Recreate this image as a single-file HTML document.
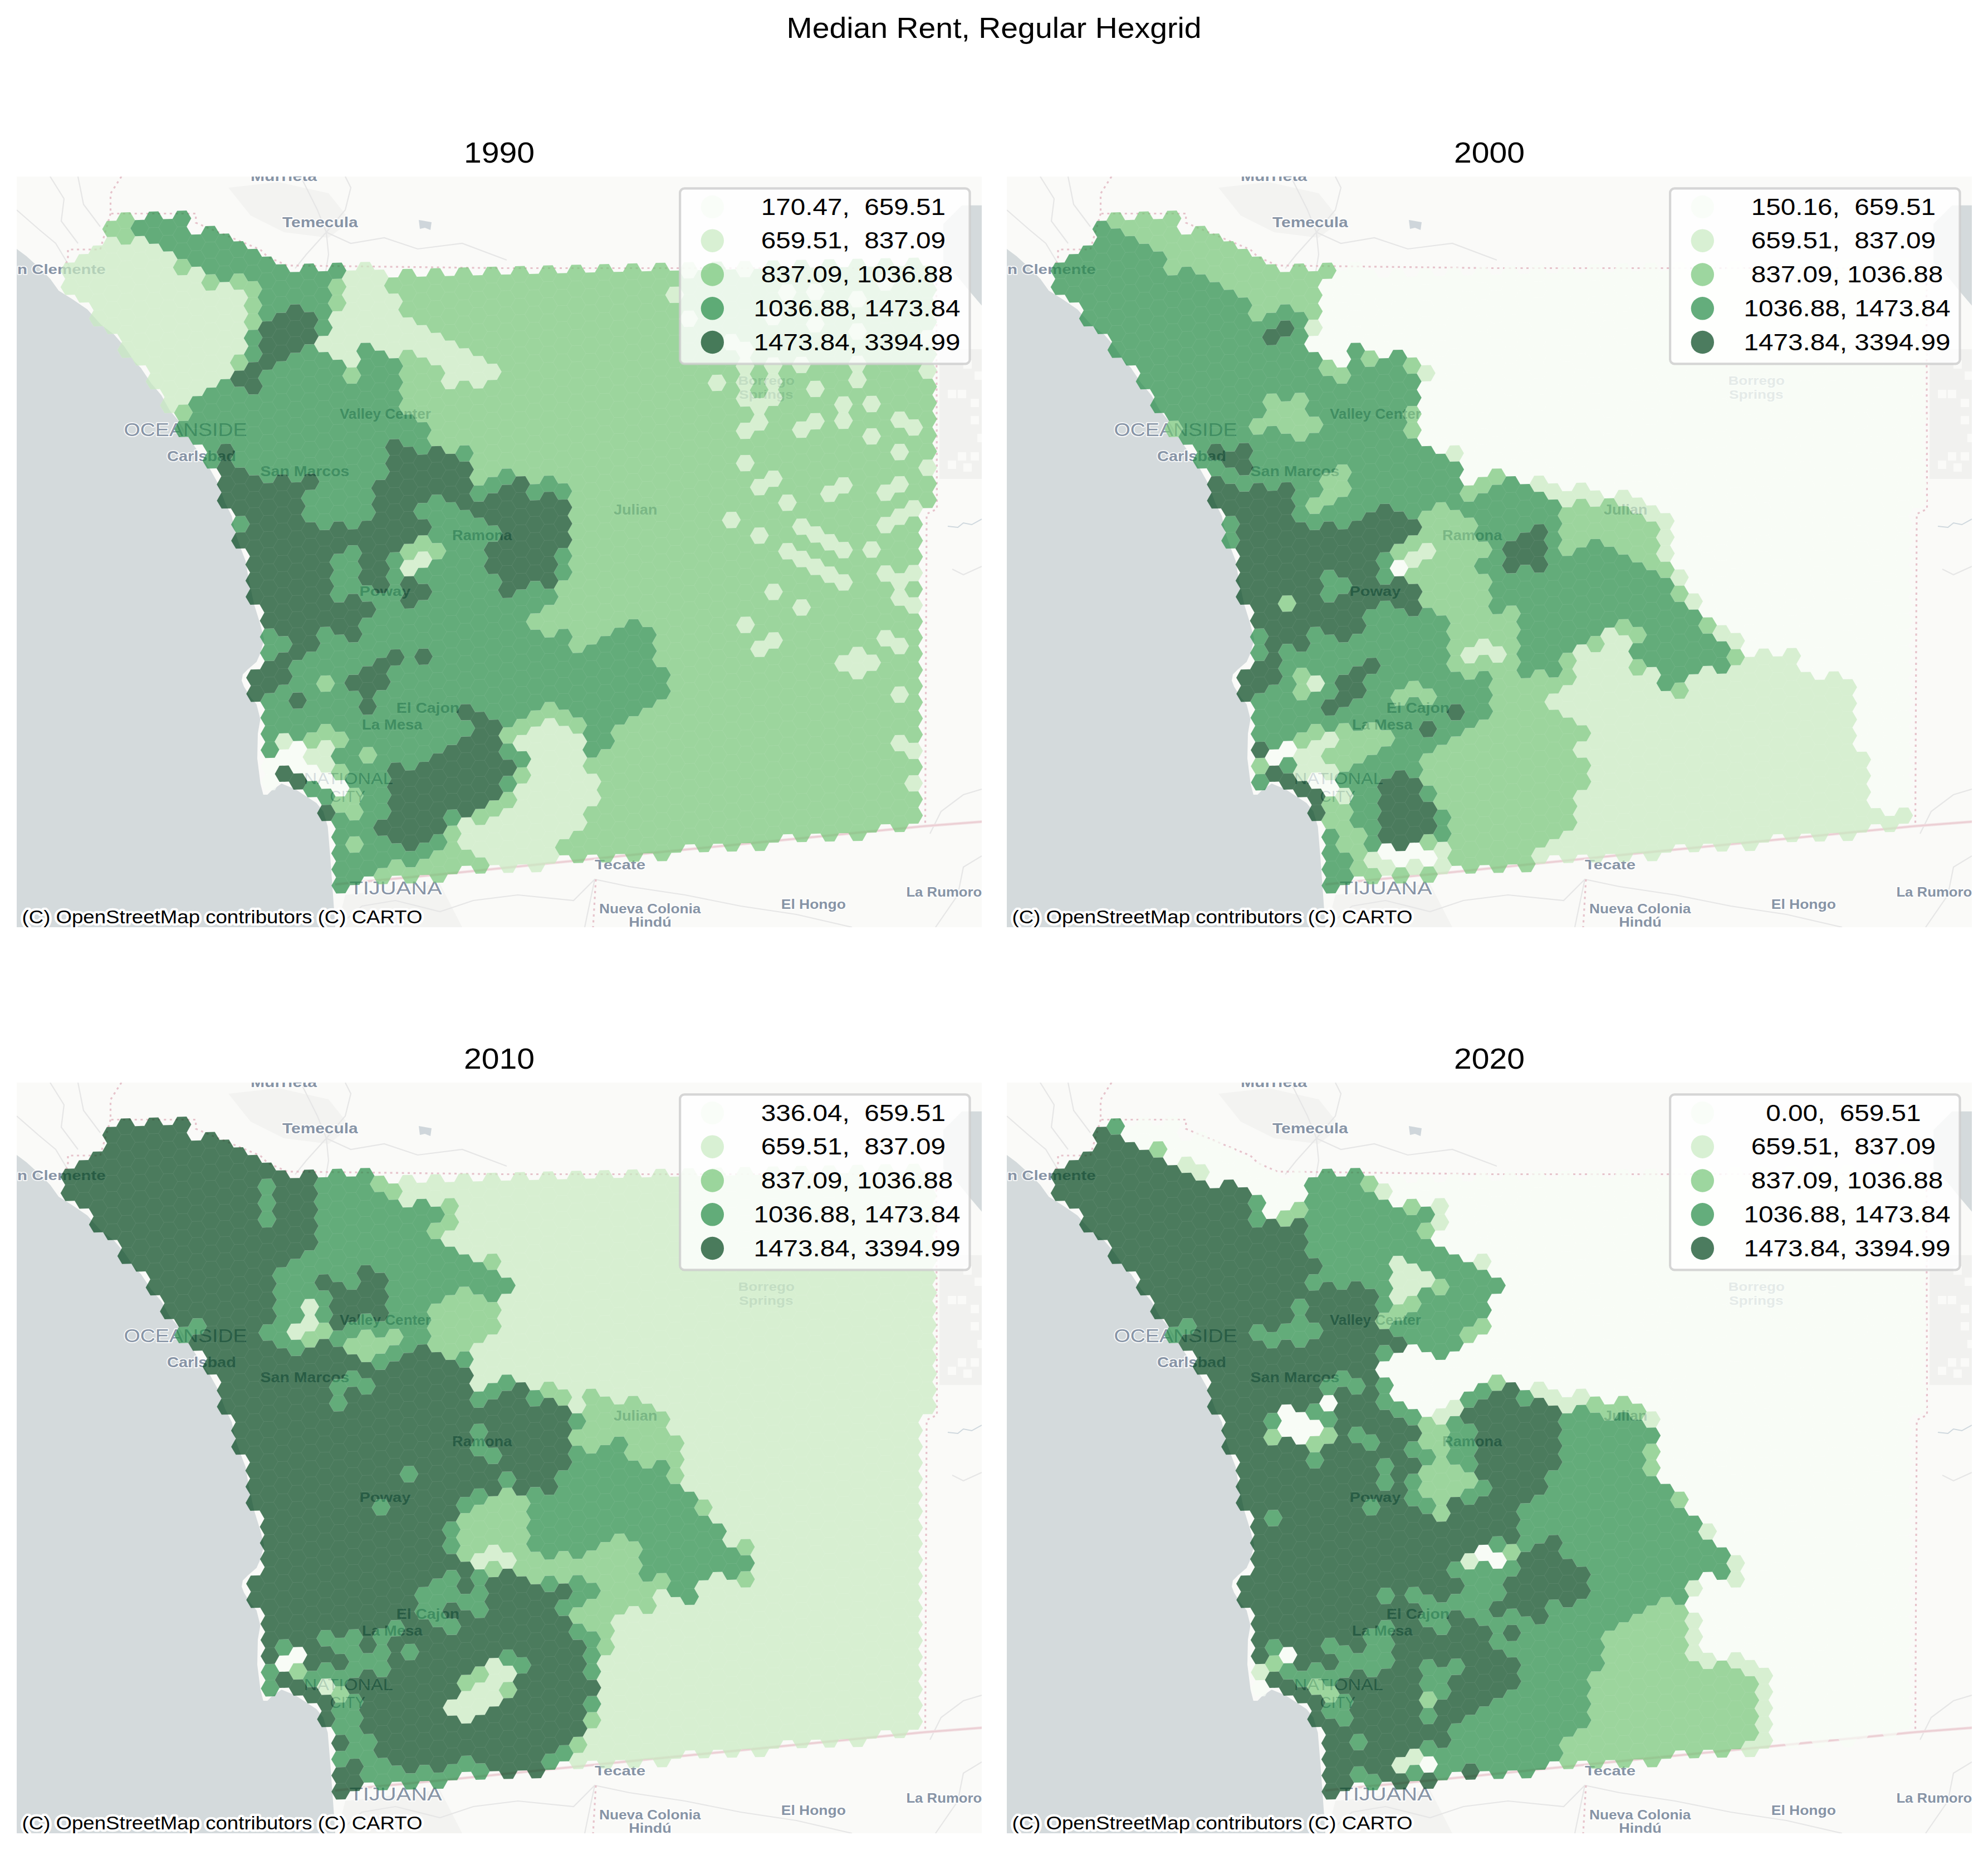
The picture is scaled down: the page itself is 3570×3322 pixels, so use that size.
<!DOCTYPE html>
<html><head><meta charset="utf-8"><title>Median Rent, Regular Hexgrid</title>
<style>html,body{margin:0;padding:0;background:#fff}svg{display:block}text{font-family:"Liberation Sans",sans-serif;fill:#000}</style></head><body>
<svg xmlns="http://www.w3.org/2000/svg" width="3570" height="3322" viewBox="0 0 3570 3322">
<defs><clipPath id="cp"><rect x="0" y="0" width="1733" height="1348"/></clipPath>
<g id="base"><rect width="1733" height="1348" fill="#fafaf8"/><rect x="1657" y="310" width="80" height="233" fill="#f1f1ef"/><rect x="1690" y="383" width="15" height="15" fill="#fafaf8"/><rect x="1713" y="399" width="15" height="15" fill="#fafaf8"/><rect x="1672" y="383" width="15" height="15" fill="#fafaf8"/><rect x="1713" y="430" width="15" height="15" fill="#fafaf8"/><rect x="1690" y="495" width="15" height="15" fill="#fafaf8"/><rect x="1713" y="495" width="15" height="15" fill="#fafaf8"/><rect x="1672" y="510" width="15" height="15" fill="#fafaf8"/><rect x="1700" y="330" width="15" height="15" fill="#fafaf8"/><rect x="1720" y="350" width="15" height="15" fill="#fafaf8"/><rect x="1725" y="462" width="15" height="15" fill="#fafaf8"/><rect x="1700" y="515" width="15" height="15" fill="#fafaf8"/><path fill="#d4dadc" d="M1697.5 51.7L1740.0 51.7L1740.0 240.0L1712.0 207.0L1690.0 180.0L1664.0 155.0L1664.0 85.0z"/><path fill="#cfd6db" d="M722.0 78.0L745.0 82.0L743.0 96.0L733.0 92.0L724.0 94.0z"/><path fill="#f3f3f1" d="M380.0 20.0L470.0 10.0L560.0 30.0L600.0 80.0L560.0 110.0L480.0 100.0L420.0 70.0z"/><path fill="#f3f3f1" d="M590.0 1290.0L760.0 1270.0L800.0 1348.0L575.0 1348.0z"/><path fill="#d4dadc" d="M0.0 130.0L17.5 143.0L44.0 167.0L60.4 184.0L75.5 205.0L99.6 220.0L126.8 238.5L150.9 265.6L175.0 283.7L193.2 304.9L211.3 332.0L223.3 344.1L241.5 371.3L259.6 392.4L274.6 419.5L289.7 437.7L304.8 461.8L332.0 504.0L347.1 525.2L362.2 552.3L374.2 585.5L386.3 609.7L392.4 639.9L404.4 673.1L411.0 690.0L416.0 720.0L426.3 768.3L437.5 804.0L444.2 831.0L438.0 855.0L430.7 871.5L415.0 885.0L406.0 893.9L404.0 905.0L408.3 916.3L420.0 935.0L430.7 947.7L437.5 974.6L433.0 1000.0L432.0 1045.0L437.7 1090.0L442.8 1110.0L450.3 1110.0L457.7 1102.5L475.6 1090.0L500.0 1100.0L538.4 1125.0L550.5 1140.0L558.6 1167.6L563.1 1221.4L567.6 1284.2L572.1 1348.0L0.0 1348.0z"/><path fill="none" stroke="#e6e6e6" stroke-width="2.2" d="M0.0 60.0L40.0 95.0L70.0 120.0L100.0 170.0"/><path fill="none" stroke="#e6e6e6" stroke-width="2.2" d="M60.0 0.0L85.0 40.0L80.0 80.0L110.0 120.0"/><path fill="none" stroke="#e6e6e6" stroke-width="2.2" d="M110.0 0.0L120.0 50.0L150.0 90.0"/><path fill="none" stroke="#e6e6e6" stroke-width="2.2" d="M556.0 100.0L540.0 60.0L520.0 20.0L510.0 0.0"/><path fill="none" stroke="#e6e6e6" stroke-width="2.2" d="M556.0 100.0L590.0 60.0L600.0 20.0L590.0 0.0"/><path fill="none" stroke="#e6e6e6" stroke-width="2.2" d="M556.0 100.0L600.0 120.0L660.0 110.0L720.0 130.0L800.0 120.0L880.0 150.0"/><path fill="none" stroke="#e6e6e6" stroke-width="2.2" d="M556.0 100.0L520.0 140.0L500.0 165.0"/><path fill="none" stroke="#e6e6e6" stroke-width="2.2" d="M556.0 100.0L560.0 140.0L555.0 170.0"/><path fill="none" stroke="#e6e6e6" stroke-width="2.2" d="M575.0 1348.0L620.0 1310.0L680.0 1300.0L760.0 1320.0L820.0 1300.0L900.0 1290.0L1000.0 1300.0L1038.0 1262.0L1100.0 1275.0L1200.0 1290.0L1300.0 1310.0L1400.0 1325.0L1500.0 1348.0"/><path fill="none" stroke="#e6e6e6" stroke-width="2.2" d="M1038.0 1262.0L1030.0 1300.0L1020.0 1348.0"/><path fill="none" stroke="#e6e6e6" stroke-width="2.2" d="M1650.0 1348.0L1690.0 1290.0L1700.0 1240.0L1733.0 1220.0"/><path fill="none" stroke="#e6e6e6" stroke-width="2.2" d="M1640.0 1180.0L1660.0 1140.0L1700.0 1110.0L1733.0 1100.0"/><path fill="none" stroke="#e6e6e6" stroke-width="2.2" d="M1733.0 700.0L1700.0 715.0L1680.0 705.0"/><path fill="none" stroke="#cfd8de" stroke-width="2" d="M1733.0 615.0L1715.0 625.0L1700.0 622.0L1690.0 630.0L1672.0 628.0"/><path fill="none" stroke="#f1dde0" stroke-width="5" d="M572.0 1271.0L772.0 1252.0L1140.0 1214.6L1630.0 1166.5L1740.0 1158.0"/><path fill="none" stroke="#e9c9cf" stroke-width="1.6" d="M572.0 1271.0L772.0 1252.0L1140.0 1214.6L1630.0 1166.5L1740.0 1158.0"/><path fill="none" stroke="#e6c3cb" stroke-width="3.2" stroke-dasharray="4 6.5" d="M188.0 0.0L168.5 30.6L168.5 66.5L321.7 66.5L321.7 83.0L437.6 131.3L450.8 144.4L485.8 159.7L870.0 164.5L1651.4 164.5L1652.5 597.0L1634.0 606.0L1631.5 1166.0"/><path fill="none" stroke="#e6c3cb" stroke-width="3.2" stroke-dasharray="4 6.5" d="M168.5 66.5L150.0 131.0L92.0 131.0L92.0 150.0L78.0 172.0"/><path fill="none" stroke="#e6c3cb" stroke-width="3.2" stroke-dasharray="4 6.5" d="M1040.0 1262.0L1035.0 1348.0"/><text x="420.0" y="8.0" font-size="25.0" font-weight="bold" textLength="119.0" lengthAdjust="spacingAndGlyphs" style="fill:#8794a6" stroke="#fff" stroke-width="3.5" stroke-opacity="0.85" stroke-linejoin="round" paint-order="stroke">Murrieta</text><text x="477.0" y="90.6" font-size="25.7" font-weight="bold" textLength="135.7" lengthAdjust="spacingAndGlyphs" style="fill:#8794a6" stroke="#fff" stroke-width="3.5" stroke-opacity="0.85" stroke-linejoin="round" paint-order="stroke">Temecula</text><text x="1.0" y="175.0" font-size="24.5" font-weight="bold" textLength="158.7" lengthAdjust="spacingAndGlyphs" style="fill:#8794a6" stroke="#fff" stroke-width="3.5" stroke-opacity="0.85" stroke-linejoin="round" paint-order="stroke">n Clemente</text><text x="192.6" y="466.3" font-size="33.5" font-weight="normal" textLength="221.0" lengthAdjust="spacingAndGlyphs" style="fill:#8794a6" stroke="#fff" stroke-width="3.5" stroke-opacity="0.85" stroke-linejoin="round" paint-order="stroke">OCEANSIDE</text><text x="270.0" y="510.9" font-size="25.0" font-weight="bold" textLength="123.9" lengthAdjust="spacingAndGlyphs" style="fill:#8794a6" stroke="#fff" stroke-width="3.5" stroke-opacity="0.85" stroke-linejoin="round" paint-order="stroke">Carlsbad</text><text x="437.6" y="538.0" font-size="25.0" font-weight="bold" textLength="159.8" lengthAdjust="spacingAndGlyphs" style="fill:#8794a6" stroke="#fff" stroke-width="3.5" stroke-opacity="0.85" stroke-linejoin="round" paint-order="stroke">San Marcos</text><text x="579.9" y="435.2" font-size="25.0" font-weight="bold" textLength="164.1" lengthAdjust="spacingAndGlyphs" style="fill:#8794a6" stroke="#fff" stroke-width="3.5" stroke-opacity="0.85" stroke-linejoin="round" paint-order="stroke">Valley Center</text><text x="782.1" y="653.1" font-size="25.0" font-weight="bold" textLength="107.2" lengthAdjust="spacingAndGlyphs" style="fill:#8794a6" stroke="#fff" stroke-width="3.5" stroke-opacity="0.85" stroke-linejoin="round" paint-order="stroke">Ramona</text><text x="1071.9" y="606.9" font-size="25.0" font-weight="bold" textLength="78.5" lengthAdjust="spacingAndGlyphs" style="fill:#8794a6" stroke="#fff" stroke-width="3.5" stroke-opacity="0.85" stroke-linejoin="round" paint-order="stroke">Julian</text><text x="615.4" y="753.0" font-size="24.0" font-weight="bold" textLength="92.0" lengthAdjust="spacingAndGlyphs" style="fill:#8794a6" stroke="#fff" stroke-width="3.5" stroke-opacity="0.85" stroke-linejoin="round" paint-order="stroke">Poway</text><text x="681.8" y="963.3" font-size="25.0" font-weight="bold" textLength="113.2" lengthAdjust="spacingAndGlyphs" style="fill:#8794a6" stroke="#fff" stroke-width="3.5" stroke-opacity="0.85" stroke-linejoin="round" paint-order="stroke">El Cajon</text><text x="620.0" y="992.6" font-size="25.0" font-weight="bold" textLength="108.6" lengthAdjust="spacingAndGlyphs" style="fill:#8794a6" stroke="#fff" stroke-width="3.5" stroke-opacity="0.85" stroke-linejoin="round" paint-order="stroke">La Mesa</text><text x="515.8" y="1091.0" font-size="28.6" font-weight="normal" textLength="160.0" lengthAdjust="spacingAndGlyphs" style="fill:#8794a6" stroke="#fff" stroke-width="3.5" stroke-opacity="0.85" stroke-linejoin="round" paint-order="stroke">NATIONAL</text><text x="562.6" y="1122.7" font-size="28.6" font-weight="normal" textLength="63.4" lengthAdjust="spacingAndGlyphs" style="fill:#8794a6" stroke="#fff" stroke-width="3.5" stroke-opacity="0.85" stroke-linejoin="round" paint-order="stroke">CITY</text><text x="597.4" y="1289.0" font-size="33.5" font-weight="normal" textLength="166.3" lengthAdjust="spacingAndGlyphs" style="fill:#8794a6" stroke="#fff" stroke-width="3.5" stroke-opacity="0.85" stroke-linejoin="round" paint-order="stroke">TIJUANA</text><text x="1038.0" y="1244.0" font-size="24.5" font-weight="bold" textLength="91.0" lengthAdjust="spacingAndGlyphs" style="fill:#8794a6" stroke="#fff" stroke-width="3.5" stroke-opacity="0.85" stroke-linejoin="round" paint-order="stroke">Tecate</text><text x="1046.0" y="1323.3" font-size="23.0" font-weight="bold" textLength="182.4" lengthAdjust="spacingAndGlyphs" style="fill:#8794a6" stroke="#fff" stroke-width="3.5" stroke-opacity="0.85" stroke-linejoin="round" paint-order="stroke">Nueva Colonia</text><text x="1099.3" y="1347.0" font-size="23.0" font-weight="bold" textLength="76.6" lengthAdjust="spacingAndGlyphs" style="fill:#8794a6" stroke="#fff" stroke-width="3.5" stroke-opacity="0.85" stroke-linejoin="round" paint-order="stroke">Hindú</text><text x="1372.8" y="1314.5" font-size="24.0" font-weight="bold" textLength="116.0" lengthAdjust="spacingAndGlyphs" style="fill:#8794a6" stroke="#fff" stroke-width="3.5" stroke-opacity="0.85" stroke-linejoin="round" paint-order="stroke">El Hongo</text><text x="1597.4" y="1292.6" font-size="24.0" font-weight="bold" textLength="164.6" lengthAdjust="spacingAndGlyphs" style="fill:#8794a6" stroke="#fff" stroke-width="3.5" stroke-opacity="0.85" stroke-linejoin="round" paint-order="stroke">La Rumorosa</text><text x="1295.4" y="373.5" font-size="21.6" font-weight="bold" textLength="101.5" lengthAdjust="spacingAndGlyphs" style="fill:#b9c0c9" stroke="#fff" stroke-width="3.5" stroke-opacity="0.85" stroke-linejoin="round" paint-order="stroke">Borrego</text><text x="1297.0" y="398.9" font-size="21.6" font-weight="bold" textLength="97.7" lengthAdjust="spacingAndGlyphs" style="fill:#b9c0c9" stroke="#fff" stroke-width="3.5" stroke-opacity="0.85" stroke-linejoin="round" paint-order="stroke">Springs</text></g>
<path id="seams" fill="none" stroke="#fff" stroke-opacity="0.09" stroke-width="0.9" d="M78.5 169.5l8.2 -14.8l16.9 -0.5l8.5 14.3l16.9 -0.6l8.3 -14.8l-8.6 -14.2l8.3 -14.8l16.9 -0.5l8.5 14.2l16.8 -0.5l8.3 -14.8l-8.5 -14.2l8.3 -14.8l-8.5 -14.3l-16.9 0.5l-8.3 14.8l8.6 14.3l16.8 -0.5M78.5 169.5l8.5 14.3l-8.3 14.8l8.6 14.2l16.8 -0.5l8.3 -14.8l16.8 -0.5l8.3 -14.8l-8.5 -14.3M87 183.8l16.8 -0.6l8.3 -14.7M103.6 154.2l8.3 -14.8l16.8 -0.5M103.8 183.2l8.6 14.3M104.1 212.3l8.5 14.2l16.9 -0.5l8.5 14.3l-8.3 14.7l8.6 14.3l16.8 -0.5l8.3 -14.8l16.8 -0.5l8.3 -14.8l16.8 -0.5l8.3 -14.8l16.9 -0.5l8.3 -14.8l16.8 -0.5l8.3 -14.8l-8.5 -14.3l-16.9 0.5l-8.5 -14.2l8.3 -14.8l-8.5 -14.3l8.3 -14.7l-8.6 -14.3l8.3 -14.8l-8.5 -14.2l8.3 -14.8l16.8 -0.5l8.6 14.2l16.8 -0.5l8.6 14.3l-8.3 14.8l-16.9 0.5l-8.5 -14.3l-16.9 0.5M129.2 197l8.6 14.2l16.8 -0.5l8.5 14.2l16.9 -0.5l8.5 14.3M129.5 226l8.3 -14.8M137.3 153.1l16.8 -0.5l8.3 -14.8M137.5 182.2l16.8 -0.6l8.3 -14.7l16.9 -0.6l8.5 14.3l16.9 -0.5l8.3 -14.8l16.8 -0.5M138 240.3l16.8 -0.6l8.3 -14.8M153.9 123.6l8.3 -14.8M154.1 152.6l8.5 14.3M154.3 181.6l8.6 14.3l16.8 -0.5l8.3 -14.8M154.6 210.7l8.3 -14.8M154.8 239.7l8.6 14.3M155.1 268.8l8.5 14.2l16.9 -0.5l8.2 -14.8l-8.5 -14.2M178.8 79.2l8.3 -14.8l16.8 -0.5l8.5 14.3l-8.3 14.8l-16.8 0.5M179.2 137.3l8.6 14.3l-8.3 14.7M179.7 195.4l8.6 14.2l16.8 -0.5l8.5 14.3M180 224.4l8.3 -14.8M180.5 282.5l8.5 14.3l16.8 -0.6l8.3 -14.7l-8.5 -14.3l-16.9 0.5M180.7 311.5l8.3 -14.7M180.7 311.5l8.5 14.3l16.9 -0.5l8.2 -14.8l16.9 -0.5l8.3 -14.8l16.8 -0.5l8.3 -14.8l-8.5 -14.2l-16.9 0.5l-8.5 -14.3l8.3 -14.8l-8.5 -14.2M187.5 122.5l16.9 -0.5l8.5 14.3l16.9 -0.6M187.8 151.6l16.8 -0.6l8.3 -14.7M204.1 93l8.6 14.2l-8.3 14.8M204.6 151l8.6 14.3M204.9 180.1l8.5 14.2l-8.3 14.8M205.3 238.2l8.6 14.2l-8.3 14.8M205.8 296.2l8.5 14.3M206.1 325.3l8.5 14.2l16.8 -0.5l8.3 -14.8l-8.5 -14.2M212.4 78.2l16.9 -0.5M212.7 107.2l16.8 -0.5M213.4 194.3l16.8 -0.5l8.6 14.3M213.9 252.4l16.8 -0.5M214.1 281.5l16.8 -0.6l8.6 14.3M230.2 193.8l8.3 -14.8M230.9 280.9l8.3 -14.7M231.4 339l8.5 14.3l16.8 -0.5l8.3 -14.8l-8.5 -14.3l-16.8 0.5M231.6 368.1l8.3 -14.8M231.6 368.1l8.6 14.2l16.8 -0.5l8.3 -14.8l-8.6 -14.2M238.1 121l16.8 -0.5l8.3 -14.8M238.3 150l16.8 -0.5l8.3 -14.8l16.9 -0.5l8.3 -14.8l16.8 -0.5l8.3 -14.7l16.9 -0.5l8.3 -14.8l16.8 -0.5l8.6 14.3l16.8 -0.5l8.5 14.3l-8.3 14.7l8.6 14.3l16.8 -0.5l8.3 -14.8l-8.5 -14.2l-16.9 0.5M239 237.1l16.8 -0.5l8.3 -14.8l-8.5 -14.2M254.7 91.4l8.3 -14.8M254.9 120.5l8.5 14.2M255.1 149.5l8.6 14.3l16.8 -0.5l8.5 14.2l-8.3 14.8l-16.8 0.5M255.4 178.5l8.3 -14.7M255.8 236.6l8.6 14.3l16.8 -0.5l8.5 14.2l16.8 -0.5l8.3 -14.7l16.9 -0.5l8.3 -14.8l-8.5 -14.3l-16.9 0.5l-8.5 -14.2l8.3 -14.8l16.8 -0.5l8.4 -14.8l16.8 -0.5l8.3 -14.8l-8.5 -14.2l-16.9 0.5l-8.5 -14.3l8.3 -14.8l-8.5 -14.2M256.1 265.7l8.3 -14.8M256.3 294.7l8.5 14.3l16.8 -0.5l8.3 -14.8l16.9 -0.5l8.3 -14.8l16.8 -0.5l8.3 -14.8l16.8 -0.5l8.3 -14.7l-8.5 -14.3l-16.8 0.5M256.5 323.7l8.3 -14.7M257 381.8l8.5 14.3l16.8 -0.5l8.5 14.2l-8.3 14.8l8.6 14.3l16.8 -0.5l8.3 -14.8l16.8 -0.5l8.3 -14.8l-8.5 -14.2l-16.9 0.5l-8.5 -14.3l8.3 -14.8l-8.5 -14.2l8.3 -14.8l-8.5 -14.3l8.3 -14.8l-8.5 -14.2M257.2 410.9l8.3 -14.8M257.2 410.9l8.5 14.2l16.8 -0.5M264.1 221.8l16.9 -0.5l8.3 -14.7l16.8 -0.5M264.6 279.9l16.8 -0.5l8.3 -14.8M265 338l16.9 -0.5l8.5 14.3l16.8 -0.5M265.3 367l16.8 -0.5l8.3 -14.7M279.8 76.1l8.3 -14.7l16.9 -0.5l8.5 14.2l-8.3 14.8l-16.8 0.5M280.1 105.2l8.5 14.2M280.3 134.2l8.5 14.3l16.9 -0.5l8.5 14.2l16.8 -0.5l8.3 -14.7M280.5 163.3l8.3 -14.8M280.7 192.3l8.6 14.3M281 221.3l8.5 14.3l-8.3 14.8M281.4 279.4l8.5 14.3M281.6 308.5l8.6 14.2l16.8 -0.5M281.9 337.5l8.3 -14.8M282.1 366.5l8.5 14.3l-8.3 14.8M282.8 453.7l8.3 -14.8M282.8 453.7l8.5 14.2l16.8 -0.5l8.3 -14.8l-8.5 -14.2M289 177.5l16.9 -0.5l8.3 -14.8M289.5 235.6l16.8 -0.5l8.5 14.3M290.6 380.8l16.8 -0.5M290.8 409.8l16.8 -0.5l8.6 14.3M305.2 89.9l8.5 14.3M305.4 118.9l8.6 14.3l16.8 -0.5M305.7 148l8.3 -14.8M305.9 177l8.5 14.3M306.3 235.1l8.3 -14.8M306.5 264.1l8.6 14.3M307.6 409.3l8.3 -14.7M308.1 467.4l8.5 14.3l16.8 -0.5l8.5 14.3l-8.3 14.7l8.5 14.3l16.8 -0.5l8.3 -14.8l16.8 -0.5l8.3 -14.7l16.8 -0.5l8.3 -14.8l16.9 -0.5l8.5 14.3l16.8 -0.5l8.3 -14.7l16.8 -0.5l8.3 -14.8l-8.5 -14.2l8.3 -14.8l-8.5 -14.3l-16.8 0.5l-8.5 -14.3l8.3 -14.8l-8.5 -14.2l8.3 -14.8l-8.5 -14.3l8.3 -14.7l-8.5 -14.3l8.3 -14.8l16.8 -0.4l8.3 -14.8l16.9 -0.5l8.3 -14.7l16.8 -0.5l8.3 -14.8l-8.5 -14.2l-16.8 0.4l-8.5 -14.3l-16.8 0.5l-8.6 -14.3l8.4 -14.7l16.8 -0.5l8.3 -14.8l-8.5 -14.2l-16.8 0.4l-8.5 -14.2l-16.9 0.4l-8.5 -14.3l-16.8 0.5l-8.3 14.8l-16.9 0.5l-8.5 -14.3M315.3 307.4l16.8 -0.5l8.5 14.3l16.9 -0.5l8.3 -14.8l-8.6 -14.2l8.3 -14.8l-8.5 -14.3M315.5 336.5l16.8 -0.5l8.3 -14.8M315.7 365.5l16.8 -0.5l8.3 -14.7l16.9 -0.5l8.3 -14.8l16.8 -0.5l8.3 -14.8l16.8 -0.5l8.3 -14.7l16.9 -0.5l8.3 -14.8l-8.5 -14.2l-16.9 0.4l-8.5 -14.2l8.3 -14.8l-8.5 -14.3l8.3 -14.7l-8.5 -14.3l8.3 -14.8l-8.5 -14.3l8.3 -14.7M316.4 452.6l16.8 -0.5l8.3 -14.7l-8.5 -14.3M331 161.7l8.6 14.3M331.2 190.8l8.6 14.3l16.8 -0.5l8.3 -14.8l-8.5 -14.3M331.5 219.8l8.3 -14.7M331.7 248.9l8.5 14.2M331.9 277.9l8.5 14.3l16.8 -0.5M332.1 306.9l8.3 -14.7M332.3 336l8.5 14.3M332.5 365l8.6 14.3l16.8 -0.5l8.5 14.3l16.8 -0.5l8.3 -14.8l-8.5 -14.3l-16.8 0.5l-8.5 -14.2M332.8 394.1l8.3 -14.8M333.2 452.1l8.5 14.3l16.8 -0.5l8.5 14.3l16.8 -0.5l8.3 -14.8l-8.5 -14.2l8.3 -14.8l-8.5 -14.3l8.3 -14.7l16.8 -0.5l8.3 -14.8l16.9 -0.5l8.3 -14.7l-8.5 -14.3l8.3 -14.8l-8.5 -14.3l-16.9 0.5l-8.5 -14.3M333.4 481.2l8.3 -14.8M339.1 117.9l16.9 -0.5l8.3 -14.7M341.3 408.3l16.8 -0.5l8.3 -14.7M341.5 437.4l16.8 -0.5l8.3 -14.8l16.8 -0.5M341.9 495.5l16.8 -0.5l8.3 -14.8M356 117.4l8.5 14.3l16.8 -0.5M356.2 146.5l8.3 -14.8M356.6 204.6l8.5 14.2l16.9 -0.5l8.3 -14.7l-8.6 -14.3l8.4 -14.8l16.8 -0.5M356.8 233.6l8.3 -14.8M357.5 320.7l8.5 14.3M357.9 378.8l8.3 -14.8M358.1 407.8l8.5 14.3M358.3 436.9l8.5 14.2l16.8 -0.4M358.5 465.9l8.3 -14.8M358.7 495l8.5 14.2M358.9 524l8.5 14.3l16.8 -0.5l8.6 14.3l16.8 -0.5l8.3 -14.8l-8.6 -14.3l8.3 -14.7l-8.5 -14.3M359.2 553l8.2 -14.7M359.2 553l8.5 14.3l-8.3 14.8l8.5 14.2l16.8 -0.4l8.3 -14.8l16.8 -0.5l8.3 -14.8l-8.5 -14.2M364.7 160.7l16.8 -0.4l8.4 -14.8M364.9 189.8l16.8 -0.5M365.3 247.9l16.9 -0.5l8.3 -14.8l16.8 -0.5M365.5 276.9l16.9 -0.5l8.3 -14.7l16.8 -0.5M365.8 305.9l16.8 -0.4l8.5 14.2M367.7 567.3l16.8 -0.5l8.5 14.3M381.5 160.3l8.6 14.2M382 218.3l8.5 14.3M382.2 247.4l8.5 14.3M382.4 276.4l8.5 14.3l-8.3 14.8M382.8 334.5l8.5 14.3l-8.3 14.7M383.2 392.6l8.5 14.3M383.8 479.7l8.5 14.3M384 508.7l8.5 14.3l-8.3 14.8M384.5 566.8l8.3 -14.7M384.7 595.9l8.5 14.2l-8.3 14.8l8.5 14.3l16.8 -0.5l8.3 -14.8l-8.5 -14.3l8.3 -14.7l-8.5 -14.3M385.1 653.9l8.3 -14.7M385.1 653.9l8.5 14.3l16.8 -0.5l8.3 -14.7l-8.5 -14.3M390.3 203.6l16.8 -0.5M390.9 290.7l16.8 -0.5l8.5 14.3M391.3 348.8l16.8 -0.5l8.3 -14.8M391.5 377.8l16.8 -0.5l8.5 14.3M391.9 435.9l16.8 -0.5l8.3 -14.8l-8.5 -14.2M392.1 464.9l16.8 -0.5l8.5 14.3M392.5 523l16.8 -0.5M393.2 610.1l16.8 -0.5M407.7 290.2l8.3 -14.8M408.1 348.3l8.5 14.3l16.9 -0.5M408.3 377.3l8.3 -14.7M408.7 435.4l8.5 14.3l16.9 -0.5l8.3 -14.8l-8.5 -14.2l-16.9 0.4M408.9 464.4l8.3 -14.7M410.4 667.7l8.5 14.3l16.8 -0.5l8.4 14.3l-8.2 14.8l-16.8 0.4l-8.3 14.8l8.5 14.3l16.8 -0.5l8.2 -14.8l-8.4 -14.2M410.6 696.8l8.3 -14.8M410.6 696.8l8.5 14.2M411 754.8l8.3 -14.7M411 754.8l8.5 14.3l16.8 -0.5l8.4 14.3l-8.2 14.8l8.4 14.3l16.8 -0.5l8.3 -14.8l16.8 -0.5l8.3 -14.7l16.7 -0.5l8.3 -14.8l16.8 -0.4l8.3 -14.8l-8.5 -14.3l-16.7 0.5l-8.5 -14.3l8.3 -14.7l-8.5 -14.3l-16.8 0.5l-8.3 14.7l-16.8 0.5l-8.3 14.7l-16.8 0.5M412 900l8.3 -14.7l16.7 -0.5l8.3 -14.8l-8.5 -14.2l8.3 -14.8l-8.5 -14.3l8.3 -14.7M412 900l8.5 14.3l16.7 -0.5l8.5 14.3l16.8 -0.5l8.5 14.3l-8.3 14.8l-16.8 0.5l-8.3 14.7l8.5 14.3l16.8 -0.5l8.3 -14.8l-8.5 -14.2M412.2 929.1l8.3 -14.8M412.2 929.1l8.5 14.3l16.7 -0.5l8.3 -14.8M415 130.2l16.9 -0.4l8.5 14.2M415.4 188.3l16.9 -0.5l8.5 14.3l16.8 -0.5l8.5 14.3l-8.3 14.8l-16.8 0.5l-8.3 14.7l-16.9 0.5M415.6 217.4l16.9 -0.5l8.3 -14.8M417.6 507.8l16.9 -0.5l8.5 14.3l16.8 -0.5l8.5 14.2l16.8 -0.4l8.3 -14.8l-8.5 -14.3l8.3 -14.7l-8.5 -14.3M417.9 536.8l16.8 -0.5l8.3 -14.7M418.1 565.8l16.8 -0.4l8.3 -14.8l16.8 -0.5l8.3 -14.8M418.3 594.9l16.8 -0.5l8.4 14.3l16.8 -0.5l8.5 14.3l16.8 -0.5l8.3 -14.8l16.8 -0.4l8.5 14.2l16.8 -0.4l8.3 -14.8l16.8 -0.4l8.3 -14.8l16.8 -0.5l8.3 -14.7l16.8 -0.5l8.3 -14.7l-8.5 -14.3l8.4 -14.8l-8.5 -14.2l-16.8 0.4l-8.5 -14.3l8.3 -14.7l16.8 -0.5l8.3 -14.7l-8.5 -14.3l8.4 -14.8l-8.5 -14.3l8.3 -14.7l-8.5 -14.3l-16.8 0.5l-8.3 14.7l-16.9 0.5l-8.3 14.7l-16.8 0.5l-8.3 14.7l-16.8 0.5l-8.3 14.8l-16.8 0.4M418.5 623.9l16.8 -0.5l8.2 -14.7M418.7 653l16.8 -0.5l8.4 14.3l16.8 -0.5l8.5 14.2l-8.3 14.8l-16.8 0.5M432.1 158.8l8.5 14.3l16.8 -0.5l8.3 -14.8M432.3 187.8l8.3 -14.7M432.5 216.9l8.5 14.3M432.7 245.9l8.5 14.3l16.8 -0.5l8.5 14.3l-8.3 14.7l-16.8 0.5M432.9 275l8.3 -14.8M433.1 304l8.5 14.3l16.8 -0.5M433.3 333l8.3 -14.7M433.7 391.1l8.5 14.3l16.8 -0.5M433.9 420.2l8.3 -14.8M434.1 449.2l8.5 14.3l-8.3 14.7M434.5 507.3l8.3 -14.8M434.7 536.3l8.5 14.3M434.9 565.4l8.4 14.2l16.8 -0.5l8.3 -14.7l-8.4 -14.3M435.1 594.4l8.2 -14.8M435.3 623.4l8.4 14.3l16.8 -0.5l8.3 -14.7M435.5 652.5l8.2 -14.8M435.7 681.5l8.2 -14.7M436.1 739.6l8.4 14.3l16.8 -0.5l8.5 14.3l16.8 -0.5l8.5 14.3M436.3 768.6l8.2 -14.7M437 884.8l8.5 14.3l16.8 -0.5l8.3 -14.8l16.7 -0.4l8.3 -14.8l-8.4 -14.3l8.2 -14.7l-8.4 -14.3l-16.8 0.4l-8.5 -14.2M437.2 913.8l8.3 -14.7M437.4 942.9l8.5 14.3M437.8 1001l8.3 -14.8M437.8 1001l8.5 14.2l16.8 -0.5l8.5 14.3l-8.3 14.8l-16.8 0.5l-8.3 14.7l8.5 14.3l16.8 -0.5l8.4 14.3l-8.2 14.8l-16.8 0.5l-8.5 -14.3l8.3 -14.8M438 1030l8.3 -14.8M438 1030l8.5 14.3M441.8 347.3l16.8 -0.5M442 376.4l16.8 -0.5M442.4 434.4l16.8 -0.5l8.5 14.3l16.8 -0.4M442.6 463.5l16.8 -0.5l8.3 -14.8M444.7 782.9l16.8 -0.5l8.3 -14.7M445.1 841l16.8 -0.5l8.5 14.3l16.8 -0.5M445.3 870l16.8 -0.5l8.3 -14.7M457.4 172.6l8.5 14.3l-8.3 14.7M457.8 230.7l8.5 14.2l-8.3 14.8M458.2 288.7l8.5 14.3M459.2 433.9l8.3 -14.7M459.4 463l8.5 14.3M459.6 492l8.5 14.3l-8.3 14.8M460.1 579.1l8.5 14.3l-8.3 14.8M460.5 637.2l8.5 14.3l-8.3 14.8M460.9 695.3l8.5 14.3M461.1 724.3l8.5 14.3l16.8 -0.4l8.5 14.2l-8.3 14.8M461.3 753.4l8.3 -14.8M461.5 782.4l8.5 14.3M461.9 840.5l8.3 -14.8M462.1 869.5l8.5 14.3M462.3 898.6l8.5 14.3l16.7 -0.5l8.5 14.3l16.8 -0.5l8.3 -14.8l-8.5 -14.2l-16.8 0.4l-8.3 14.8M462.5 927.6l8.3 -14.7M462.9 985.7l8.5 14.3l-8.3 14.7M463.3 1043.8l8.4 14.3l-8.2 14.7M465.9 186.9l16.9 -0.5l8.3 -14.8M466.1 215.9l16.8 -0.5M466.3 244.9l16.8 -0.4l8.6 14.3l16.8 -0.5l8.3 -14.8M466.5 274l16.8 -0.5l8.4 -14.7M466.9 332.1l16.8 -0.5l8.5 14.3l16.8 -0.5l8.4 -14.8l-8.5 -14.2l-16.9 0.4l-8.5 -14.2M467.1 361.1l16.8 -0.5l8.3 -14.7M467.3 390.1l16.8 -0.4l8.3 -14.8l-8.5 -14.3M468.1 506.3l16.8 -0.5M468.4 564.4l16.8 -0.5l8.3 -14.7l16.8 -0.5l8.4 -14.8l-8.5 -14.3l-16.8 0.5M468.6 593.4l16.8 -0.4l8.5 14.2M469 651.5l16.8 -0.5l8.3 -14.7l-8.5 -14.3M469.2 680.5l16.8 -0.4l8.5 14.3M471 941.9l16.7 -0.5l8.3 -14.7M471.2 970.9l16.7 -0.4l8.3 -14.8l-8.5 -14.3M471.4 1000l16.7 -0.5l8.3 -14.7l-8.5 -14.3M471.6 1029l16.7 -0.4l8.3 -14.8l16.7 -0.5l8.3 -14.7l-8.4 -14.3l-16.8 0.5M471.7 1058.1l16.8 -0.5l8.3 -14.8l-8.5 -14.2M471.9 1087.1l16.8 -0.5l8.5 14.3l16.7 -0.5l8.3 -14.7l16.7 -0.5l8.3 -14.7l-8.5 -14.3l-16.7 0.4l-8.5 -14.2l-16.7 0.4M482.8 186.4l8.5 14.3M483.1 244.5l8.4 -14.8M483.3 273.5l8.5 14.3M483.7 331.6l8.3 -14.8M484.1 389.7l8.5 14.3l-8.3 14.7M485.1 534.9l8.4 14.3M485.2 563.9l8.5 14.3l16.8 -0.5l8.3 -14.7l-8.5 -14.3M485.4 593l8.3 -14.8M485.8 651l8.5 14.3l16.8 -0.5l8.3 -14.7l-8.5 -14.3l-16.8 0.5M486 680.1l8.3 -14.8M486.2 709.1l8.5 14.3l-8.3 14.8M486.8 796.2l8.5 14.3l16.7 -0.5l8.5 14.3l16.8 -0.4l8.3 -14.8l-8.5 -14.3l8.3 -14.7l-8.5 -14.3M487 825.3l8.3 -14.8M487.3 883.4l8.5 14.2M488.1 999.5l8.5 14.3M488.5 1057.6l8.5 14.3l16.7 -0.5l8.3 -14.8M488.7 1086.6l8.3 -14.7M492.4 374.9l16.8 -0.5l8.3 -14.7l16.9 -0.5l8.3 -14.7l-8.5 -14.3l-16.8 0.4M492.6 404l16.8 -0.5l8.5 14.3l16.8 -0.5l8.3 -14.8l-8.5 -14.2l8.4 -14.8l-8.5 -14.3M492.8 433l16.8 -0.5l8.3 -14.7M493.2 491.1l16.8 -0.5l8.5 14.3l-8.3 14.7M494.7 723.4l16.8 -0.5M494.9 752.4l16.8 -0.4l8.4 14.2M495.4 839.6l16.8 -0.5l8.3 -14.8M495.6 868.6l16.8 -0.5l8.3 -14.7l16.8 -0.5l8.3 -14.8l16.7 -0.4l8.5 14.3l-8.3 14.7l8.5 14.3l-8.3 14.8l-16.8 0.4l-8.5 -14.3l8.3 -14.7l-8.4 -14.3M496.2 955.7l16.8 -0.5l8.3 -14.7l-8.5 -14.3M507.9 171.2l8.3 -14.8l16.9 -0.5l8.5 14.3l16.8 -0.4l8.4 -14.8l16.8 -0.5l8.5 14.3l-8.3 14.8l-16.9 0.4l-8.3 14.8l-16.8 0.5l-8.4 14.7l-16.8 0.5l-8.5 -14.3M508.3 229.2l8.3 -14.7M508.5 258.3l8.5 14.3M508.7 287.3l8.5 14.3l16.8 -0.5l8.3 -14.7l-8.5 -14.3M508.9 316.4l8.3 -14.8M509 345.4l8.5 14.3M509.2 374.4l8.5 14.3l16.8 -0.4M509.4 403.5l8.3 -14.8M509.6 432.5l8.5 14.3M509.8 461.6l8.5 14.2l16.8 -0.4l8.5 14.3l16.8 -0.5l8.5 14.3l-8.3 14.7l8.5 14.3l-8.4 14.8l8.5 14.3l16.8 -0.5l8.5 14.3M510 490.6l8.3 -14.8M510.5 577.7l8.5 14.3l-8.3 14.8M510.9 635.8l8.3 -14.8M511.1 664.8l8.5 14.3l16.8 -0.4l8.3 -14.8l-8.5 -14.3l-16.8 0.5M511.3 693.9l8.3 -14.8M511.7 752l8.3 -14.8M511.8 781l8.5 14.3l16.8 -0.5M512 810l8.3 -14.7M512.2 839.1l8.5 14.3M512.4 868.1l8.5 14.3l16.7 -0.5M512.6 897.2l8.3 -14.8M513 955.2l8.4 14.3l16.8 -0.4l8.5 14.2l16.7 -0.4l8.3 -14.8l-8.5 -14.3l8.3 -14.7l-8.4 -14.3l8.3 -14.8l16.7 -0.4l8.3 -14.8l16.8 -0.4l8.3 -14.8l-8.5 -14.3l-16.8 0.5l-8.4 -14.3l8.3 -14.7l-8.5 -14.3l8.3 -14.8l-8.5 -14.3l8.3 -14.7l-8.4 -14.3l8.3 -14.8l16.7 -0.4l8.3 -14.8l16.8 -0.4l8.3 -14.8l-8.4 -14.3l-16.8 0.5l-8.5 -14.3l-16.8 0.5l-8.5 -14.3l8.3 -14.8l16.8 -0.4l8.3 -14.8l16.8 -0.4l8.3 -14.8l-8.4 -14.3l-16.8 0.5l-8.5 -14.3l8.3 -14.8l-8.5 -14.3M513.2 984.3l8.2 -14.8M513.3 1013.3l8.5 14.3l16.8 -0.5l8.2 -14.7l16.8 -0.5l8.3 -14.7l16.7 -0.5l8.3 -14.7l16.8 -0.5l8.5 14.3l16.7 -0.5l8.3 -14.7l16.8 -0.5l8.3 -14.7l16.7 -0.5l8.3 -14.7l-8.4 -14.3l-16.8 0.5l-8.3 14.7l-16.8 0.4l-8.4 -14.2l8.3 -14.8l-8.5 -14.3l8.3 -14.7l16.8 -0.5l8.3 -14.7l16.7 -0.5l8.4 -14.7l16.7 -0.5l8.3 -14.7l-8.4 -14.3l-16.8 0.4l-8.5 -14.3l-16.7 0.5l-8.5 -14.3l8.3 -14.7l16.8 -0.5l8.3 -14.7l16.8 -0.5l8.3 -14.7l-8.5 -14.3l-16.8 0.4l-8.4 -14.3l-16.8 0.5l-8.3 14.7l-16.8 0.5l-8.5 -14.3M513.5 1042.4l8.3 -14.8M513.7 1071.4l8.5 14.3M513.9 1100.4l8.5 14.3l16.7 -0.4l8.3 -14.8l-8.5 -14.3M516.4 185.4l16.9 -0.4l8.3 -14.8M518.5 504.9l16.8 -0.5l8.3 -14.7M518.7 533.9l16.8 -0.4l8.3 -14.8l16.8 -0.5M518.8 563l16.8 -0.5l8.5 14.3l16.8 -0.5l8.3 -14.7M519 592l16.8 -0.5l8.3 -14.7M519.8 708.2l16.8 -0.5l8.3 -14.8l-8.5 -14.2M521.1 911.4l16.7 -0.4l8.3 -14.8M521.3 940.5l16.7 -0.5l8.3 -14.7l16.8 -0.5M521.6 998.6l16.8 -0.5l8.3 -14.8M533.3 185l8.5 14.3M533.4 214l8.6 14.3l16.8 -0.5l8.5 14.3l-8.3 14.8l-16.9 0.4M533.6 243.1l8.4 -14.8M534 301.1l8.5 14.3l16.8 -0.4l8.5 14.2l16.8 -0.4l8.4 -14.8l-8.5 -14.3l8.3 -14.7l-8.5 -14.3l8.3 -14.7l16.8 -0.5l8.4 -14.8l16.8 -0.4l8.3 -14.8l-8.5 -14.2l-16.8 0.4l-8.5 -14.3l-16.8 0.5l-8.5 -14.3M534.2 330.2l8.3 -14.8M534.7 417.3l8.5 14.3M534.9 446.3l8.5 14.3l16.8 -0.4l8.5 14.2l-8.3 14.8M535.1 475.4l8.3 -14.8M535.3 504.4l8.5 14.3M535.5 533.5l8.4 14.2l16.8 -0.4M535.6 562.5l8.3 -14.8M535.8 591.5l8.5 14.3M536 620.6l8.5 14.3l16.8 -0.5l8.5 14.3l-8.3 14.7l-16.8 0.5M536.2 649.6l8.3 -14.7M536.6 707.7l8.4 14.3l16.8 -0.5l8.5 14.3l-8.3 14.8l-16.8 0.4M536.7 736.7l8.3 -14.7M537.3 823.9l8.5 14.2M537.8 911l8.5 14.3M538 940l8.5 14.3l16.7 -0.5M538.2 969.1l8.3 -14.8M538.4 998.1l8.4 14.3M538.6 1027.1l8.4 14.3l16.8 -0.4l8.4 14.2l-8.2 14.8l-16.8 0.5M538.7 1056.2l8.3 -14.8M539.1 1114.3l8.5 14.2l16.7 -0.4l8.5 14.3l16.7 -0.5l8.3 -14.7l-8.5 -14.3l8.3 -14.8l-8.4 -14.3l8.3 -14.7l16.7 -0.5l8.3 -14.7l16.7 -0.5l8.3 -14.7l-8.4 -14.3l-16.8 0.4l-8.4 -14.3l-16.8 0.5l-8.5 -14.3M539.3 1143.3l8.3 -14.8M539.3 1143.3l8.5 14.3l16.7 -0.5l8.3 -14.7M542.3 286.4l16.8 -0.5l8.4 -14.7l16.8 -0.5M542.7 344.5l16.8 -0.5l8.3 -14.8M542.9 373.5l16.8 -0.5l8.3 -14.7l16.8 -0.5l8.3 -14.7l-8.5 -14.3M543 402.5l16.9 -0.4l8.4 14.3M544.9 692.9l16.7 -0.4l8.3 -14.8l16.8 -0.4M545.4 780.1l16.8 -0.5l8.3 -14.8l16.8 -0.4M545.6 809.1l16.8 -0.5l8.4 14.3l16.8 -0.4M545.9 867.2l16.8 -0.5M547.4 1099.5l16.7 -0.5l8.3 -14.7l16.8 -0.5M558.4 169.8l8.5 14.2M558.6 198.8l8.5 14.3l-8.3 14.7M559 256.9l8.5 14.3M559.1 285.9l8.5 14.3l-8.3 14.8M559.5 344l8.5 14.3M559.7 373l8.5 14.3l16.8 -0.4l8.5 14.3M559.9 402.1l8.3 -14.8M560 431.1l8.5 14.3l16.8 -0.5l8.4 -14.7l-8.5 -14.3M560.2 460.2l8.3 -14.8M560.9 576.3l8.5 14.3M561.1 605.4l8.5 14.2l16.8 -0.4l8.5 14.3l16.8 -0.5l8.4 14.3M561.3 634.4l8.3 -14.8M561.5 663.4l8.4 14.3M561.6 692.5l8.5 14.3l-8.3 14.7M562 750.6l8.5 14.2M562.2 779.6l8.4 14.3l16.8 -0.5M562.4 808.6l8.2 -14.7M562.5 837.7l8.3 -14.8M562.9 895.8l8.5 14.2M563.4 982.9l8.5 14.3M563.6 1011.9l8.5 14.3l-8.3 14.8M564 1070l8.4 14.3M564.1 1099l8.5 14.3l-8.3 14.8M564.5 1157.1l8.5 14.3l-8.3 14.8l8.4 14.2l-8.3 14.8l8.5 14.3l16.7 -0.5l8.3 -14.7l-8.4 -14.3l8.2 -14.8l-8.4 -14.3l8.3 -14.7l16.7 -0.5l8.3 -14.7l16.7 -0.5l8.3 -14.7l-8.4 -14.3l-16.8 0.4l-8.4 -14.2l-16.8 0.4M565 1244.2l8.3 -14.7M565 1244.2l8.5 14.3l-8.3 14.8l8.5 14.3l16.7 -0.5l8.3 -14.7l-8.5 -14.3l8.3 -14.8l-8.5 -14.3M567.1 213.1l16.8 -0.5l8.5 14.3l-8.3 14.8l-16.8 0.4M567.6 300.2l16.9 -0.5M568.7 474.4l16.8 -0.4l8.5 14.3M568.9 503.5l16.8 -0.5M569.1 532.5l16.8 -0.4l8.3 -14.8M569.8 648.7l16.8 -0.5l8.3 -14.7M570.1 706.8l16.8 -0.5l8.5 14.3l16.8 -0.5l8.3 -14.7M570.3 735.8l16.8 -0.5l8.3 -14.7M571 852l16.8 -0.5M571.2 881l16.7 -0.5l8.5 14.3M571.5 939.1l16.8 -0.5l8.3 -14.7l-8.5 -14.3M571.7 968.1l16.8 -0.4l8.4 14.3M572.1 1026.2l16.7 -0.5l8.3 -14.7M572.2 1055.2l16.8 -0.4l8.5 14.3M572.6 1113.3l16.7 -0.4M573 1171.4l16.7 -0.5M573.1 1200.4l16.8 -0.4M573.5 1258.5l16.7 -0.4M583.9 212.6l8.4 -14.7M584.1 241.7l8.5 14.3M584.8 357.8l8.5 14.3l-8.3 14.8M585.3 444.9l8.5 14.3l16.8 -0.4M585.5 474l8.3 -14.8M585.9 532.1l8.4 14.3l-8.3 14.7M586.2 590.1l8.5 14.3l-8.3 14.8M586.6 648.2l8.4 14.3M586.9 706.3l8.3 -14.7M587.1 735.3l8.5 14.3M587.9 880.5l8.3 -14.7M588.3 938.6l8.5 14.3l-8.3 14.8M588.8 1025.7l8.5 14.3l16.7 -0.4l8.3 -14.8M589 1054.8l8.3 -14.8M589.5 1141.9l8.5 14.3M592.1 168.8l16.8 -0.4l8.4 -14.8l16.8 -0.4l8.5 14.3l16.8 -0.5l8.5 14.3l-8.3 14.8l8.5 14.3l16.8 -0.5l8.4 -14.7l16.8 -0.5l8.4 -14.7l-8.5 -14.3l-16.9 0.4l-8.3 14.8l8.5 14.3M592.4 226.9l16.9 -0.4l8.5 14.2M592.8 285l16.8 -0.5l8.5 14.3l16.8 -0.4l8.5 14.3l-8.3 14.7l-16.8 0.5l-8.3 14.7l-16.9 0.5M593 314l16.8 -0.4l8.3 -14.8M593.3 372.1l16.8 -0.4l8.3 -14.8l-8.4 -14.3M593.7 430.2l16.8 -0.5M594.3 546.4l16.8 -0.5M594.7 604.4l16.8 -0.4M595.7 778.7l16.8 -0.5l8.5 14.3l16.8 -0.4l8.3 -14.8l-8.5 -14.3l8.3 -14.7M595.9 807.7l16.8 -0.4l8.3 -14.8M596.1 836.8l16.7 -0.5l8.3 -14.8l16.8 -0.4l8.3 -14.8l16.8 -0.4M596.6 923.9l16.8 -0.5l8.2 -14.7l-8.4 -14.3M596.8 952.9l16.7 -0.4l8.5 14.2l-8.3 14.8M597.8 1127.2l16.7 -0.5l8.3 -14.8M598.1 1185.2l16.8 -0.4l8.4 14.3l16.8 -0.5l8.3 -14.7l-8.5 -14.3l8.3 -14.8l-8.5 -14.3M598.3 1214.3l16.7 -0.5l8.3 -14.7M598.5 1243.3l16.7 -0.4l8.3 -14.8l16.7 -0.4l8.3 -14.8l16.7 -0.4l8.3 -14.8l16.8 -0.4l8.3 -14.8l16.7 -0.4l8.3 -14.8l-8.5 -14.3l-16.7 0.5l-8.4 -14.3l-16.8 0.4l-8.3 14.8l-16.7 0.4M598.7 1272.4l16.7 -0.5l8.3 -14.8l-8.5 -14.2M608.9 168.4l8.5 14.3l16.9 -0.5l8.3 -14.7M609.1 197.4l8.3 -14.7M609.3 226.5l8.3 -14.8M609.4 255.5l8.5 14.3l16.9 -0.5l8.3 -14.7l-8.5 -14.3M609.6 284.5l8.3 -14.7M609.8 313.6l8.5 14.3M610.1 371.7l8.5 14.2l-8.3 14.8M610.8 487.8l8.5 14.3l16.8 -0.4l8.3 -14.8l16.8 -0.4l8.3 -14.8l16.8 -0.4l8.4 -14.8l16.8 -0.4l8.3 -14.8l-8.5 -14.3l-16.8 0.5l-8.3 14.7l-16.8 0.5l-8.5 -14.3l8.3 -14.8l-8.5 -14.3l8.4 -14.7l16.8 -0.5l8.3 -14.7l16.8 -0.4l8.4 -14.8l-8.5 -14.3l-16.8 0.5l-8.5 -14.3l8.3 -14.8l-8.5 -14.3l-16.8 0.5l-8.5 -14.3l-16.8 0.4l-8.5 -14.3M611 516.9l8.3 -14.8M611.7 633l8.3 -14.7M611.8 662.1l8.5 14.2l16.8 -0.4l8.3 -14.8l-8.5 -14.2M612 691.1l8.3 -14.8M612.2 720.1l8.4 14.3M612.3 749.2l8.5 14.3l16.8 -0.5M612.5 778.2l8.3 -14.7M612.7 807.3l8.4 14.2M612.8 836.3l8.5 14.3l16.8 -0.5l8.4 14.3l16.8 -0.4l8.5 14.3M613 865.3l8.3 -14.7M613.4 923.4l8.4 14.3l16.8 -0.4M613.5 952.5l8.3 -14.8M613.9 1010.5l8.3 -14.7M614 1039.6l8.5 14.3M614.2 1068.6l8.5 14.3l16.7 -0.4l8.3 -14.8l-8.5 -14.3M614.4 1097.7l8.3 -14.8M614.5 1126.7l8.5 14.3M614.7 1155.7l8.5 14.3l16.7 -0.4M614.9 1184.8l8.3 -14.8M615 1213.8l8.5 14.3M618.4 356.9l16.9 -0.4l8.5 14.2l16.8 -0.4l8.3 -14.7l-8.5 -14.3l8.3 -14.8l16.9 -0.4M618.6 385.9l16.8 -0.4l8.4 -14.8M618.8 415l16.8 -0.5l8.3 -14.7l16.8 -0.5M619 444l16.8 -0.4l8.5 14.3l16.8 -0.5l8.3 -14.7M619.1 473.1l16.8 -0.5l8.4 -14.7M619.5 531.1l16.8 -0.4l8.4 14.3l16.8 -0.5l8.4 -14.7l-8.5 -14.3l-16.8 0.4l-8.5 -14.2M619.6 560.2l16.8 -0.5l8.3 -14.7M619.8 589.2l16.8 -0.4l8.3 -14.8l16.8 -0.4l8.3 -14.8l16.8 -0.4l8.3 -14.8l16.8 -0.4l8.4 -14.7l16.8 -0.5l8.3 -14.7l-8.5 -14.3l-16.8 0.4l-8.5 -14.3l8.4 -14.7l-8.5 -14.3M621.5 879.6l16.7 -0.4l8.3 -14.8M621.6 908.7l16.8 -0.5M622 966.7l16.7 -0.4l8.3 -14.8M623.7 1257.1l16.7 -0.4l8.4 14.3l16.8 -0.5l8.3 -14.7l-8.5 -14.3l8.3 -14.7l-8.5 -14.3M634.3 182.2l8.5 14.3l16.8 -0.4M634.4 211.3l8.4 -14.8M634.9 298.4l8.4 -14.8M635.1 327.4l8.5 14.3l16.8 -0.4M635.3 356.5l8.3 -14.8M635.4 385.5l8.5 14.3M635.6 414.5l8.5 14.3l16.8 -0.4M635.8 443.6l8.3 -14.8M635.9 472.6l8.5 14.3M636.3 530.7l8.3 -14.8M636.4 559.7l8.5 14.3M636.6 588.8l8.5 14.3l16.8 -0.5l8.4 14.3l16.8 -0.4l8.4 -14.8l-8.5 -14.3l-16.8 0.5l-8.5 -14.3M636.8 617.8l8.3 -14.7M637.1 675.9l8.5 14.3l16.7 -0.5l8.4 -14.7l-8.5 -14.3l-16.8 0.4M637.3 704.9l8.3 -14.7M637.8 792.1l8.4 14.2M637.9 821.1l8.5 14.3l16.8 -0.5l8.4 14.3l-8.3 14.8M638.1 850.1l8.3 -14.7M638.2 879.2l8.5 14.3M638.7 966.3l8.5 14.3M638.9 995.3l8.5 14.3l16.7 -0.4l8.5 14.3l16.7 -0.5l8.5 14.3l16.7 -0.4l8.3 -14.8l16.8 -0.4l8.3 -14.7l16.7 -0.5l8.3 -14.7l16.8 -0.4l8.3 -14.8l-8.4 -14.3l-16.8 0.4l-8.4 -14.3l8.3 -14.7l-8.5 -14.3l-16.8 0.4l-8.3 14.8l-16.7 0.4l-8.3 14.8l-16.8 0.4M639.1 1024.4l8.3 -14.8M639.4 1082.5l8.5 14.2l16.7 -0.4l8.5 14.3l16.7 -0.5l8.3 -14.7l-8.5 -14.3l8.3 -14.7l-8.4 -14.3l8.3 -14.8M639.6 1111.5l8.3 -14.8M640.1 1198.6l8.4 14.3M640.2 1227.7l8.5 14.2l16.7 -0.4M640.4 1256.7l8.3 -14.8M642.9 225.5l16.9 -0.4l8.3 -14.7M643.1 254.6l16.8 -0.5l8.4 -14.7l16.8 -0.5l8.3 -14.7l16.9 -0.4l8.3 -14.8l16.8 -0.4l8.4 -14.8l16.8 -0.4l8.4 -14.7l16.8 -0.5l8.3 -14.7l16.9 -0.4l8.5 14.3l16.8 -0.4l8.4 -14.8l16.8 -0.4l8.5 14.3l16.8 -0.4l8.5 14.3l16.8 -0.4l8.5 14.3l16.8 -0.4l8.4 -14.7l-8.5 -14.3l8.4 -14.7l16.8 -0.5l8.5 14.4l-8.4 14.7l-16.8 0.4M643.4 312.7l16.9 -0.5l8.3 -14.7M645.2 632.1l16.8 -0.4l8.3 -14.8M645.7 719.2l16.8 -0.4l8.5 14.3M646.1 777.3l16.7 -0.4l8.5 14.3M646.9 922.5l16.7 -0.4l8.5 14.3M647.5 1038.7l16.8 -0.5l8.3 -14.7M647.7 1067.7l16.7 -0.4l8.3 -14.8l16.8 -0.4M648 1125.8l16.8 -0.5l8.3 -14.7M648.4 1183.9l16.7 -0.5l8.4 14.3M659.8 225.1l8.5 14.3M659.9 254.1l8.5 14.3l16.9 -0.4l8.4 14.3l-8.3 14.7M660.1 283.2l8.3 -14.8M660.3 312.2l8.4 14.3M660.6 370.3l8.5 14.3M661.1 457.4l8.4 14.3M661.2 486.5l8.5 14.3l-8.3 14.7M661.5 544.5l8.5 14.3M661.9 602.6l8.3 -14.7M662 631.7l8.5 14.3l-8.3 14.7M662.3 689.7l8.5 14.3l16.8 -0.4l8.5 14.3l16.8 -0.5l8.3 -14.7l16.8 -0.4l8.3 -14.8l-8.5 -14.3l8.3 -14.7l-8.4 -14.3l8.3 -14.8l-8.5 -14.3l8.3 -14.7l16.8 -0.4l8.4 -14.8l16.7 -0.4l8.4 -14.7l-8.5 -14.3l-16.8 0.4l-8.5 -14.3l-16.8 0.4l-8.4 -14.3M662.5 718.8l8.3 -14.8M662.7 747.8l8.4 14.3l-8.3 14.8M663.2 834.9l8.3 -14.7M663.5 893l8.4 14.3l-8.3 14.8M663.8 951.1l8.5 14.3M664 980.1l8.4 14.3l-8.3 14.8M664.3 1038.2l8.4 14.3M664.4 1067.3l8.5 14.3l-8.3 14.7M664.8 1125.3l8.4 14.3M664.9 1154.4l8.5 14.3l-8.3 14.7M667.9 181.3l16.9 -0.4M668.9 355.6l16.8 -0.5l8.4 -14.7M669.2 413.6l16.8 -0.4l8.5 14.3M669.7 500.8l16.8 -0.5l8.5 14.3l16.8 -0.4l8.3 -14.8M669.9 529.8l16.8 -0.5l8.4 14.3M670.5 646l16.8 -0.5l8.3 -14.7l16.8 -0.5l8.3 -14.7l16.8 -0.5M670.7 675l16.7 -0.5l8.5 14.3l-8.3 14.8M671.1 762.1l16.8 -0.4l8.3 -14.8M671.6 849.2l16.8 -0.4l8.5 14.3M671.9 907.3l16.8 -0.4l8.3 -14.8l-8.5 -14.3M672.4 994.4l16.8 -0.4l8.4 14.3l16.8 -0.5l8.3 -14.7l-8.5 -14.3l8.3 -14.7l-8.4 -14.3M672.9 1081.6l16.7 -0.5M673.4 1168.7l16.7 -0.5l8.3 -14.7M673.7 1226.8l16.7 -0.5l8.5 14.3l16.7 -0.4l8.4 14.3l-8.2 14.7l-16.8 0.4l-8.4 -14.3l8.3 -14.7M673.9 1255.8l16.7 -0.5M684.9 209.9l8.5 14.3M685.1 238.9l8.5 14.3l-8.3 14.8M685.7 355.1l8.5 14.3M685.9 384.1l8.5 14.3l-8.4 14.8M686.2 442.2l8.5 14.3M686.3 471.3l8.5 14.3l16.8 -0.5M686.5 500.3l8.3 -14.7M686.7 529.3l8.3 -14.7M686.8 558.4l8.5 14.3l-8.3 14.7M687.1 616.5l8.5 14.3M687.3 645.5l8.5 14.3l16.8 -0.4l8.4 14.3l16.8 -0.5M687.4 674.5l8.4 -14.7M687.8 732.6l8.3 -14.7M687.9 761.7l8.5 14.3M688.1 790.7l8.4 14.3l-8.3 14.7M688.4 848.8l8.3 -14.8M688.7 906.9l8.5 14.3l16.7 -0.5l8.3 -14.7l-8.4 -14.3l8.3 -14.8l-8.5 -14.3M688.9 935.9l8.3 -14.7M689 964.9l8.5 14.3l16.7 -0.4M689.2 994l8.3 -14.8M689.3 1023l8.3 -14.7M689.8 1110.1l8.4 14.3l16.8 -0.4l8.3 -14.7l16.7 -0.5l8.3 -14.7l16.8 -0.5l8.3 -14.7l16.7 -0.4l8.3 -14.8l-8.4 -14.3l8.3 -14.7l-8.5 -14.3l8.3 -14.7l-8.4 -14.3M690 1139.2l8.2 -14.8M690.1 1168.2l8.5 14.3M690.3 1197.3l8.4 14.3l16.7 -0.5l8.3 -14.7l-8.4 -14.3M690.4 1226.3l8.3 -14.7M693.6 253.2l16.8 -0.4l8.5 14.3l16.8 -0.4l8.4 -14.8l-8.5 -14.3l8.3 -14.7l-8.5 -14.3M693.7 282.3l16.9 -0.5l8.3 -14.7M693.9 311.3l16.8 -0.4l8.4 -14.8l16.8 -0.4l8.3 -14.7l16.8 -0.5l8.4 -14.7l16.8 -0.4l8.4 -14.8l16.8 -0.4l8.3 -14.7l-8.5 -14.3l-16.8 0.4l-8.5 -14.3l-16.8 0.4l-8.5 -14.3M694.4 398.4l16.8 -0.4l8.3 -14.7l-8.5 -14.3M695.3 572.7l16.8 -0.5l8.5 14.3l16.8 -0.4l8.4 14.3M695.5 601.7l16.7 -0.4l8.4 -14.8M695.9 688.8l16.8 -0.4l8.3 -14.7M696.5 805l16.8 -0.4l8.3 -14.8l-8.4 -14.3M697 892.1l16.8 -0.4M697.9 1066.4l16.8 -0.5l8.4 14.3l16.8 -0.4l8.4 14.3M698.1 1095.4l16.7 -0.4l8.3 -14.8M710.1 194.7l8.5 14.3M710.3 223.8l8.5 14.3l16.8 -0.5M710.4 252.8l8.4 -14.7M710.6 281.8l8.5 14.3M710.7 310.9l8.5 14.3l16.8 -0.5l8.5 14.3l16.8 -0.4l8.4 -14.7l-8.5 -14.3l-16.8 0.4l-8.5 -14.3M710.9 339.9l8.3 -14.7M711.2 398l8.5 14.3l16.8 -0.4l8.5 14.3l16.8 -0.5l8.3 -14.7l-8.5 -14.3l8.4 -14.8l-8.5 -14.3l-16.8 0.5l-8.4 14.7l-16.8 0.5M711.3 427l8.4 -14.7M711.8 514.2l8.5 14.3M711.9 543.2l8.5 14.3l16.8 -0.4l8.3 -14.8M712.1 572.2l8.3 -14.7M712.2 601.3l8.5 14.3M712.4 630.3l8.5 14.3l16.8 -0.4M712.6 659.4l8.3 -14.8M712.7 688.4l8.5 14.3M712.9 717.4l8.4 14.3l16.8 -0.4l8.5 14.3l-8.3 14.7l-16.8 0.5M713 746.5l8.3 -14.8M713.3 804.6l8.5 14.3l16.7 -0.5l8.5 14.3l-8.3 14.8l-16.8 0.4M713.5 833.6l8.3 -14.7M713.9 920.7l8.5 14.3M714.4 1007.8l8.4 14.3M714.5 1036.9l8.5 14.3l16.7 -0.5l8.3 -14.7l-8.4 -14.3M714.7 1065.9l8.3 -14.7M714.8 1095l8.5 14.3M715 1124l8.4 14.3l16.8 -0.4l8.4 14.3l-8.3 14.7l-16.7 0.4M715.1 1153l8.3 -14.7M715.4 1211.1l8.5 14.3l16.7 -0.4l8.5 14.3l16.7 -0.5l8.4 14.3l-8.3 14.8l-16.7 0.4l-8.4 -14.3l8.3 -14.7M715.6 1240.2l8.3 -14.8M718.5 180l16.8 -0.5l8.5 14.3M719.4 354.2l16.8 -0.4l8.3 -14.8M719.8 441.3l16.8 -0.4l8.4 -14.7M720 470.4l16.8 -0.5l8.3 -14.7l16.8 -0.4l8.3 -14.8l-8.4 -14.3M721.6 789.8l16.8 -0.4l8.3 -14.8l16.8 -0.4l8.3 -14.7l16.8 -0.5l8.3 -14.7l16.8 -0.4l8.3 -14.8l-8.5 -14.3l-16.7 0.5l-8.5 -14.3l-16.8 0.4l-8.4 -14.3l8.3 -14.8l16.8 -0.4l8.4 14.3l16.8 -0.4l8.3 -14.7l16.8 -0.5l8.4 -14.7l16.7 -0.4l8.4 -14.7l-8.5 -14.3l-16.8 0.4l-8.4 -14.3l8.3 -14.8l-8.5 -14.3l8.4 -14.7l16.8 -0.4l8.3 -14.8l16.8 -0.4l8.3 -14.7l-8.4 -14.3l-16.8 0.4l-8.5 -14.3l8.3 -14.7l-8.4 -14.3l8.3 -14.8l16.8 -0.4l8.4 -14.7l-8.5 -14.3l-16.8 0.4l-8.5 -14.3l8.4 -14.8l-8.5 -14.3l-16.8 0.5l-8.5 -14.4l8.4 -14.7l16.8 -0.4l8.4 14.3l-8.3 14.7M722.1 876.9l16.7 -0.4l8.4 -14.7l16.7 -0.5l8.3 -14.7l16.8 -0.4l8.3 -14.8l16.8 -0.4l8.3 -14.7l-8.4 -14.3l-16.8 0.4l-8.5 -14.3l-16.7 0.4l-8.5 -14.3M722.2 906l16.8 -0.5l8.4 14.3M722.5 964.1l16.8 -0.5l8.3 -14.7l-8.5 -14.3M722.7 993.1l16.7 -0.4l8.5 14.3M723.7 1196.4l16.8 -0.5l8.3 -14.7l16.7 -0.4l8.3 -14.8l16.7 -0.4l8.3 -14.7l16.8 -0.5l8.3 -14.7l-8.5 -14.3l-16.7 0.4l-8.4 -14.3l8.3 -14.7l-8.5 -14.3M724 1254.5l16.8 -0.5M735.3 179.5l8.3 -14.7l16.9 -0.4l8.5 14.3M735.7 266.7l8.5 14.3M736 324.7l8.4 -14.7M736.2 353.8l8.5 14.3M736.3 382.8l8.5 14.3l-8.3 14.8M736.6 440.9l8.5 14.3M736.8 469.9l8.4 14.3l16.9 -0.4l8.4 14.3l-8.3 14.7l-16.8 0.5M736.9 499l8.3 -14.8M737.2 557.1l8.5 14.3l-8.3 14.7M738 702.3l8.4 14.3l-8.3 14.7M738.3 760.3l8.4 14.3M738.4 789.4l8.5 14.3l-8.4 14.7M738.7 847.5l8.5 14.3M738.8 876.5l8.5 14.3l16.8 -0.4l8.4 14.3l-8.3 14.7M739 905.5l8.3 -14.7M739.3 963.6l8.4 14.3l-8.3 14.8M739.7 1050.7l8.5 14.3l16.7 -0.4l8.5 14.3M739.9 1079.8l8.3 -14.8M740 1108.8l8.5 14.3l-8.3 14.8M740.3 1166.9l8.5 14.3M740.5 1195.9l8.4 14.3l16.8 -0.4l8.4 14.3l-8.3 14.7M740.6 1225l8.3 -14.8M743.9 222.9l16.9 -0.5l8.3 -14.7M744.1 251.9l16.8 -0.4l8.5 14.3M744.8 397.1l16.8 -0.4M745.7 571.4l16.8 -0.5l8.5 14.3M746 629.4l16.8 -0.4l8.3 -14.7l-8.5 -14.3M746.1 658.5l16.8 -0.5l8.5 14.3M746.3 687.5l16.8 -0.4M746.4 716.6l16.8 -0.5l8.5 14.3l16.7 -0.4l8.4 -14.7M746.6 745.6l16.7 -0.4l8.5 14.3M746.9 803.7l16.7 -0.5l8.5 14.3l-8.3 14.8l-16.8 0.4M747.6 948.9l16.8 -0.5M747.7 977.9l16.8 -0.4l8.4 14.3M748 1036l16.8 -0.4l8.3 -14.8l-8.5 -14.3M748.5 1123.1l16.7 -0.4l8.3 -14.8l-8.4 -14.3M748.6 1152.2l16.8 -0.5l8.4 14.3M760.8 222.4l8.4 14.3l16.9 -0.4l8.3 -14.7M760.9 251.5l8.3 -14.8M761 280.5l8.5 14.3l-8.3 14.8M761.3 338.6l8.5 14.3l16.8 -0.4l8.4 -14.8l16.8 -0.4l8.3 -14.7l-8.4 -14.3l-16.9 0.4l-8.4 -14.3l8.3 -14.7l-8.5 -14.3M761.5 367.6l8.3 -14.7M761.9 454.8l8.5 14.3l-8.3 14.7M762.2 512.8l8.5 14.3l-8.4 14.8M762.5 570.9l8.3 -14.7M762.8 629l8.4 14.3l16.8 -0.4l8.4 -14.8l-8.5 -14.3l-16.8 0.5M762.9 658l8.3 -14.7M763.2 716.1l8.3 -14.7M763.3 745.2l8.4 -14.8M763.6 803.2l8.4 -14.7M763.8 832.3l8.4 14.3M763.9 861.3l8.5 14.3l16.7 -0.4l8.5 14.3l16.8 -0.4l8.3 -14.8l-8.5 -14.3l8.3 -14.7l-8.4 -14.3M764.1 890.4l8.3 -14.8M764.5 977.5l8.3 -14.8M764.8 1035.6l8.4 14.3l-8.3 14.7M765.2 1122.7l8.5 14.3l16.7 -0.4l8.3 -14.8M765.4 1151.7l8.3 -14.7M765.5 1180.8l8.4 14.3l-8.2 14.7M769.5 294.8l16.9 -0.4M769.7 323.9l16.8 -0.5l8.5 14.3M770 381.9l16.8 -0.4l8.4 14.3l16.9 -0.4l8.4 14.3l-8.3 14.7l-16.8 0.5l-8.4 14.7l-16.8 0.4M770.1 411l16.8 -0.4l8.3 -14.8M770.4 469.1l16.8 -0.5l8.5 14.3l-8.4 14.8l-16.8 0.4M770.7 527.1l16.8 -0.4l8.3 -14.7l-8.5 -14.3M772.1 817.5l16.8 -0.4l8.3 -14.7M772.5 904.7l16.8 -0.5l8.3 -14.7M772.7 933.7l16.7 -0.4l8.3 -14.8l16.8 -0.4l8.3 -14.7l16.8 -0.4l8.3 -14.8l16.8 -0.4l8.3 -14.7l16.7 -0.4l8.4 -14.8l-8.5 -14.3l-16.7 0.4l-8.4 14.8l8.5 14.3M773.1 1020.8l16.7 -0.4M773.2 1049.9l16.8 -0.5M773.5 1107.9l16.8 -0.4M773.9 1195.1l16.8 -0.5l8.4 14.3l16.8 -0.4l8.4 14.3l-8.3 14.8l-16.7 0.4l-8.3 14.7l-16.8 0.4M774.1 1224.1l16.7 -0.4l8.5 14.3M785.8 178.2l8.5 14.3l16.8 -0.4l8.4 -14.7M785.9 207.3l8.4 -14.8M786.1 236.3l8.5 14.3M786.5 323.4l8.3 -14.7M786.6 352.5l8.5 14.3l16.8 -0.4l8.4 -14.8l-8.5 -14.3M786.8 381.5l8.3 -14.7M786.9 410.6l8.5 14.3M787 439.6l8.5 14.3l16.8 -0.4l8.5 14.3l16.8 -0.4l8.5 14.3l16.8 -0.4M787.2 468.6l8.3 -14.7M787.5 526.7l8.4 14.3l16.8 -0.4l8.5 14.3l16.8 -0.4l8.5 14.3M787.6 555.8l8.3 -14.8M787.7 584.8l8.5 14.3l16.8 -0.4l8.3 -14.8l16.8 -0.4M787.9 613.8l8.3 -14.7M788 642.9l8.5 14.3l-8.3 14.7M788.3 701l8.3 -14.8M788.4 730l8.5 14.3M788.6 759l8.4 14.3l16.8 -0.4l8.3 -14.7l-8.4 -14.3M788.7 788.1l8.3 -14.8M788.9 817.1l8.4 14.3M789 846.2l8.5 14.3l16.7 -0.5M789.1 875.2l8.4 -14.7M789.3 904.2l8.4 14.3M789.4 933.3l8.5 14.3l16.7 -0.4l8.5 14.3l16.7 -0.5l8.5 14.4l-8.3 14.7l-16.8 0.4l-8.3 14.7l-16.8 0.5M789.6 962.3l8.3 -14.7M790.4 1136.6l8.4 14.3M790.5 1165.6l8.5 14.3l16.7 -0.4l8.3 -14.8l-8.4 -14.3M790.7 1194.6l8.3 -14.7M790.8 1223.7l8.3 -14.8M794.7 279.7l16.8 -0.5l8.4 -14.7l-8.5 -14.3M795.7 482.9l16.8 -0.4l8.3 -14.7M795.8 512l16.8 -0.4l8.3 -14.8l16.8 -0.4l8.4 -14.7M796.1 570.1l16.8 -0.5l8.3 -14.7M796.4 628.1l16.7 -0.4l8.5 14.3l16.8 -0.4l8.3 -14.7M796.5 657.2l16.8 -0.4l8.3 -14.8M798 976.6l16.8 -0.4l8.3 -14.7M798.3 1034.7l16.7 -0.4l8.5 14.3l16.7 -0.4l8.3 -14.8l16.8 -0.4l8.4 14.3l16.8 -0.4l8.3 -14.7l16.7 -0.4l8.4 -14.8l16.7 -0.4l8.3 -14.7l-8.4 -14.3l-16.8 0.4l-8.4 -14.3l8.3 -14.7l16.8 -0.4l8.3 -14.8l16.8 -0.4l8.3 -14.7l16.8 -0.4l8.3 -14.7l-8.5 -14.3l-16.7 0.4l-8.5 -14.4l-16.7 0.5l-8.5 -14.4l8.4 -14.7l16.7 -0.4l8.4 -14.7l16.7 -0.4l8.4 -14.7l-8.5 -14.4l-16.7 0.4l-8.5 -14.3l8.4 -14.7l-8.5 -14.3l-16.8 0.4l-8.3 14.7l-16.8 0.4l-8.3 14.7l-16.8 0.5l-8.3 14.7l-16.8 0.4l-8.4 -14.3l8.3 -14.7l-8.5 -14.3l-16.7 0.4l-8.5 -14.3l8.3 -14.8l16.8 -0.4l8.3 -14.7l16.8 -0.4l8.4 -14.8l16.7 -0.4l8.4 -14.7l16.8 -0.4l8.3 -14.7l-8.5 -14.3l8.4 -14.8l-8.5 -14.3l-16.8 0.4l-8.4 -14.3l8.3 -14.7l16.8 -0.4l8.4 -14.7l-8.5 -14.4l8.3 -14.7l-8.4 -14.3l8.3 -14.7l-8.4 -14.3l8.3 -14.8l-8.4 -14.3l8.3 -14.7l-8.5 -14.3l8.4 -14.7l16.8 -0.5l8.4 -14.7l16.8 -0.4l8.3 -14.7l-8.4 -14.3l-16.9 0.4l-8.4 -14.3l-16.8 0.4l-8.5 -14.3l8.4 -14.8l16.8 -0.4l8.3 -14.7l-8.4 -14.3l8.3 -14.7l-8.4 -14.4l-16.9 0.5l-8.4 -14.4l8.3 -14.7l16.8 -0.4l8.4 -14.7l-8.5 -14.3l-16.8 0.4l-8.5 -14.3l8.4 -14.8l-8.5 -14.3M798.4 1063.7l16.8 -0.4l8.3 -14.7M798.6 1092.8l16.7 -0.4l8.3 -14.8l16.8 -0.4l8.3 -14.7l16.7 -0.4l8.3 -14.8M811.1 192.1l8.5 14.3l16.8 -0.4l8.5 14.3l-8.3 14.7l-16.9 0.5M811.2 221.2l8.4 -14.8M811.5 279.2l8.5 14.3l16.8 -0.4l8.5 14.3l-8.3 14.8l-16.9 0.4M811.7 308.3l8.3 -14.8M811.9 366.4l8.5 14.3l16.8 -0.5M812.1 395.4l8.3 -14.7M812.2 424.4l8.5 14.3l16.8 -0.4l8.3 -14.7l16.8 -0.4M812.3 453.5l8.4 -14.8M812.5 482.5l8.4 14.3M812.6 511.6l8.5 14.3l16.8 -0.5l8.3 -14.7l-8.5 -14.3M812.7 540.6l8.4 -14.7M812.9 569.6l8.4 14.3M813 598.7l8.5 14.3l16.8 -0.4M813.1 627.7l8.4 -14.7M813.3 656.8l8.4 14.3M813.4 685.8l8.5 14.3l16.8 -0.4l8.4 14.3l16.8 -0.4l8.3 -14.8l-8.4 -14.3l-16.8 0.5l-8.5 -14.4M813.5 714.8l8.4 -14.7M813.8 772.9l8.5 14.3l16.7 -0.4l8.5 14.3l16.8 -0.4M814 802l8.3 -14.8M814.4 889.1l8.4 14.3M814.5 918.1l8.4 14.3l16.8 -0.4l8.3 -14.7l-8.4 -14.3M814.6 947.2l8.3 -14.8M814.8 976.2l8.4 14.3M814.9 1005.2l8.4 14.3l16.8 -0.4l8.4 14.3M815 1034.3l8.3 -14.8M815.2 1063.3l8.4 14.3M815.3 1092.4l8.4 14.3l16.8 -0.5l8.4 14.4l-8.3 14.7l-16.7 0.4M815.4 1121.4l8.3 -14.7M815.7 1179.5l8.5 14.3l16.7 -0.4l8.4 14.3l16.8 -0.4l8.3 -14.8l-8.5 -14.3l8.3 -14.7l-8.4 -14.3l8.3 -14.8l16.7 -0.4l8.4 -14.7l16.7 -0.4l8.3 -14.7l16.8 -0.4l8.3 -14.8l-8.5 -14.3l8.4 -14.7l-8.5 -14.3l8.3 -14.7l-8.4 -14.4M815.9 1208.5l8.3 -14.7M816 1237.6l8.4 14.3l16.7 -0.5l8.3 -14.7l16.8 -0.4l8.3 -14.7l-8.4 -14.3M819.9 264.5l16.8 -0.4l8.3 -14.7l16.9 -0.5l8.3 -14.7l16.8 -0.4l8.4 -14.7l16.8 -0.5l8.4 -14.7M820.3 351.6l16.8 -0.4l8.3 -14.7l16.8 -0.4l8.4 -14.8l16.8 -0.4l8.4 -14.7l16.8 -0.4l8.3 -14.8l16.9 -0.4M820.5 409.7l16.8 -0.4l8.4 -14.7M822 729.1l16.8 -0.4l8.3 -14.7M822.1 758.2l16.8 -0.4M822.4 816.3l16.8 -0.5l8.3 -14.7M822.5 845.3l16.8 -0.4l8.3 -14.7l16.8 -0.5l8.3 -14.7M822.7 874.3l16.7 -0.4l8.5 14.3M824 1164.7l16.8 -0.4l8.3 -14.7l16.7 -0.4M824.3 1222.8l16.7 -0.4l8.3 -14.7M836.3 177l8.5 14.3l16.8 -0.4l8.4 -14.8M836.4 206l8.4 -14.7M836.6 235l8.4 14.4M836.7 264.1l8.5 14.3l-8.4 14.7M837 322.2l8.4 14.3M837.1 351.2l8.5 14.3M837.3 409.3l8.5 14.3M837.5 438.3l8.4 14.3l-8.3 14.8M837.9 525.4l8.4 14.4l-8.3 14.7M838.4 641.6l8.5 14.3M838.7 699.7l8.3 -14.7M838.8 728.7l8.4 14.3M839 786.8l8.4 -14.7M839.2 815.8l8.4 14.4M839.3 844.9l8.5 14.3l-8.4 14.7M839.7 932l8.5 14.3l-8.4 14.7M840 990.1l8.4 14.3l-8.3 14.7M840.2 1048.2l8.5 14.3M840.4 1077.2l8.4 14.3l16.7 -0.4l8.5 14.3l16.7 -0.4l8.5 14.3M840.5 1106.2l8.3 -14.7M840.6 1135.3l8.5 14.3M840.8 1164.3l8.4 14.3l-8.3 14.8M841 1222.4l8.4 14.3M844.9 220.3l16.8 -0.4l8.5 14.3M845.2 278.4l16.8 -0.4l8.5 14.3l-8.4 14.7l-16.8 0.4M845.9 452.6l16.9 -0.4l8.4 14.3M846.2 510.7l16.8 -0.4M846.3 539.8l16.8 -0.5l8.5 14.3M846.6 597.8l16.8 -0.4l8.3 -14.7l-8.4 -14.3M847.8 859.2l16.7 -0.4M848 917.3l16.8 -0.4l8.3 -14.8l-8.4 -14.3M848.2 946.3l16.7 -0.4l8.5 14.3l16.7 -0.4l8.3 -14.7l-8.4 -14.4l8.3 -14.7l-8.4 -14.3l8.3 -14.7l-8.5 -14.3M848.3 975.4l16.7 -0.5l8.4 -14.7M848.4 1004.4l16.8 -0.4l8.3 -14.8l-8.5 -14.3M848.9 1120.6l16.8 -0.5l8.3 -14.7M849.2 1178.6l16.7 -0.4M861.6 190.9l8.5 14.3l16.8 -0.5l8.4 -14.7M861.7 219.9l8.4 -14.7M861.9 248.9l8.4 14.3l16.9 -0.4l8.4 14.3l16.9 -0.4l8.4 14.3M862 278l8.3 -14.8M862.1 307l8.5 14.3M862.2 336.1l8.5 14.3l16.8 -0.5l8.4 -14.7l-8.5 -14.3M862.4 365.1l8.3 -14.7M862.8 452.2l8.3 -14.7M863.1 539.3l8.4 -14.7M863.4 597.4l8.4 14.3l16.8 -0.4l8.4 -14.7l-8.5 -14.3l-16.8 0.4M863.5 626.5l8.3 -14.8M863.6 655.5l8.5 14.3l16.8 -0.4l8.3 -14.7l-8.4 -14.4l-16.8 0.5M863.8 684.5l8.3 -14.7M863.9 713.6l8.4 14.3M864 742.6l8.5 14.3l16.8 -0.4l8.4 14.3l16.8 -0.4l8.3 -14.7l16.8 -0.4l8.4 14.3M864.1 771.7l8.4 -14.8M864.4 829.7l8.5 14.3M864.8 916.9l8.4 14.3l16.8 -0.5M864.9 945.9l8.3 -14.7M865.2 1004l8.4 14.3l16.8 -0.4l8.3 -14.8l-8.5 -14.3l-16.7 0.4M865.3 1033l8.3 -14.7M865.4 1062.1l8.5 14.3l-8.4 14.7M865.7 1120.1l8.4 14.3M866.2 1236.3l8.4 14.3l16.7 -0.4l8.3 -14.7l-8.4 -14.4l-16.7 0.5M870.5 292.3l16.8 -0.4l8.3 -14.8M870.8 379.4l16.9 -0.4l8.3 -14.7l-8.5 -14.4M871 408.4l16.8 -0.4l8.3 -14.7l16.8 -0.4l8.4 -14.7l16.8 -0.4M871.3 495.6l16.9 -0.5l8.3 -14.7l-8.5 -14.3M872.2 698.8l16.8 -0.4l8.3 -14.7l-8.4 -14.3M872.6 786l16.8 -0.5l8.3 -14.7M873.1 902.1l16.8 -0.4M873.9 1076.4l16.7 -0.5l8.4 14.4l16.8 -0.5l8.4 14.4M874.2 1163.5l16.8 -0.4l8.4 14.3l16.7 -0.4l8.5 14.3l16.7 -0.4l8.3 -14.7l16.7 -0.5l8.5 14.4l16.7 -0.4l8.3 -14.8l16.8 -0.3l8.3 -14.8l-8.5 -14.3l8.4 -14.7l-8.5 -14.3l8.4 -14.7l-8.5 -14.4l8.4 -14.7l16.7 -0.4l8.3 -14.7l-8.4 -14.3l-16.7 0.4l-8.5 -14.3l8.4 -14.8l-8.5 -14.3l8.4 -14.7l16.7 -0.4l8.4 -14.7l-8.5 -14.3l8.4 -14.8l-8.5 -14.3l8.4 -14.7l-8.5 -14.3l8.4 -14.7l-8.5 -14.4l8.4 -14.7l-8.5 -14.3l-16.7 0.4l-8.4 14.7l-16.7 0.4l-8.5 -14.3M874.4 1192.5l16.7 -0.4l8.3 -14.7M886.8 175.7l8.4 -14.7l16.8 -0.4l8.5 14.3l-8.4 14.7M886.9 204.7l8.5 14.4M887 233.8l8.5 14.3l16.9 -0.4l8.3 -14.7l-8.5 -14.4M887.2 262.8l8.3 -14.7M887.3 291.9l8.5 14.3M887.7 379l8.4 14.3M887.8 408l8.4 14.3l16.9 -0.4l8.4 14.3l16.8 -0.4l8.5 14.4M887.9 437.1l8.3 -14.8M888.2 495.1l8.4 14.4l16.8 -0.5l8.5 14.4l16.8 -0.4M888.3 524.2l8.3 -14.7M888.4 553.2l8.5 14.3l16.8 -0.4l8.3 -14.7l16.8 -0.4M888.5 582.3l8.4 -14.8M888.6 611.3l8.5 14.3l16.8 -0.4M888.8 640.3l8.3 -14.7M889 698.4l8.5 14.3M889.1 727.5l8.5 14.3l16.8 -0.4l8.4 14.3M889.3 756.5l8.3 -14.7M889.4 785.5l8.4 14.4M889.5 814.6l8.4 14.3l16.8 -0.4l8.5 14.3l-8.4 14.7l-16.7 0.4M889.6 843.6l8.3 -14.7M890.1 959.8l8.4 14.3l16.8 -0.4M890.2 988.8l8.3 -14.7M890.4 1017.9l8.4 14.3M890.5 1046.9l8.4 14.3l16.8 -0.4l8.3 -14.7l-8.5 -14.3M890.6 1075.9l8.3 -14.7M890.7 1105l8.3 -14.7M890.8 1134l8.5 14.3l16.7 -0.4l8.3 -14.7l-8.4 -14.3M891 1163.1l8.3 -14.8M891.1 1192.1l8.4 14.3l16.8 -0.4l8.3 -14.7M891.2 1221.1l8.3 -14.7M895.9 335.2l16.8 -0.4l8.5 14.3l-8.4 14.7l-16.8 0.5M896.4 451.4l16.8 -0.4l8.3 -14.8M896.5 480.4l16.8 -0.4l8.3 -14.7l16.8 -0.4M896.7 538.5l16.8 -0.4l8.4 -14.7M897 596.6l16.8 -0.4l8.4 14.3M897.2 654.7l16.8 -0.5l8.3 -14.7M897.3 683.7l16.8 -0.4l8.5 14.3M898.2 887l16.8 -0.4l8.3 -14.8l16.7 -0.4M898.3 916l16.8 -0.4l8.4 14.3l-8.3 14.7l-16.8 0.5M898.7 1003.1l16.7 -0.4l8.5 14.3M899.6 1235.5l16.8 -0.5l8.4 14.4l16.7 -0.4l8.3 -14.8l-8.4 -14.3l8.3 -14.7l-8.4 -14.3M912.4 247.7l8.4 14.3l-8.3 14.7M912.6 305.8l8.5 14.3l-8.4 14.7M912.8 363.8l8.5 14.4M912.9 392.9l8.5 14.3l-8.3 14.7M913.2 451l8.4 14.3M913.3 480l8.5 14.3l-8.4 14.7M913.5 538.1l8.5 14.3M913.7 567.1l8.4 14.3l16.8 -0.4M913.8 596.2l8.3 -14.8M914 654.2l8.5 14.4l-8.4 14.7M914.2 712.3l8.5 14.3l-8.3 14.8M914.5 770.4l8.4 14.3M914.6 799.4l8.4 14.4l16.8 -0.4l8.3 -14.8l-8.4 -14.3M914.7 828.5l8.3 -14.7M914.8 857.5l8.5 14.3M915 886.6l8.4 14.3l-8.3 14.7M915.2 944.6l8.4 14.4M915.4 1002.7l8.3 -14.7M915.7 1060.8l8.4 14.3l-8.3 14.7M916 1147.9l8.4 14.3l16.8 -0.4l8.4 14.4M916.1 1177l8.3 -14.8M916.3 1206l8.4 14.3l-8.3 14.7M920.5 174.9l16.8 -0.4M920.7 233l16.8 -0.4M920.8 262l16.9 -0.4l8.4 14.3M921.1 320.1l16.8 -0.4l8.3 -14.7M921.2 349.1l16.8 -0.4l8.5 14.3M921.4 407.2l16.8 -0.4l8.5 14.3l16.8 -0.4l8.3 -14.7M921.8 494.3l16.8 -0.4M922.5 668.6l16.7 -0.4M922.7 726.6l16.8 -0.4l8.3 -14.7l-8.4 -14.3M923.2 842.8l16.7 -0.4l8.4 -14.7l-8.5 -14.3M923.4 900.9l16.8 -0.4l8.4 14.3l16.8 -0.4l8.3 -14.7M923.5 929.9l16.8 -0.4l8.3 -14.7M924 1046.1l16.7 -0.4M924.1 1075.1l16.7 -0.4M924.3 1133.2l16.8 -0.4l8.3 -14.7l-8.4 -14.3M924.7 1220.3l16.7 -0.4M937.7 261.6l8.3 -14.7M937.9 319.7l8.4 14.3l16.9 -0.4M938 348.7l8.3 -14.7M938.2 406.8l8.4 -14.7M938.3 435.8l8.4 -14.7M939 610.1l8.5 14.3l16.8 -0.4l8.4 14.3l16.8 -0.4l8.4 14.3l16.8 -0.4l8.5 14.4l-8.4 14.7l-16.8 0.4l-8.3 14.7l-16.8 0.4l-8.3 14.7l-16.8 0.4M939.1 639.1l8.4 -14.7M939.5 726.2l8.4 14.4l16.8 -0.5l8.4 14.4l-8.3 14.7M939.6 755.3l8.3 -14.7M939.9 842.4l8.5 14.3M940.2 900.5l8.3 -14.7M940.3 929.5l8.4 14.3M940.4 958.6l8.4 14.3l16.8 -0.4l8.4 14.3l16.8 -0.4l8.3 -14.7l-8.4 -14.4l8.3 -14.7l-8.4 -14.3M940.5 987.6l8.3 -14.7M941.1 1132.8l8.4 14.3l16.7 -0.4l8.5 14.3l-8.4 14.7M941.2 1161.8l8.3 -14.7M945.9 217.8l16.8 -0.4l8.4 -14.7l16.8 -0.4l8.4 -14.7l16.8 -0.4l8.4 -14.7l16.8 -0.4l8.4 -14.7l16.8 -0.4l8.5 14.3l16.8 -0.4l8.4 -14.7l16.8 -0.4l8.5 14.4l16.8 -0.4l8.5 14.3l16.8 -0.4l8.4 -14.7l-8.5 -14.3l-16.8 0.4l-8.4 14.7M946.9 479.2l16.8 -0.4l8.5 14.3l16.8 -0.4l8.4 14.3l-8.3 14.7l-16.8 0.4l-8.4 14.8l-16.8 0.4M947 508.2l16.8 -0.4l8.4 -14.7M947.2 566.3l16.8 -0.4l8.5 14.3l16.8 -0.4l8.3 -14.7l-8.4 -14.3l8.3 -14.7l-8.4 -14.4M947.4 595.4l16.8 -0.5l8.3 -14.7M947.6 653.4l16.8 -0.4l8.4 14.3l-8.3 14.8l-16.8 0.4M948.1 798.6l16.8 -0.4M948.3 827.7l16.7 -0.4l8.5 14.3M948.9 1001.9l16.8 -0.4l8.4 14.3l16.8 -0.4l8.3 -14.7l16.7 -0.4M949 1031l16.8 -0.5l8.3 -14.7M949.2 1060l16.7 -0.4l8.4 14.3l-8.3 14.7l-16.7 0.4M949.4 1118.1l16.7 -0.4l8.3 -14.8l16.8 -0.4l8.3 -14.7l16.7 -0.4M949.7 1205.2l16.8 -0.4l8.4 14.3l-8.3 14.7l-16.8 0.4M962.6 188.4l8.5 14.3M962.7 217.4l8.5 14.3l16.8 -0.4l8.5 14.4l16.8 -0.4l8.5 14.3l-8.4 14.7l-16.8 0.4l-8.4 14.7l-16.8 0.4l-8.5 -14.3M962.8 246.5l8.4 -14.8M963.1 304.5l8.3 -14.7M963.3 362.6l8.4 14.3l16.9 -0.4l8.3 -14.7l-8.5 -14.3l8.4 -14.7l-8.5 -14.3l-16.8 0.4M963.4 391.7l8.3 -14.8M963.5 420.7l8.5 14.3M963.6 449.7l8.5 14.4l16.8 -0.4l8.3 -14.8l-8.4 -14.3M963.7 478.8l8.4 -14.7M963.8 507.8l8.5 14.3M963.9 536.9l8.5 14.3l-8.4 14.7M964.2 594.9l8.4 14.4l16.8 -0.4l8.3 -14.8l16.8 -0.3l8.4 -14.8l16.8 -0.4l8.3 -14.7l-8.4 -14.3l8.3 -14.7l-8.4 -14.3l8.3 -14.8l-8.4 -14.3l-16.8 0.4l-8.5 -14.3l8.4 -14.7l16.8 -0.4l8.4 14.3l-8.3 14.7M964.3 624l8.3 -14.7M964.4 653l8.3 -14.7M964.5 682.1l8.4 14.3M964.6 711.1l8.4 14.3l-8.3 14.7M965 827.3l8.4 -14.8M965.1 856.3l8.5 14.3l16.7 -0.4l8.4 -14.7M965.2 885.3l8.4 -14.7M965.4 914.4l8.4 14.3M965.5 943.4l8.4 14.3l16.8 -0.4M965.6 972.5l8.3 -14.8M965.7 1001.5l8.3 -14.7M965.8 1030.5l8.4 14.4l16.8 -0.4l8.4 14.3l16.7 -0.4l8.5 14.3M965.9 1059.6l8.3 -14.7M966 1088.6l8.4 14.3M966.1 1117.7l8.4 14.3l16.8 -0.4l8.4 14.3l16.7 -0.4M966.2 1146.7l8.3 -14.7M966.5 1204.8l8.3 -14.7M971 173.7l16.8 -0.4l8.4 -14.8l16.8 -0.3l8.5 14.3M971.3 260.8l16.8 -0.4l8.4 -14.7M971.6 347.9l16.8 -0.4M972.4 551.2l16.8 -0.4M972.8 667.3l16.8 -0.4l8.3 -14.7M973 725.4l16.8 -0.4l8.5 14.3l16.7 -0.3l8.4 -14.8l-8.5 -14.3l8.4 -14.7l-8.5 -14.3M973.1 754.5l16.8 -0.4l8.4 -14.8M973.3 783.5l16.7 -0.4l8.4 -14.7l16.7 -0.4l8.4 -14.7l16.8 -0.4l8.3 -14.7l16.8 -0.4l8.3 -14.7l16.8 -0.4l8.3 -14.7l-8.4 -14.4l-16.8 0.4l-8.3 14.7l8.4 14.4M974.3 1073.9l16.8 -0.4l8.3 -14.7M974.7 1161l16.7 -0.4l8.3 -14.7M974.9 1219.1l16.7 -0.4l8.4 14.3l16.8 -0.4l8.3 -14.7l16.7 -0.4l8.3 -14.7l-8.4 -14.3l-16.7 0.4l-8.4 -14.3M987.8 173.3l8.5 14.3M987.9 202.3l8.5 14.3l16.8 -0.4l8.4 -14.7l-8.5 -14.3M988 231.3l8.4 -14.7M988.1 260.4l8.5 14.3M988.2 289.4l8.5 14.3l16.8 -0.3l8.5 14.3l-8.4 14.7l-16.8 0.4M988.3 318.5l8.4 -14.8M988.6 376.5l8.4 14.4l16.8 -0.4l8.5 14.3l16.8 -0.4l8.4 -14.7l-8.5 -14.3l8.4 -14.8l-8.5 -14.3l8.4 -14.7l16.8 -0.4l8.3 -14.7l16.9 -0.4l8.3 -14.7l16.9 -0.4l8.3 -14.7l-8.4 -14.3l8.3 -14.7l-8.4 -14.4l8.4 -14.7l-8.5 -14.3l8.4 -14.7l-8.5 -14.3l8.4 -14.7M988.7 405.6l8.3 -14.7M988.9 463.7l8.4 14.3l16.8 -0.4M989 492.7l8.3 -14.7M989.3 579.8l8.4 14.3M989.4 608.9l8.4 14.3l16.8 -0.4l8.4 -14.7l-8.5 -14.3M989.5 637.9l8.3 -14.7M989.6 666.9l8.4 14.4M989.7 696l8.5 14.3l16.7 -0.4M989.8 725l8.4 -14.7M989.9 754.1l8.5 14.3M990 783.1l8.5 14.3l16.7 -0.4l8.5 14.4l16.7 -0.4l8.4 -14.8l-8.4 -14.3l-16.8 0.4l-8.5 -14.3M990.1 812.1l8.4 -14.7M990.3 870.2l8.5 14.3l16.7 -0.3l8.5 14.3l16.7 -0.4M990.4 899.3l8.4 -14.8M990.8 986.4l8.4 14.3M990.9 1015.4l8.4 14.3l16.7 -0.3M991 1044.5l8.3 -14.8M991.1 1073.5l8.4 14.3M991.2 1102.5l8.4 14.4l16.7 -0.4M991.3 1131.6l8.3 -14.7M991.4 1160.6l8.4 14.3M991.5 1189.7l8.4 14.3l16.8 -0.4l8.4 14.3M991.6 1218.7l8.3 -14.7M996.9 361.8l16.8 -0.4l8.4 -14.7l16.8 -0.4M997.1 419.9l16.8 -0.4l8.4 -14.7M997.2 448.9l16.8 -0.3l8.4 -14.8l16.8 -0.4l8.3 -14.7l16.9 -0.4l8.3 -14.7l16.8 -0.4l8.4 -14.7l16.8 -0.4l8.4 -14.7l16.8 -0.3l8.4 -14.7l-8.5 -14.4l-16.8 0.4l-8.5 -14.3l8.4 -14.7l-8.4 -14.4M997.4 507l16.8 -0.4l8.4 -14.7M997.5 536.1l16.8 -0.4l8.4 -14.7l16.8 -0.4M997.6 565.1l16.8 -0.4l8.5 14.3M998.6 826.5l16.7 -0.4l8.4 -14.7M998.9 913.6l16.7 -0.4l8.4 -14.7M999 942.6l16.7 -0.4l8.4 -14.7l16.7 -0.4M999.1 971.7l16.7 -0.4l8.5 14.3M1013.2 216.2l8.5 14.4l-8.4 14.7M1013.4 274.3l8.5 14.3l-8.4 14.8M1013.6 332.4l8.5 14.3M1013.7 361.4l8.5 14.4l-8.4 14.7M1013.9 419.5l8.5 14.3M1014 448.6l8.5 14.3M1014.2 506.6l8.5 14.4M1014.3 535.7l8.5 14.3l-8.4 14.7M1014.6 622.8l8.5 14.3l16.8 -0.4l8.4 14.3l16.8 -0.3l8.3 -14.8l-8.4 -14.3l-16.8 0.4l-8.4 -14.3l-16.8 0.4M1014.7 651.8l8.4 -14.7M1015 739l8.5 14.3M1015.2 797l8.4 -14.7M1015.3 826.1l8.5 14.3M1015.4 855.1l8.5 14.3l-8.4 14.8M1015.6 913.2l8.5 14.3M1015.7 942.2l8.5 14.4l-8.4 14.7M1016.1 1058.4l8.4 -14.7M1016.7 1203.6l8.3 -14.7M1021.6 201.5l16.8 -0.4l8.4 -14.7l-8.5 -14.3M1021.7 230.6l16.8 -0.4l8.5 14.3l16.8 -0.4l8.4 -14.7l-8.5 -14.3l-16.8 0.3l-8.5 -14.3M1021.8 259.6l16.8 -0.4l8.4 -14.7M1021.9 288.6l16.8 -0.4l8.4 -14.7l-8.5 -14.3M1022 317.7l16.8 -0.4l8.5 14.3M1022.2 375.8l16.8 -0.4M1022.8 550l16.8 -0.4M1023.2 666.2l16.8 -0.4l8.3 -14.8M1023.3 695.2l16.8 -0.4l8.3 -14.7l-8.4 -14.3M1023.4 724.2l16.8 -0.4l8.4 14.4M1023.9 869.4l16.7 -0.4M1024.2 956.6l16.7 -0.4M1024.4 1014.6l16.7 -0.4l8.4 -14.7l-8.5 -14.3M1024.7 1101.8l16.7 -0.4l8.3 -14.8l-8.4 -14.3M1024.8 1130.8l16.7 -0.4l8.4 14.3l16.8 -0.4l8.3 -14.7l16.7 -0.4l8.4 -14.7l16.7 -0.4l8.3 -14.7l-8.4 -14.3l8.3 -14.7l-8.4 -14.3l8.4 -14.7l16.7 -0.4l8.4 -14.7l16.7 -0.4l8.3 -14.7l-8.4 -14.3l-16.7 0.3l-8.4 -14.3l-16.8 0.4l-8.4 -14.4l8.3 -14.7l16.8 -0.3l8.3 -14.7l16.8 -0.4l8.3 -14.7l-8.4 -14.4l-16.8 0.4l-8.4 -14.3l-16.7 0.4l-8.5 -14.4l8.4 -14.7l16.7 -0.4l8.4 -14.7l-8.4 -14.3l-16.8 0.4l-8.4 -14.4l8.3 -14.7l-8.4 -14.3l8.3 -14.7l-8.4 -14.3l8.3 -14.7l-8.4 -14.4l8.4 -14.7l-8.5 -14.3l8.4 -14.7l-8.5 -14.4l8.4 -14.7l-8.4 -14.3l8.3 -14.7l-8.4 -14.3l8.3 -14.7l-8.4 -14.4l8.3 -14.7l-8.4 -14.3l8.4 -14.7l16.8 -0.4l8.3 -14.7l16.8 -0.4l8.4 -14.7l-8.5 -14.3l-16.8 0.4l-8.4 -14.4l-16.8 0.4l-8.4 -14.3l8.3 -14.7l16.8 -0.4l8.4 -14.7l16.8 -0.4l8.4 -14.7l-8.5 -14.3l-16.8 0.3l-8.4 -14.3l-16.8 0.4l-8.5 -14.4M1024.9 1159.8l16.7 -0.4l8.3 -14.7M1038.5 230.2l8.4 -14.8M1038.7 288.2l8.5 14.4l16.8 -0.4l8.4 -14.7l-8.5 -14.4l8.4 -14.7l-8.5 -14.3M1038.8 317.3l8.4 -14.7M1039.1 404.4l8.4 14.3M1039.2 433.4l8.4 14.4l16.9 -0.4l8.4 14.3l16.8 -0.4l8.4 -14.7l-8.5 -14.3l8.4 -14.7l-8.5 -14.4M1039.3 462.5l8.3 -14.7M1039.7 578.6l8.4 14.4l16.8 -0.4l8.5 14.3l16.7 -0.4l8.5 14.3l16.8 -0.3M1039.8 607.7l8.3 -14.7M1039.9 636.7l8.3 -14.7M1040.1 694.8l8.4 14.3l16.8 -0.4M1040.2 723.8l8.3 -14.7M1040.3 752.9l8.4 14.3l16.8 -0.4l8.4 14.3l16.8 -0.3l8.4 14.3l-8.3 14.7l-16.8 0.4l-8.3 14.7l8.4 14.3l16.8 -0.4l8.4 14.4l16.7 -0.4l8.5 14.3M1040.4 781.9l8.3 -14.7M1040.4 811l8.5 14.3l16.8 -0.4M1040.5 840l8.4 -14.7M1041.1 1014.2l8.4 14.4l16.8 -0.4l8.4 14.3l-8.3 14.7l-16.8 0.4M1041.2 1043.3l8.3 -14.7M1041.4 1101.4l8.4 14.3l16.8 -0.4l8.3 -14.7l-8.4 -14.3l-16.8 0.3M1041.5 1130.4l8.3 -14.7M1041.6 1159.4l8.4 14.4l16.8 -0.4l8.4 14.3l16.7 -0.4l8.4 14.3l-8.3 14.8l-16.7 0.3l-8.4 14.8l-16.7 0.3l-8.4 -14.3M1041.7 1188.5l8.3 -14.7M1046.8 186.4l16.8 -0.4l8.4 -14.7M1047.1 273.5l16.8 -0.4M1047.4 360.6l16.8 -0.3l8.4 14.3l16.8 -0.4l8.5 14.3M1047.5 389.7l16.8 -0.4l8.3 -14.7M1047.7 476.8l16.8 -0.4l8.4 -14.7M1047.8 505.8l16.8 -0.3l8.4 -14.8l16.8 -0.3l8.4 -14.8l16.8 -0.3M1047.9 534.9l16.8 -0.4l8.5 14.3l16.8 -0.4l8.3 -14.7l-8.4 -14.3l8.3 -14.7l-8.4 -14.3M1048 563.9l16.8 -0.4l8.4 -14.7M1048.4 680.1l16.8 -0.4l8.4 14.3M1048.8 796.2l16.8 -0.3l8.4 14.3M1049 854.3l16.7 -0.4l8.5 14.4l-8.4 14.7l-16.7 0.4M1049.2 912.4l16.7 -0.4l8.4 -14.7l16.7 -0.4l8.4 -14.7l16.7 -0.4M1049.3 941.4l16.7 -0.3l8.4 14.3l16.8 -0.4l8.3 -14.7l-8.4 -14.3l8.4 -14.8l-8.5 -14.3M1049.4 970.5l16.7 -0.4l8.4 14.3l16.8 -0.4l8.3 -14.7l16.8 -0.4M1049.5 999.5l16.7 -0.4l8.3 -14.7M1050.1 1202.8l16.8 -0.4l8.3 -14.7M1063.6 186l8.5 14.3l16.8 -0.3l8.5 14.3l16.8 -0.4M1063.7 215.1l8.4 -14.8M1064 302.2l8.4 14.3M1064.1 331.2l8.4 14.3l16.9 -0.3l8.3 -14.8l-8.4 -14.3M1064.2 360.3l8.3 -14.8M1064.3 389.3l8.4 14.3M1064.4 418.3l8.4 14.4l16.8 -0.4M1064.5 447.4l8.3 -14.7M1064.5 476.4l8.5 14.3M1064.6 505.5l8.5 14.3l-8.4 14.7M1064.8 563.5l8.5 14.4l16.8 -0.4l8.3 -14.7l16.8 -0.4M1064.9 592.6l8.4 -14.7M1065 621.6l8.4 -14.7M1065.1 650.7l8.4 14.3l16.8 -0.4l8.4 -14.7l16.8 -0.4M1065.2 679.7l8.3 -14.7M1065.4 737.8l8.4 14.3l16.8 -0.4l8.3 -14.7l-8.4 -14.3M1065.5 766.8l8.3 -14.7M1065.6 795.9l8.3 -14.8M1065.7 853.9l8.4 -14.7M1065.8 883l8.5 14.3M1065.9 912l8.5 14.3l16.7 -0.3M1066 941.1l8.4 -14.8M1066.1 970.1l8.3 -14.7M1066.2 999.1l8.4 14.4l16.8 -0.4l8.4 14.3l-8.3 14.7l-16.8 0.4M1066.3 1028.2l8.3 -14.7M1066.4 1057.2l8.4 14.3l-8.3 14.8M1066.6 1115.3l8.4 14.3M1066.7 1144.3l8.4 14.4l16.7 -0.4l8.3 -14.7l-8.4 -14.4M1066.8 1173.4l8.3 -14.7M1066.9 1202.4l8.4 14.3M1072.2 229.4l16.8 -0.4l8.4 -14.7M1072.3 258.4l16.8 -0.4l8.4 -14.7l16.8 -0.4M1072.4 287.5l16.8 -0.4l8.4 14.3M1073.1 519.8l16.8 -0.4M1073.4 635.9l16.8 -0.3l8.4 -14.8M1074.2 868.3l16.7 -0.4l8.4 -14.7M1074.8 1071.5l16.8 -0.3l8.3 -14.8l16.7 -0.3M1074.9 1100.6l16.7 -0.4l8.5 14.3M1088.8 170.9l8.5 14.3l-8.4 14.8M1089 229l8.5 14.3M1089.1 258l8.4 14.4l16.9 -0.4M1089.2 287.1l8.3 -14.7M1089.4 345.2l8.4 14.3l-8.4 14.7M1089.7 461.3l8.5 14.3M1090 548.4l8.4 14.4M1090.1 577.5l8.4 14.3l-8.4 14.7M1090.2 635.6l8.5 14.3M1090.3 664.6l8.5 14.3l-8.4 14.7M1090.6 751.7l8.4 14.3l-8.3 14.8M1090.8 809.8l8.4 14.3l-8.3 14.7M1090.9 867.9l8.5 14.3M1091.2 955l8.4 14.3M1091.3 984l8.4 14.4l-8.3 14.7M1091.5 1042.1l8.4 14.3M1091.6 1071.2l8.4 14.3l16.7 -0.4M1091.6 1100.2l8.4 -14.7M1091.8 1158.3l8.4 14.3l-8.3 14.7M1092 1216.4l8.4 14.3l16.7 -0.4l8.4 -14.7l-8.4 -14.3l8.3 -14.7l-8.4 -14.4l8.3 -14.7l-8.4 -14.3l8.3 -14.7l-8.4 -14.4M1097.3 185.2l16.8 -0.3M1097.7 330.4l16.8 -0.3M1097.8 359.5l16.8 -0.4l8.5 14.3M1098 417.6l16.8 -0.4l8.4 -14.7M1098.1 446.6l16.8 -0.4l8.4 14.4M1098.2 504.7l16.8 -0.4l8.4 -14.7M1098.3 533.7l16.8 -0.4l8.5 14.4M1098.5 591.8l16.8 -0.4M1098.8 678.9l16.7 -0.4M1098.8 708l16.8 -0.4M1098.9 737l16.8 -0.4M1099 766l16.8 -0.3M1099.1 795.1l16.8 -0.4M1099.2 824.1l16.8 -0.4M1099.5 911.2l16.7 -0.3l8.4 -14.7M1099.5 940.3l16.8 -0.4l8.4 14.3M1099.7 998.4l16.8 -0.4l8.3 -14.7M1099.8 1027.4l16.7 -0.4l8.5 14.4M1100.1 1143.6l16.8 -0.4M1100.2 1172.6l16.8 -0.4M1100.3 1201.6l16.8 -0.3M1114.6 359.1l8.4 -14.7M1114.8 417.2l8.4 14.3l16.8 -0.4l8.4 -14.7M1114.9 446.2l8.3 -14.7M1115 504.3l8.5 14.3l16.8 -0.3l8.3 -14.7M1115.1 533.3l8.4 -14.7M1116 852.8l8.4 -14.7M1116.2 910.9l8.4 14.3l16.8 -0.4l8.3 -14.7M1116.3 939.9l8.3 -14.7M1116.5 998l8.4 14.3l16.7 -0.4l8.4 -14.7M1116.5 1027l8.4 -14.7M1122.6 199.2l16.8 -0.4l8.4 -14.7M1122.7 228.2l16.8 -0.3l8.4 -14.7l16.8 -0.4l8.4 -14.7l16.8 -0.4l8.4 -14.7l16.8 -0.4l8.4 -14.7l-8.4 -14.3l-16.9 0.4l-8.4 14.7l-16.8 0.3M1122.7 257.3l16.9 -0.4l8.4 14.3l-8.4 14.7l-16.8 0.4M1122.9 315.4l16.8 -0.4l8.4 -14.7l16.8 -0.4l8.4 -14.7l16.8 -0.4l8.4 -14.7l16.8 -0.3l8.4 -14.7l-8.4 -14.4l8.3 -14.7l-8.4 -14.3l8.4 -14.7l-8.5 -14.4M1123.6 576.7l16.8 -0.4l8.5 14.4l-8.4 14.7l-16.8 0.4M1123.8 634.8l16.8 -0.4l8.4 -14.7l16.7 -0.4l8.4 -14.7l-8.4 -14.3l-16.8 0.4M1123.9 663.8l16.8 -0.3l8.4 14.3l16.8 -0.4l8.4 -14.7l-8.5 -14.3l8.4 -14.7l-8.5 -14.4M1124 692.9l16.8 -0.4l8.3 -14.7M1124.1 721.9l16.7 -0.4l8.4 -14.7l16.8 -0.3l8.3 -14.7l16.8 -0.4l8.4 -14.7l16.8 -0.4l8.3 -14.7l-8.4 -14.3l8.3 -14.7l-8.4 -14.4l8.4 -14.7l-8.4 -14.3l8.3 -14.7l-8.4 -14.3l8.4 -14.7l-8.5 -14.4l8.4 -14.7l16.8 -0.3l8.4 -14.7l16.8 -0.4l8.3 -14.7l16.8 -0.4l8.4 -14.7l16.8 -0.3l8.4 -14.7l-8.4 -14.3l-16.8 0.3l-8.5 -14.3l8.4 -14.7l-8.4 -14.4l8.4 -14.7l-8.5 -14.3l8.4 -14.7l-8.4 -14.4l8.4 -14.7l-8.5 -14.3l8.4 -14.7l-8.4 -14.3l8.3 -14.7l-8.4 -14.4l8.4 -14.7l16.8 -0.3l8.4 -14.7l16.8 -0.4l8.4 -14.7l-8.4 -14.3l-16.8 0.3l-8.5 -14.3l-16.8 0.3l-8.5 -14.3l8.4 -14.7l16.9 -0.3l8.4 14.3l16.9 -0.3l8.3 -14.7l16.9 -0.4l8.4 14.4l-8.4 14.7l8.5 14.3l16.8 -0.3l8.4 14.3l16.9 -0.3l8.4 -14.7l16.8 -0.3l8.4 -14.7l-8.4 -14.4l-16.9 0.4l-8.4 -14.4l-16.8 0.3l-8.4 14.7l-16.9 0.4M1124.1 751l16.8 -0.4l8.4 14.3l-8.3 14.7l-16.8 0.4M1124.3 809l16.8 -0.3l8.3 -14.7l16.8 -0.4l8.3 -14.7l16.8 -0.4l8.4 -14.7l16.8 -0.4l8.3 -14.7l16.8 -0.3l8.3 -14.7l-8.4 -14.4l-16.8 0.4l-8.4 -14.3l8.4 -14.7l-8.4 -14.4M1125 1070.4l16.8 -0.4l8.4 14.4l16.8 -0.4l8.3 -14.7l-8.4 -14.4l8.3 -14.7l-8.4 -14.3M1125.1 1099.4l16.8 -0.3l8.3 -14.7M1125.2 1128.5l16.8 -0.4l8.3 -14.7l16.7 -0.4l8.4 -14.7l16.7 -0.4l8.3 -14.7l16.8 -0.3l8.3 -14.7l-8.4 -14.4l8.4 -14.7l-8.4 -14.3l8.3 -14.7l-8.4 -14.3l8.3 -14.7l-8.4 -14.4l8.4 -14.7l-8.4 -14.3l8.3 -14.7l16.8 -0.4l8.3 -14.7l16.8 -0.3l8.3 -14.7l16.8 -0.4l8.3 -14.7l-8.4 -14.3l8.4 -14.7l-8.4 -14.4l8.3 -14.7l-8.4 -14.3l8.4 -14.7l-8.4 -14.4l8.3 -14.7l-8.4 -14.3l8.4 -14.7l-8.4 -14.3l-16.8 0.3l-8.4 -14.3l8.3 -14.7l-8.4 -14.4l8.4 -14.7l16.8 -0.3l8.3 -14.7l16.8 -0.4l8.4 -14.7l-8.4 -14.3l8.3 -14.7l-8.4 -14.3l-16.8 0.3l-8.4 -14.3l8.4 -14.7l16.8 -0.4l8.3 -14.7l-8.4 -14.3l8.4 -14.7l-8.4 -14.4l-16.8 0.4l-8.5 -14.4M1125.3 1157.5l16.7 -0.4l8.4 14.4l16.8 -0.4l8.3 -14.7l-8.4 -14.3l8.3 -14.7l-8.4 -14.4M1125.4 1186.6l16.7 -0.4l8.3 -14.7M1125.5 1215.6l16.7 -0.4l8.3 -14.7l16.8 -0.4l8.3 -14.7l16.7 -0.3l8.3 -14.7l16.8 -0.4l8.3 -14.7l-8.4 -14.3l8.4 -14.7l-8.4 -14.4l8.3 -14.7l-8.4 -14.3M1139.4 198.8l8.5 14.4M1139.5 227.9l8.4 14.3l16.9 -0.4l8.4 14.4l16.8 -0.4l8.5 14.3M1139.6 256.9l8.3 -14.7M1139.6 285.9l8.5 14.4M1139.7 315l8.5 14.3l16.8 -0.4l8.4 14.4l16.9 -0.4l8.4 14.3l-8.4 14.7l-16.8 0.4l-8.4 14.7l-16.8 0.4l-8.4 -14.3M1139.8 344l8.4 -14.7M1140 402.1l8.3 -14.7M1140 431.1l8.5 14.4M1140.1 460.2l8.5 14.3l16.8 -0.4l8.3 -14.7l-8.4 -14.3M1140.2 489.2l8.4 -14.7M1140.3 518.3l8.4 14.3M1140.4 547.3l8.4 14.3l16.8 -0.3l8.4 -14.7l-8.5 -14.4M1140.4 576.3l8.4 -14.7M1140.5 605.4l8.5 14.3M1140.6 634.4l8.4 14.4l16.8 -0.4M1140.7 663.5l8.3 -14.7M1140.8 692.5l8.4 14.3M1140.8 721.5l8.5 14.4l16.7 -0.4l8.5 14.3l16.8 -0.3l8.4 14.3M1140.9 750.6l8.4 -14.7M1141 779.6l8.4 14.4M1141.1 808.7l8.4 14.3l16.8 -0.4l8.4 14.4l16.8 -0.4l8.3 -14.7l-8.4 -14.4l8.3 -14.7l-8.4 -14.3M1141.2 837.7l8.3 -14.7M1141.2 866.7l8.5 14.4l16.7 -0.4l8.4 -14.7l16.7 -0.4l8.4 -14.7l16.8 -0.3l8.3 -14.7l16.8 -0.4l8.3 -14.7l16.8 -0.4l8.4 -14.7l16.7 -0.3M1141.3 895.8l8.4 -14.7M1141.4 924.8l8.4 14.4M1141.5 953.9l8.4 14.3l-8.3 14.7M1141.6 1011.9l8.5 14.4M1141.7 1041l8.4 14.3l16.8 -0.4M1141.8 1070l8.3 -14.7M1141.9 1099.1l8.4 14.3M1142 1128.1l8.4 14.3l16.7 -0.3M1142 1157.1l8.4 -14.7M1142.1 1186.2l8.4 14.3M1142.2 1215.2l8.4 14.4l16.7 -0.4l8.4 -14.7l-8.4 -14.4M1148 271.2l16.8 -0.3l8.4 -14.7M1148.3 358.4l16.8 -0.4l8.3 -14.7M1149.3 764.9l16.8 -0.4l8.4 -14.7M1149.6 852l16.8 -0.3l8.3 -14.7M1149.9 968.2l16.8 -0.4l8.3 -14.7l-8.4 -14.3M1164.6 183.7l8.5 14.4M1164.7 212.8l8.4 14.3l16.9 -0.4l8.4 -14.7l-8.5 -14.3M1164.8 241.8l8.3 -14.7M1164.8 270.9l8.5 14.3M1164.9 299.9l8.5 14.3l16.8 -0.3l8.4 -14.7l-8.5 -14.4M1165 328.9l8.4 -14.7M1165.1 358l8.4 14.3M1165.1 387l8.5 14.4l16.8 -0.4l8.4 14.3l-8.3 14.7l-16.8 0.4M1165.2 416.1l8.4 -14.7M1165.4 474.1l8.4 14.4l16.8 -0.4l8.5 14.3l16.8 -0.3l8.4 14.3M1165.4 503.2l8.4 -14.7M1165.6 561.3l8.4 14.3l16.8 -0.4l8.5 14.4l16.8 -0.4M1165.7 590.3l8.3 -14.7M1165.9 677.4l8.4 14.4M1166 706.5l8.4 14.3l16.8 -0.4l8.3 -14.7l-8.4 -14.3M1166 735.5l8.4 -14.7M1166.1 764.5l8.4 14.4M1166.2 793.6l8.4 14.3l16.8 -0.4M1166.3 822.6l8.3 -14.7M1166.4 851.7l8.4 14.3M1166.4 880.7l8.4 14.3l16.8 -0.3l8.4 14.3l16.8 -0.4l8.4 14.4M1166.5 909.7l8.3 -14.7M1166.7 967.8l8.4 14.4l16.7 -0.4l8.4 14.3l16.8 -0.3M1166.7 996.9l8.4 -14.7M1167 1084l8.4 14.3M1167.2 1171.1l8.4 14.3M1173.7 459.4l16.8 -0.3l8.4 -14.7l16.8 -0.4l8.4 -14.7l16.8 -0.4l8.4 -14.7l16.8 -0.3l8.4 -14.7l-8.5 -14.4l-16.8 0.4l-8.4 -14.3l-16.8 0.3l-8.5 -14.3l8.4 -14.7l16.8 -0.4l8.4 -14.7l-8.4 -14.3l-16.9 0.3l-8.4 -14.3l8.4 -14.7l-8.5 -14.3M1173.9 517.5l16.8 -0.4l8.4 -14.7M1174 546.6l16.8 -0.4l8.3 -14.7l-8.4 -14.4M1174.1 604.6l16.8 -0.3l8.4 -14.7M1174.2 633.7l16.8 -0.4l8.3 -14.7l16.8 -0.4M1174.3 662.7l16.7 -0.4l8.5 14.4M1174.9 924.1l16.8 -0.4l8.3 -14.7M1175 953.1l16.8 -0.4l8.3 -14.7l16.8 -0.3M1175.1 1011.2l16.8 -0.4l8.3 -14.7M1175.2 1040.2l16.8 -0.3l8.3 -14.7l16.8 -0.4M1175.3 1069.3l16.7 -0.4l8.4 14.3M1175.4 1127.4l16.8 -0.4l8.3 -14.7l-8.4 -14.4M1175.5 1156.4l16.7 -0.4l8.4 14.4M1175.7 1214.5l16.7 -0.4l8.3 -14.7l-8.4 -14.3M1189.8 168.7l8.5 14.3M1190 226.7l8.4 14.4l-8.4 14.7M1190.2 313.9l8.4 14.3l-8.3 14.7M1190.3 371.9l8.5 14.4l-8.4 14.7M1190.5 430l8.4 14.4M1190.5 459.1l8.5 14.3l-8.4 14.7M1190.8 546.2l8.4 14.3l-8.4 14.7M1190.9 604.3l8.4 14.3M1191 633.3l8.4 14.3l-8.4 14.7M1191.2 720.4l8.4 14.4l16.8 -0.4l8.4 14.3M1191.3 749.5l8.3 -14.7M1191.5 836.6l8.4 14.3M1191.5 865.6l8.5 14.4l16.7 -0.4l8.4 -14.7l-8.4 -14.3M1191.6 894.7l8.4 -14.7M1191.7 923.7l8.4 14.3M1191.8 952.7l8.4 14.4l-8.4 14.7M1191.9 1010.8l8.4 14.4M1192 1039.9l8.4 14.3l16.7 -0.4M1192 1068.9l8.4 -14.7M1192.2 1127l8.4 14.3l-8.4 14.7M1198.4 212l16.8 -0.3M1198.4 241.1l16.9 -0.4M1198.6 299.2l16.8 -0.4M1198.6 328.2l16.9 -0.4l8.4 14.4M1198.7 357.2l16.8 -0.3M1198.8 386.3l16.8 -0.4l8.4 -14.7M1198.8 415.3l16.9 -0.3l8.4 14.3M1199 473.4l16.8 -0.4l8.4 -14.7l-8.5 -14.3M1199.1 531.5l16.8 -0.4M1199.2 560.5l16.8 -0.3M1199.4 647.6l16.8 -0.3M1199.5 705.7l16.8 -0.3M1199.7 792.8l16.8 -0.3l8.4 -14.7l-8.4 -14.4M1199.8 821.9l16.8 -0.4l8.4 14.4M1200.2 967.1l16.7 -0.4M1200.5 1112.3l16.8 -0.4M1200.6 1141.3l16.7 -0.3M1200.7 1199.4l16.8 -0.4l8.3 -14.7l-8.4 -14.3M1215.5 327.8l8.3 -14.7M1215.6 385.9l8.4 14.4l16.8 -0.4l8.4 -14.7M1215.7 415l8.3 -14.7M1215.8 473l8.4 14.4l16.8 -0.4l8.4 -14.7l-8.4 -14.3l-16.8 0.3M1215.9 502.1l8.3 -14.7M1216.4 734.4l8.3 -14.7M1216.5 792.5l8.4 14.3l16.8 -0.3l8.4 -14.7l-8.5 -14.4l-16.7 0.4M1216.6 821.5l8.3 -14.7M1216.7 879.6l8.4 14.3l16.8 -0.3l8.4 -14.7l-8.5 -14.4l-16.7 0.4M1216.8 908.6l8.3 -14.7M1217.5 1199l8.4 14.4l16.7 -0.4l8.3 -14.7l-8.4 -14.3l-16.7 0.3M1223.5 167.9l16.8 -0.3l8.4 -14.7l16.9 -0.4l8.4 14.4l-8.4 14.7l-16.8 0.3l-8.4 14.7l-16.8 0.4M1223.6 226l16.9 -0.3l8.4 14.3l16.8 -0.4l8.4 -14.7l16.9 -0.3l8.4 14.3M1223.7 255.1l16.8 -0.4l8.4 -14.7M1223.8 284.1l16.8 -0.4l8.4 -14.7l16.8 -0.3l8.4 -14.7l16.8 -0.4M1224.4 545.5l16.8 -0.4l8.4 14.3l16.8 -0.3l8.3 -14.7l-8.4 -14.4l8.4 -14.7l-8.4 -14.3M1224.4 574.5l16.8 -0.4l8.4 -14.7M1224.5 603.5l16.8 -0.3l8.3 -14.7l16.8 -0.4l8.4 -14.7l16.8 -0.3M1224.5 632.6l16.8 -0.4l8.5 14.4l-8.4 14.7l-16.8 0.3M1224.7 690.7l16.8 -0.4l8.3 -14.7l16.8 -0.4M1225.3 952l16.7 -0.3l8.4 14.3l16.8 -0.4l8.3 -14.7l-8.4 -14.3l8.4 -14.7l-8.4 -14.3M1225.3 981.1l16.8 -0.4l8.3 -14.7M1225.4 1010.1l16.7 -0.4l8.4 -14.7l16.7 -0.3l8.4 -14.7l16.8 -0.4l8.3 -14.7l16.8 -0.3l8.3 -14.7l-8.4 -14.4l-16.8 0.4l-8.4 -14.4l8.4 -14.7l-8.4 -14.3M1225.5 1039.1l16.7 -0.3l8.4 14.3l16.8 -0.3l8.3 -14.7l-8.4 -14.4l8.4 -14.7l-8.5 -14.3M1225.5 1068.2l16.8 -0.4l8.3 -14.7M1225.6 1097.2l16.7 -0.3l8.4 -14.7l16.7 -0.4l8.4 -14.7l16.7 -0.4l8.4 -14.7l16.7 -0.3l8.4 -14.7l-8.4 -14.3l8.3 -14.7l-8.4 -14.4l-16.7 0.4l-8.4 -14.4M1225.7 1126.3l16.7 -0.4l8.4 14.3l-8.3 14.7l-16.8 0.4M1240.3 167.6l8.5 14.3M1240.4 196.6l8.5 14.4l16.8 -0.4l8.4 14.3M1240.5 225.7l8.4 -14.7M1240.5 254.7l8.5 14.3M1240.6 283.7l8.4 14.4l16.9 -0.4l8.4 14.4l16.8 -0.4M1240.7 312.8l8.3 -14.7M1240.7 341.8l8.5 14.4l16.8 -0.4l8.4 -14.7l16.8 -0.4M1240.8 370.9l8.4 -14.7M1240.8 399.9l8.5 14.3M1240.9 428.9l8.4 14.4l-8.3 14.7M1241 487l8.5 14.4M1241.1 516.1l8.4 14.3l16.8 -0.4M1241.2 545.1l8.3 -14.7M1241.2 574.1l8.4 14.4M1241.3 603.2l8.4 14.3l16.8 -0.3l8.4 14.3l16.8 -0.4l8.4 14.4M1241.3 632.2l8.4 -14.7M1241.4 661.3l8.4 14.3M1241.5 690.3l8.4 14.3l16.8 -0.3M1241.5 719.3l8.4 -14.7M1241.6 748.4l8.4 14.3l16.8 -0.3l8.3 -14.7l16.8 -0.4M1241.6 777.4l8.4 -14.7M1241.7 806.5l8.4 14.3M1241.8 835.5l8.4 14.3l-8.4 14.7M1241.9 893.6l8.4 14.3M1242 922.6l8.4 14.4l16.7 -0.4M1242 951.7l8.4 -14.7M1242.1 980.7l8.4 14.3M1242.1 1009.7l8.5 14.4l16.7 -0.4M1242.2 1038.8l8.4 -14.7M1242.3 1067.8l8.4 14.4M1242.3 1096.9l8.4 14.3l16.8 -0.4l8.4 14.4l-8.4 14.7l-16.7 0.3M1242.4 1125.9l8.3 -14.7M1242.5 1154.9l8.4 14.4l16.7 -0.4l8.3 -14.7l16.8 -0.3l8.3 -14.7l16.8 -0.4l8.3 -14.7l16.7 -0.3l8.4 -14.7l-8.4 -14.4l-16.7 0.4l-8.4 -14.4l-16.8 0.4l-8.4 -14.4M1242.5 1184l8.4 -14.7M1249.1 327.1l16.8 -0.3l8.4 -14.7M1249.3 443.3l16.8 -0.4l8.4 -14.7l-8.4 -14.3M1249.4 472.3l16.8 -0.3l8.4 14.3M1249.8 646.6l16.8 -0.4l8.3 -14.7M1249.9 733.7l16.8 -0.4l8.4 -14.7M1250.1 791.8l16.7 -0.4l8.5 14.3M1250.2 849.8l16.8 -0.3l8.3 -14.7l-8.4 -14.4M1250.3 878.9l16.7 -0.4l8.4 14.4M1250.9 1198.3l16.8 -0.3l8.3 14.3l16.8 -0.4l8.3 -14.7l-8.4 -14.3l8.4 -14.7l-8.4 -14.3M1265.6 181.6l8.5 14.3l-8.4 14.7M1265.7 239.6l8.5 14.4M1265.8 268.7l8.4 14.3l-8.3 14.7M1265.9 326.8l8.5 14.3M1266 355.8l8.4 14.3l-8.4 14.7M1266.1 442.9l8.5 14.4l-8.4 14.7M1266.4 559.1l8.4 14.3M1266.4 588.1l8.5 14.4l16.8 -0.4l8.3 -14.7M1266.5 617.2l8.4 -14.7M1266.6 646.2l8.4 14.3M1266.7 733.3l8.4 14.4M1266.8 762.4l8.4 14.3l16.8 -0.4M1266.8 791.4l8.4 -14.7M1267 849.5l8.4 14.3l-8.4 14.7M1267.2 965.6l8.4 14.4M1267.4 1052.8l8.4 14.3M1267.4 1081.8l8.4 14.3l-8.3 14.7M1267.5 1139.9l8.4 14.3M1267.6 1168.9l8.4 14.4l-8.3 14.7M1274 166.9l16.8 -0.4M1274.1 195.9l16.8 -0.4l8.4 -14.7M1274.2 283l16.9 -0.3M1274.4 370.1l16.8 -0.3M1274.5 399.2l16.8 -0.4M1274.5 428.2l16.8 -0.3M1274.6 457.3l16.8 -0.4l8.4 14.3M1274.7 515.3l16.8 -0.3l8.4 -14.7M1274.7 544.4l16.8 -0.4l8.5 14.4M1275 689.6l16.8 -0.4l8.4 -14.7l-8.4 -14.3M1275.3 834.8l16.8 -0.4M1275.4 863.8l16.7 -0.3M1275.5 921.9l16.7 -0.4M1275.5 950.9l16.8 -0.3l8.4 14.3M1275.7 1009l16.7 -0.3l8.4 -14.7M1275.7 1038.1l16.8 -0.4l8.4 14.3M1275.8 1096.1l16.8 -0.3l8.3 -14.7M1275.9 1125.2l16.7 -0.4l8.4 14.4M1276 1183.3l16.7 -0.4M1290.9 195.5l8.4 14.4l16.9 -0.4l8.4 -14.7M1291 224.6l8.3 -14.7M1291.4 456.9l8.4 -14.7M1291.5 515l8.4 14.3l16.8 -0.3M1291.5 544l8.4 -14.7M1291.7 602.1l8.4 14.3l16.8 -0.3M1291.7 631.1l8.4 -14.7M1291.8 689.2l8.4 14.4l-8.3 14.7M1292.3 950.6l8.3 -14.7M1292.4 1008.7l8.4 14.3l16.8 -0.3M1292.5 1037.7l8.3 -14.7M1292.6 1095.8l8.4 14.3l16.7 -0.3l8.4 -14.7M1292.6 1124.8l8.4 -14.7M1299.4 268l16.9 -0.4l8.4 14.4l16.8 -0.4l8.4 -14.7l-8.4 -14.3l8.4 -14.7l-8.5 -14.4M1299.5 297l16.8 -0.3l8.4 -14.7M1299.6 326l16.8 -0.3l8.4 -14.7l16.8 -0.3l8.4 -14.7l-8.5 -14.4M1299.6 355.1l16.8 -0.4l8.5 14.4l16.8 -0.4l8.4 -14.7l-8.5 -14.3l8.4 -14.7l-8.4 -14.3M1299.7 384.1l16.8 -0.3l8.4 -14.7M1299.7 413.2l16.8 -0.4l8.4 -14.7l16.8 -0.3l8.4 -14.7l16.8 -0.4l8.4 -14.6l16.8 -0.4l8.4 -14.7l-8.4 -14.3l8.4 -14.7l-8.5 -14.4l8.4 -14.7l-8.4 -14.3l8.4 -14.7l-8.4 -14.3l8.4 -14.7l-8.5 -14.4l8.4 -14.7M1300.2 674.5l16.8 -0.3l8.4 14.3l16.8 -0.3l8.4 14.3l-8.4 14.7l-16.8 0.4l-8.3 14.7l-16.8 0.3M1300.2 703.6l16.8 -0.4l8.4 -14.7M1300.3 761.6l16.8 -0.3l8.4 14.3l16.8 -0.3l8.4 -14.7l-8.4 -14.3l8.3 -14.7l-8.4 -14.4M1300.4 790.7l16.8 -0.4l8.3 -14.7M1300.4 819.7l16.8 -0.3l8.4 -14.7l16.7 -0.4l8.4 -14.7l16.8 -0.3l8.3 -14.7l16.8 -0.3l8.4 -14.7l-8.4 -14.4l8.4 -14.7l-8.4 -14.3l8.3 -14.7l-8.4 -14.3l8.4 -14.7l-8.4 -14.4l8.4 -14.7l-8.5 -14.3l8.4 -14.7l16.8 -0.3l8.4 -14.7l16.8 -0.4l8.4 -14.6l-8.4 -14.4l-16.8 0.3l-8.5 -14.3l-16.8 0.3l-8.4 -14.3l8.4 -14.7l16.8 -0.4l8.4 -14.7l-8.4 -14.3l8.4 -14.7l-8.5 -14.3l-16.8 0.3l-8.4 -14.4l8.4 -14.7l16.8 -0.3l8.4 -14.7l-8.4 -14.3l-16.8 0.3l-8.4 -14.3l8.3 -14.7l-8.4 -14.4M1300.5 848.8l16.8 -0.4l8.4 14.4l16.7 -0.4l8.4 -14.7l-8.4 -14.3l8.4 -14.7l16.7 -0.4l8.4 -14.6l-8.4 -14.4M1300.5 877.8l16.8 -0.3l8.4 -14.7M1300.6 906.8l16.8 -0.3l8.3 -14.7l16.8 -0.3l8.3 -14.7l16.8 -0.4l8.4 -14.7l16.7 -0.3l8.4 -14.7l16.8 -0.3l8.3 -14.7l-8.4 -14.4l-16.7 0.4l-8.4 -14.4l8.3 -14.7l-8.4 -14.3M1301.1 1168.2l16.7 -0.3l8.4 14.3l16.7 -0.3l8.4 -14.7l-8.4 -14.4l8.3 -14.7l-8.4 -14.3M1301.1 1197.2l16.8 -0.3l8.3 -14.7M1316.1 180.5l8.4 -14.7M1316.2 209.5l8.4 14.4M1316.2 238.6l8.5 14.3l16.8 -0.3M1316.3 267.6l8.4 -14.7M1316.3 296.7l8.5 14.3M1316.4 325.7l8.4 14.3l16.8 -0.3M1316.4 354.7l8.4 -14.7M1316.5 383.8l8.4 14.3M1316.5 412.8l8.4 14.4l16.9 -0.4l8.4 14.4l-8.4 14.7l-16.8 0.3M1316.6 441.9l8.3 -14.7M1316.6 470.9l8.4 14.3l16.8 -0.3l8.4 -14.7l16.8 -0.3l8.4 -14.7l16.8 -0.4M1316.7 499.9l8.3 -14.7M1316.8 558l8.4 14.4l16.8 -0.4l8.4 -14.7l16.8 -0.3l8.3 -14.7l16.8 -0.3M1316.8 587.1l8.4 -14.7M1316.9 645.1l8.4 14.4l16.8 -0.4l8.4 -14.7l16.8 -0.3l8.4 -14.7l16.7 -0.3M1317 674.2l8.3 -14.7M1317 703.2l8.4 14.4M1317.1 732.3l8.4 14.3l16.8 -0.3M1317.1 761.3l8.4 -14.7M1317.2 790.3l8.4 14.4M1317.2 819.4l8.4 14.3l16.8 -0.3M1317.3 848.4l8.3 -14.7M1317.3 877.5l8.4 14.3M1317.4 906.5l8.4 14.3l16.7 -0.3l8.4 14.3l16.8 -0.3l8.3 -14.7l-8.4 -14.3l8.4 -14.7l-8.4 -14.4M1317.4 935.5l8.4 -14.7M1317.5 964.6l8.4 14.3l16.7 -0.3l8.4 -14.7l16.7 -0.4l8.4 -14.6l16.7 -0.4l8.4 -14.7l16.8 -0.3l8.3 -14.7l-8.4 -14.3l8.4 -14.7l-8.4 -14.4l-16.8 0.3l-8.4 -14.3M1317.5 993.6l8.4 -14.7M1317.6 1051.7l8.4 14.3l16.8 -0.3l8.3 -14.7l16.7 -0.3l8.4 -14.7l16.8 -0.4l8.3 -14.7l16.8 -0.3l8.3 -14.7l-8.4 -14.3l8.4 -14.7l-8.4 -14.4l-16.8 0.4l-8.4 -14.4M1317.7 1080.7l8.3 -14.7M1317.7 1109.8l8.4 14.3M1317.8 1138.8l8.3 14.4l16.8 -0.4M1317.8 1167.9l8.3 -14.7M1317.9 1196.9l8.3 14.3l16.8 -0.3l8.3 -14.7l16.8 -0.3l8.3 -14.7l16.7 -0.4l8.4 -14.7l-8.4 -14.3l8.4 -14.7l-8.4 -14.3l8.3 -14.7l-8.4 -14.4l8.4 -14.7l-8.4 -14.3l8.3 -14.7l-8.3 -14.4M1325.1 514.3l16.8 -0.4l8.4 14.4l16.8 -0.4l8.4 -14.6l-8.4 -14.4l8.4 -14.7l-8.5 -14.3M1325.1 543.3l16.8 -0.3l8.4 -14.7M1325.2 601.4l16.8 -0.3l8.4 14.3l-8.3 14.7l-16.8 0.3M1325.8 949.9l16.8 -0.4l8.3 -14.7M1325.9 1008l16.8 -0.4l8.4 14.4l16.7 -0.4l8.4 -14.7l-8.4 -14.3l8.3 -14.7l-8.4 -14.4M1326 1037l16.7 -0.3l8.4 -14.7M1341.4 165.5l8.4 14.3l16.8 -0.3M1341.4 194.5l8.4 -14.7M1341.7 368.7l8.4 14.4M1341.7 397.8l8.4 14.3l16.9 -0.3l8.3 -14.7l-8.4 -14.4M1341.8 426.8l8.3 -14.7M1341.8 455.9l8.4 14.3M1341.8 484.9l8.5 14.3l16.8 -0.3M1341.9 513.9l8.4 -14.7M1341.9 543l8.5 14.3M1342 572l8.4 14.4l16.8 -0.4l8.4 14.4l16.8 -0.4l8.4 14.4M1342 601.1l8.4 -14.7M1342.1 630.1l8.4 14.3M1342.1 659.1l8.4 14.4l16.8 -0.4l8.4 14.4l16.8 -0.3M1342.2 688.2l8.3 -14.7M1342.3 775.3l8.4 14.3M1342.3 804.3l8.5 14.4M1342.4 862.4l8.4 14.4M1342.5 891.5l8.4 14.3l16.7 -0.3M1342.5 920.5l8.4 -14.7M1342.6 949.5l8.4 14.4M1342.6 978.6l8.4 14.3l-8.3 14.7M1342.7 1036.7l8.4 14.3M1342.8 1065.7l8.3 14.3l16.8 -0.3l8.4 14.4l16.7 -0.4M1342.8 1094.7l8.3 -14.7M1342.9 1181.9l8.4 14.3M1349.8 208.8l16.9 -0.3l8.4 -14.7M1349.9 237.9l16.8 -0.4l8.4 -14.6l16.8 -0.4M1349.9 266.9l16.8 -0.3l8.5 14.3l-8.4 14.7l-16.8 0.4M1350 325l16.8 -0.3l8.4 -14.7l-8.4 -14.4M1350.1 354l16.8 -0.3l8.4 14.4M1350.2 441.2l16.8 -0.4l8.4 14.4M1350.4 615.4l16.8 -0.3l8.4 -14.7M1350.6 702.5l16.8 -0.3l8.3 -14.7M1350.6 731.6l16.8 -0.4l8.4 -14.7l16.8 -0.3M1350.7 760.6l16.7 -0.3l8.4 14.3M1350.8 847.7l16.8 -0.3l8.4 14.3M1351 992.9l16.8 -0.3M1351.2 1109.1l16.7 -0.4l8.4 -14.6M1351.2 1138.1l16.8 -0.3l8.3 -14.7l16.8 -0.3M1351.3 1167.2l16.7 -0.4l8.4 14.4M1366.7 208.5l8.4 14.4M1366.7 237.5l8.4 14.4l16.9 -0.3M1366.7 266.6l8.4 -14.7M1366.8 324.7l8.5 14.3l-8.4 14.7M1367 411.8l8.4 14.3l-8.4 14.7M1367.1 527.9l8.4 14.4M1367.2 557l8.4 14.3l16.8 -0.3l8.3 -14.7M1367.2 586l8.4 -14.7M1367.2 615.1l8.5 14.3M1367.3 644.1l8.4 14.4l16.8 -0.4M1367.3 673.1l8.4 -14.6M1367.4 702.2l8.4 14.3M1367.4 731.2l8.4 14.4l-8.4 14.7M1367.5 818.3l8.4 14.4l16.8 -0.3l8.4 14.3M1367.6 847.4l8.3 -14.7M1367.7 934.5l8.4 14.4M1367.8 1021.6l8.4 14.4M1367.8 1050.7l8.4 14.3l-8.3 14.7M1367.9 1108.7l8.4 14.4M1368 1137.8l8.4 14.3l-8.4 14.7M1375.2 280.9l16.8 -0.3M1375.2 310l16.8 -0.4M1375.3 339l16.8 -0.3M1375.3 397.1l16.9 -0.3M1375.4 426.1l16.8 -0.3l8.4 14.3M1375.5 484.2l16.8 -0.3l8.3 -14.7M1375.5 513.3l16.8 -0.4l8.4 14.4M1375.8 745.6l16.8 -0.4M1375.9 803.7l16.8 -0.4M1376 890.8l16.8 -0.4l8.3 -14.7M1376 919.8l16.8 -0.3l8.4 14.3M1376.1 977.9l16.8 -0.3l8.3 -14.7M1376.2 1006.9l16.7 -0.3l8.4 14.3M1376.2 1065l16.8 -0.3M1376.4 1152.1l16.7 -0.3M1391.9 164.4l8.4 14.4l-8.4 14.7M1392.2 425.8l8.4 -14.7M1392.3 483.9l8.4 14.3l16.8 -0.3M1392.3 512.9l8.4 -14.7M1392.4 571l8.4 14.3l16.8 -0.3l8.4 -14.7M1392.4 600l8.4 -14.7M1392.7 832.4l8.4 -14.7M1392.8 890.4l8.4 14.4l16.7 -0.3M1392.8 919.5l8.4 -14.7M1392.9 977.6l8.4 14.3l16.7 -0.3M1392.9 1006.6l8.4 -14.7M1393.1 1180.8l8.4 14.4l16.8 -0.3l8.3 -14.7l16.7 -0.4l8.4 -14.6l16.7 -0.4l8.4 -14.7l16.7 -0.3l8.4 -14.7l-8.4 -14.3l-16.7 0.3l-8.4 -14.4l8.3 -14.6l16.8 -0.4l8.3 -14.6l-8.3 -14.4l-16.8 0.3l-8.4 -14.3l-16.7 0.3l-8.4 -14.4l8.4 -14.6l16.7 -0.4l8.4 -14.7l-8.4 -14.3l8.4 -14.7l-8.4 -14.4l8.3 -14.6l-8.4 -14.4l8.4 -14.7l16.8 -0.3l8.3 -14.7l16.8 -0.3l8.4 -14.7l16.7 -0.3l8.4 -14.7l16.8 -0.3l8.4 -14.7l-8.4 -14.3l8.4 -14.7l-8.4 -14.4l8.4 -14.6l-8.4 -14.4l8.3 -14.7l-8.3 -14.3l8.3 -14.7l-8.3 -14.4l8.3 -14.7l16.8 -0.3l8.4 -14.6l16.8 -0.3l8.4 -14.7l-8.4 -14.4l-16.8 0.3l-8.4 -14.3l-16.8 0.3l-8.4 -14.4l8.4 -14.7l16.8 -0.3l8.4 -14.7l-8.4 -14.3l8.4 -14.7l-8.4 -14.4l-16.8 0.3l-8.4 -14.3l8.4 -14.7l16.8 -0.3l8.4 14.4l16.8 -0.3l8.4 -14.7l16.8 -0.3l8.4 -14.7l-8.4 -14.3l8.4 -14.7l-8.4 -14.4l8.4 -14.7l-8.4 -14.3l8.4 -14.7l-8.4 -14.4l-16.8 0.3l-8.4 -14.3l8.4 -14.7l-8.4 -14.4l8.4 -14.6l16.8 -0.3l8.5 -14.7l-8.5 -14.4l-16.8 0.3l-8.4 -14.4l8.4 -14.6l-8.4 -14.4l8.4 -14.7l-8.4 -14.3l-16.8 0.3l-8.4 -14.4l8.4 -14.7l-8.4 -14.3l8.4 -14.7l-8.4 -14.4l8.4 -14.7l-8.4 -14.3l8.4 -14.7l16.8 -0.3l8.5 14.4l16.8 -0.3l8.4 14.3l-8.4 14.7l-16.9 0.3l-8.4 14.7l8.4 14.4l16.9 -0.3l8.4 -14.7l-8.4 -14.4M1400.3 178.8l16.8 -0.3l8.4 -14.7M1400.4 236.9l16.8 -0.4l8.4 14.4l16.8 -0.3l8.4 -14.7l-8.4 -14.4l8.4 -14.7l-8.4 -14.3M1400.4 265.9l16.8 -0.3l8.4 -14.7M1400.4 294.9l16.9 -0.3l8.4 -14.7l16.8 -0.3l8.4 -14.7l16.8 -0.3l8.4 -14.7l16.8 -0.3l8.4 -14.7l-8.4 -14.4l-16.8 0.4l-8.4 -14.4l8.4 -14.7l16.8 -0.3l8.4 -14.7l-8.4 -14.3l8.4 -14.7l16.8 -0.3l8.4 14.3l16.9 -0.3l8.4 -14.7l16.8 -0.3l8.4 14.4l16.9 -0.3M1400.5 324l16.8 -0.3l8.4 14.3l16.8 -0.3l8.4 -14.7l-8.4 -14.4l8.4 -14.6l-8.4 -14.4M1400.5 353l16.8 -0.3l8.4 -14.7M1400.5 382.1l16.9 -0.4l8.3 -14.7l16.9 -0.3l8.4 -14.7l16.8 -0.3l8.4 -14.7l16.8 -0.3l8.4 -14.7l16.8 -0.3l8.4 -14.7l-8.4 -14.3l-16.8 0.3l-8.5 -14.4l-16.8 0.3l-8.4 -14.3M1400.9 643.4l16.7 -0.3l8.5 14.3l16.7 -0.3l8.4 -14.7l-8.4 -14.3l8.4 -14.7l-8.4 -14.4M1400.9 672.5l16.8 -0.4l8.4 -14.7M1400.9 701.5l16.8 -0.3l8.4 -14.7l16.8 -0.3l8.3 -14.7l16.8 -0.4l8.4 -14.6l-8.4 -14.4l-16.8 0.3M1401 730.5l16.7 -0.3l8.4 14.4l16.8 -0.4l8.4 -14.6l-8.4 -14.4l8.4 -14.7l-8.4 -14.3M1401 759.6l16.8 -0.3l8.3 -14.7M1401 788.6l16.8 -0.3l8.4 -14.7l16.8 -0.3l8.3 -14.7l16.8 -0.3l8.4 -14.7l16.8 -0.3l8.3 -14.7l-8.4 -14.4l8.4 -14.7l-8.4 -14.3l-16.8 0.3l-8.4 -14.4M1401.3 1050l16.8 -0.3l8.4 14.3l16.7 -0.3l8.4 -14.7M1401.4 1079l16.7 -0.3l8.4 -14.7M1401.4 1108.1l16.8 -0.4l8.3 -14.7l16.8 -0.3l8.3 -14.7l-8.4 -14.3M1401.5 1137.1l16.7 -0.3l8.4 14.3l16.7 -0.3l8.4 -14.7l-8.4 -14.3l8.3 -14.7l-8.3 -14.4M1401.5 1166.1l16.7 -0.3l8.4 -14.7M1417.1 178.5l8.5 14.3M1417.2 207.5l8.4 14.3l16.8 -0.3M1417.2 236.5l8.4 -14.7M1417.2 265.6l8.5 14.3M1417.3 294.6l8.4 14.4l16.8 -0.4M1417.3 323.7l8.4 -14.7M1417.3 352.7l8.4 14.3M1417.4 381.7l8.4 14.4l16.8 -0.3l8.4 14.3l16.8 -0.3l8.4 -14.7l-8.4 -14.4l8.4 -14.6l-8.4 -14.4M1417.4 410.8l8.4 -14.7M1417.4 439.8l8.4 14.4l16.8 -0.4l8.4 -14.6l16.8 -0.4l8.4 -14.7l16.8 -0.3l8.4 -14.7l16.9 -0.3l8.3 -14.7l16.9 -0.3l8.4 -14.6l-8.4 -14.4l-16.9 0.3l-8.4 14.7l8.4 14.3M1417.4 468.9l8.4 -14.7M1417.5 526.9l8.4 14.4l16.8 -0.3l8.4 -14.7l16.8 -0.4l8.4 -14.6l16.8 -0.4l8.4 -14.6l16.8 -0.4l8.4 -14.6l16.8 -0.4l8.4 -14.6l16.8 -0.3l8.4 -14.7l-8.4 -14.4l8.4 -14.7l-8.4 -14.3l8.4 -14.7l-8.4 -14.4l8.4 -14.6l-8.4 -14.4l8.4 -14.7l-8.4 -14.3l8.4 -14.7l16.8 -0.3l8.4 -14.7l16.8 -0.3M1417.5 556l8.4 -14.7M1417.6 585l8.4 14.4M1417.6 614.1l8.4 14.3l16.8 -0.3M1417.6 643.1l8.4 -14.7M1417.7 672.1l8.4 14.4M1417.7 701.2l8.4 14.3l16.8 -0.3M1417.7 730.2l8.4 -14.7M1417.8 759.3l8.4 14.3M1417.8 788.3l8.4 14.3l16.8 -0.3l8.4 14.4l-8.4 14.7l-16.8 0.3M1417.8 817.3l8.4 -14.7M1417.9 846.4l8.4 14.3l16.7 -0.3l8.4 -14.7l16.8 -0.3l8.3 -14.7l16.8 -0.3l8.4 -14.7l16.8 -0.3l8.3 -14.7l-8.4 -14.4l-16.7 0.4l-8.4 -14.4l-16.8 0.3l-8.4 -14.3M1417.9 875.4l8.4 -14.7M1418 933.5l8.4 14.3l16.7 -0.3l8.4 -14.7l16.7 -0.3M1418 962.5l8.4 -14.7M1418.1 1020.6l8.4 14.4l16.7 -0.4M1418.1 1049.7l8.4 -14.7M1418.1 1078.7l8.4 14.3M1418.2 1107.7l8.3 14.4l16.8 -0.3M1418.2 1136.8l8.3 -14.7M1418.2 1165.8l8.4 14.4M1425.8 425.1l16.8 -0.3l8.4 -14.7M1425.9 483.2l16.8 -0.3l8.4 14.3l16.8 -0.3l8.4 -14.7l-8.4 -14.3l8.4 -14.7l-8.5 -14.4M1425.9 512.2l16.8 -0.3l8.4 -14.7M1426.3 889.8l16.8 -0.4l8.4 14.4l16.7 -0.3l8.4 -14.7l-8.4 -14.4l8.4 -14.7l-8.4 -14.3M1426.3 918.8l16.8 -0.3l8.4 -14.7M1426.4 976.9l16.7 -0.3l8.4 14.3l-8.3 14.7l-16.8 0.3M1442.4 163.4l8.4 -14.6l16.8 -0.4l8.4 14.4l16.9 -0.3M1442.4 250.6l8.5 14.3M1442.5 337.7l8.5 14.3M1442.6 366.7l8.4 14.4l16.8 -0.4M1442.6 395.8l8.4 -14.7M1442.6 424.8l8.4 14.4M1442.6 453.8l8.5 14.4l16.8 -0.3M1442.7 482.9l8.4 -14.7M1442.7 511.9l8.4 14.4M1442.7 541l8.4 14.3l16.8 -0.3l8.4 14.3l16.8 -0.3l8.4 14.4l16.8 -0.3l8.4 -14.7l16.8 -0.3l8.4 -14.7l-8.4 -14.4l-16.8 0.3l-8.4 14.7l8.4 14.4M1442.8 570l8.3 -14.7M1442.8 657.1l8.4 14.4M1442.9 744.2l8.4 14.4M1443 773.3l8.4 14.3l16.7 -0.3l8.4 -14.7M1443 802.3l8.4 -14.7M1443 831.4l8.4 14.3M1443 860.4l8.4 14.4l-8.3 14.6M1443.1 918.5l8.4 14.3M1443.1 947.5l8.4 14.4l16.8 -0.4M1443.1 976.6l8.4 -14.7M1443.2 1005.6l8.4 14.4M1443.3 1150.8l8.4 14.4M1443.3 1179.8l8.4 14.4l16.8 -0.3l8.3 -14.7l-8.4 -14.4M1450.8 177.8l16.8 -0.3l8.4 -14.7M1450.8 206.8l16.9 -0.3M1450.8 235.9l16.9 -0.4l8.4 14.4M1450.9 294l16.8 -0.4l8.4 -14.7M1450.9 323l16.8 -0.3l8.5 14.3M1451.2 584.4l16.8 -0.4l8.3 -14.7M1451.2 613.4l16.8 -0.3l8.4 -14.7l16.8 -0.3l8.3 -14.7M1451.3 700.5l16.8 -0.3l8.3 -14.7M1451.3 729.6l16.8 -0.4l8.4 14.4M1451.4 816.7l16.7 -0.4l8.4 14.4M1451.4 874.8l16.8 -0.4M1451.5 990.9l16.8 -0.3M1451.6 1078l16.8 -0.3l8.3 -14.7M1451.6 1107.1l16.8 -0.4M1451.7 1136.1l16.7 -0.3l8.4 14.3M1467.6 177.5l8.5 14.3M1467.7 235.5l8.4 -14.6M1467.7 293.6l8.4 14.4l16.9 -0.3l8.4 -14.7M1467.7 322.7l8.4 -14.7M1467.8 409.8l8.4 14.3M1467.9 496.9l8.4 14.4M1467.9 525.9l8.4 14.4l-8.4 14.7M1468 584l8.4 14.4M1468 613.1l8.4 14.3l16.8 -0.3l8.4 14.4l-8.4 14.6l-16.8 0.4M1468 642.1l8.4 -14.7M1468.1 700.2l8.4 14.3l-8.4 14.7M1468.1 787.3l8.4 14.4l-8.4 14.6M1468.2 903.5l8.4 14.3M1468.3 1019.6l8.4 14.4l16.7 -0.3l8.4 14.3l-8.3 14.7M1468.3 1048.7l8.4 -14.7M1468.4 1077.7l8.3 14.4M1468.4 1135.8l8.4 -14.7M1476.2 366.1l16.8 -0.4l8.4 14.4l16.8 -0.3M1476.2 395.1l16.8 -0.3l8.4 14.3M1476.3 453.2l16.8 -0.3l8.4 14.3l16.8 -0.3l8.4 -14.7l-8.4 -14.3l8.4 -14.7l-8.4 -14.4M1476.3 482.2l16.8 -0.3l8.4 -14.7M1476.3 540.3l16.8 -0.3l8.4 14.3l-8.4 14.7M1476.5 714.5l16.7 -0.3M1476.5 801.7l16.8 -0.4l8.4 -14.6M1476.6 859.7l16.7 -0.3l8.4 14.4l16.8 -0.3l8.4 -14.7l-8.4 -14.4l8.4 -14.7l-8.4 -14.3M1476.6 888.8l16.8 -0.3l8.3 -14.7M1476.6 946.9l16.8 -0.4l8.4 -14.6l-8.4 -14.4M1476.7 975.9l16.7 -0.3l8.4 -14.7l-8.4 -14.4M1476.7 1004.9l16.7 -0.3l8.4 -14.7l16.7 -0.3l8.4 -14.7l16.8 -0.3l8.3 -14.6l16.8 -0.4l8.4 -14.6l16.7 -0.3l8.4 -14.7l-8.4 -14.4l-16.7 0.3l-8.4 -14.3l8.4 -14.7l-8.4 -14.4M1476.8 1179.2l16.7 -0.3l8.4 14.3l16.8 -0.3l8.3 -14.7l-8.4 -14.3l8.4 -14.7l16.7 -0.3l8.4 -14.7l16.7 -0.3l8.4 -14.7l16.7 -0.3l8.4 14.4l16.8 -0.3l8.3 14.3l-8.3 14.7l-16.8 0.3l-8.3 -14.4l8.3 -14.6M1492.9 191.5l8.4 14.4l16.8 -0.4l8.5 14.4l16.8 -0.3l8.4 -14.7l-8.4 -14.4l8.4 -14.6l16.8 -0.3l8.4 -14.7M1492.9 220.5l8.4 -14.6M1492.9 249.6l8.5 14.3l16.8 -0.3l8.4 -14.7l16.8 -0.3l8.4 -14.6l16.8 -0.4l8.5 -14.6l16.8 -0.3M1492.9 278.6l8.5 -14.7M1493 307.7l8.4 14.3M1493 336.7l8.4 14.4l16.8 -0.4l8.4 14.4M1493 365.7l8.4 -14.6M1493 394.8l8.4 -14.7M1493 423.8l8.5 14.4l16.8 -0.3M1493.1 452.9l8.4 -14.7M1493.1 481.9l8.4 14.4M1493.1 510.9l8.4 14.4l16.8 -0.3l8.4 14.3M1493.1 540l8.4 -14.7M1493.2 598.1l8.4 14.3l16.8 -0.3l8.4 14.4l16.7 -0.4l8.4 -14.6l-8.4 -14.4l8.4 -14.7l-8.4 -14.3M1493.2 627.1l8.4 -14.7M1493.2 656.1l8.4 14.4l16.8 -0.3l8.4 -14.7l16.8 -0.3l8.3 -14.7l16.8 -0.3M1493.2 685.2l8.4 -14.7M1493.3 743.3l8.4 14.3l16.7 -0.3l8.4 -14.7l16.8 -0.3l8.4 -14.7l16.8 -0.3M1493.3 772.3l8.4 -14.7M1493.3 801.3l8.4 14.4M1493.3 830.4l8.4 14.3l16.8 -0.3M1493.3 859.4l8.4 -14.7M1493.4 888.5l8.3 14.3M1493.4 975.6l8.4 14.3M1493.4 1004.6l8.4 14.4l16.8 -0.3l8.3 14.3l16.8 -0.3l8.4 -14.7l-8.4 -14.3l8.4 -14.7l-8.4 -14.4M1493.4 1033.7l8.4 -14.7M1493.5 1091.7l8.4 14.4l16.7 -0.3l8.4 -14.7l-8.4 -14.4l8.4 -14.6l16.7 -0.4l8.4 -14.6l16.7 -0.3l8.4 -14.7l16.7 -0.3l8.4 -14.7l-8.4 -14.4l-16.7 0.3l-8.4 -14.3l8.4 -14.7l-8.4 -14.4M1493.5 1120.8l8.4 -14.7M1493.5 1149.8l8.4 14.4l16.7 -0.3M1493.5 1178.9l8.4 -14.7M1501.3 176.8l16.8 -0.3l8.4 -14.7M1501.3 234.9l16.9 -0.3l8.4 -14.7M1501.5 554.3l16.8 -0.3M1501.6 641.5l16.8 -0.4l8.4 -14.6M1501.6 699.5l16.8 -0.3l8.4 14.4l-8.4 14.7l8.4 14.3M1501.6 728.6l16.8 -0.3M1501.8 931.9l16.7 -0.4l8.4 -14.6l-8.4 -14.4M1501.8 960.9l16.7 -0.3l8.4 -14.7l-8.4 -14.4M1501.8 1048l16.8 -0.3l8.3 -14.7M1501.8 1077.1l16.8 -0.4M1501.9 1135.1l16.7 -0.3l8.4 14.4M1518.1 176.5l8.5 14.4l16.8 -0.4M1518.1 205.5l8.5 -14.6M1518.2 234.6l8.4 14.3M1518.2 263.6l8.4 14.4l16.8 -0.3l8.4 14.3l16.9 -0.3l8.4 14.4M1518.2 292.7l8.4 -14.7M1518.2 321.7l8.4 14.4l-8.4 14.6M1518.3 466.9l8.4 14.4M1518.3 495.9l8.4 14.4l16.8 -0.3l8.4 -14.7l-8.4 -14.4M1518.3 525l8.4 -14.7M1518.3 583.1l8.4 14.3l16.8 -0.3M1518.4 612.1l8.3 -14.7M1518.4 641.1l8.4 14.4M1518.4 670.2l8.4 14.3l16.8 -0.3l8.4 14.4l16.7 -0.3l8.4 14.3M1518.4 699.2l8.4 -14.7M1518.4 757.3l8.4 14.4l-8.4 14.6M1518.5 873.5l8.4 14.3M1518.5 960.6l8.4 14.3M1518.5 989.6l8.4 14.4l16.8 -0.3M1518.6 1018.7l8.3 -14.7M1518.6 1047.7l8.4 14.4M1518.6 1105.8l8.4 14.3l-8.4 14.7M1526.6 307l16.8 -0.3l8.4 -14.7M1526.6 336.1l16.8 -0.4l8.4 -14.6l16.9 -0.3M1526.7 423.2l16.8 -0.3l8.4 -14.7l-8.4 -14.4M1526.7 452.2l16.8 -0.3l8.4 14.4M1526.8 713.6l16.8 -0.3l8.4 -14.7M1526.8 771.7l16.8 -0.4l8.4 14.4l16.8 -0.3M1526.8 800.7l16.8 -0.3l8.4 -14.7M1526.9 829.7l16.7 -0.3l8.4 -14.6l16.8 -0.4M1526.9 858.8l16.7 -0.3l8.4 14.3M1526.9 916.9l16.8 -0.4l8.3 -14.6l-8.4 -14.4M1526.9 945.9l16.8 -0.3l8.3 14.4M1527 1091.1l16.7 -0.3l8.4 14.4l16.7 -0.4l8.4 14.4M1527 1120.1l16.7 -0.3l8.4 -14.6M1527 1178.2l16.7 -0.3l8.4 -14.7l-8.4 -14.3M1543.4 161.5l8.4 14.4M1543.4 219.6l8.4 14.4M1543.4 248.6l8.4 14.4l-8.4 14.7M1543.4 306.7l8.4 14.4M1543.4 335.7l8.5 14.4l-8.4 14.7M1543.5 422.9l8.4 14.3l-8.4 14.7M1543.5 510l8.4 14.4l16.8 -0.4l8.4 14.4M1543.5 539l8.4 -14.6M1543.5 626.1l8.4 14.4M1543.6 655.2l8.4 14.4l-8.4 14.6M1543.6 713.3l8.4 14.3M1543.6 742.3l8.4 14.4l16.8 -0.3M1543.6 771.3l8.4 -14.6M1543.6 800.4l8.4 14.4M1543.6 829.4l8.4 14.4l-8.4 14.7M1543.7 916.5l8.3 14.4l-8.3 14.7M1543.7 1032.7l8.4 14.4M1543.7 1061.7l8.4 14.4l16.7 -0.3l8.4 -14.7l-8.4 -14.3M1543.7 1090.8l8.4 -14.7M1543.7 1119.8l8.4 14.4M1551.8 204.9l16.8 -0.3l8.5 14.4M1551.8 263l16.9 -0.3l8.4 -14.7l-8.5 -14.4M1551.9 350.1l16.8 -0.3M1551.9 379.2l16.8 -0.4M1551.9 408.2l16.8 -0.3M1551.9 437.2l16.8 -0.3M1551.9 495.3l16.8 -0.3l8.4 -14.7l-8.4 -14.3M1551.9 553.4l16.8 -0.3M1551.9 582.4l16.8 -0.3l8.4 -14.7M1551.9 611.5l16.8 -0.3l8.4 14.3M1552 669.6l16.7 -0.4l8.4 -14.6M1552 843.8l16.8 -0.3M1552 901.9l16.8 -0.3M1552 930.9l16.8 -0.3l8.4 14.4M1552.1 989l16.7 -0.3M1552.1 1018l16.7 -0.3l8.4 14.4M1552.1 1163.2l16.7 -0.3l8.4 14.4l16.8 -0.3l8.3 -14.7M1568.6 175.6l8.5 14.3l16.8 -0.3M1568.6 204.6l8.5 -14.7M1568.7 262.7l8.4 14.3l16.8 -0.3l8.4 -14.6M1568.7 291.7l8.4 -14.7M1568.7 495l8.4 14.4l16.8 -0.3l8.4 14.3l-8.4 14.7M1568.7 524l8.4 -14.6M1568.7 582.1l8.4 14.4l16.8 -0.3M1568.7 611.2l8.4 -14.7M1568.7 669.2l8.4 14.4l16.8 -0.3l8.4 -14.7M1568.7 698.3l8.4 -14.7M1568.8 930.6l8.4 -14.7M1568.8 1017.7l8.4 -14.7M1568.8 1075.8l8.4 14.4l16.7 -0.3l8.4 14.3l-8.4 14.7M1568.8 1104.8l8.4 -14.6M1568.8 1133.9l8.4 14.3l16.8 -0.3M1568.8 1162.9l8.4 -14.7M1577.1 248l16.8 -0.3M1577.1 335.1l16.8 -0.3l8.4 14.4l16.8 -0.3l8.4 -14.7M1577.1 364.2l16.8 -0.3l8.4 14.3l16.8 -0.3M1577.1 393.2l16.8 -0.3l8.4 -14.7M1577.1 422.2l16.8 -0.3l8.4 14.4l16.8 -0.3l8.4 -14.7M1577.1 451.3l16.8 -0.3l8.4 -14.7M1577.1 480.3l16.8 -0.3l8.4 -14.7l16.8 -0.3l8.4 -14.6l16.8 -0.3M1577.1 741.7l16.8 -0.3l8.4 14.3l16.8 -0.3l8.4 -14.6l-8.4 -14.4l-16.8 0.3l-8.4 -14.4M1577.1 770.7l16.8 -0.3l8.4 -14.7M1577.2 799.8l16.7 -0.3l8.4 -14.7l16.8 -0.3l8.4 -14.7l-8.4 -14.4M1577.2 828.8l16.7 -0.3l8.4 14.4l16.8 -0.3l8.4 -14.7l-8.4 -14.4l8.4 -14.6l-8.4 -14.4M1577.2 857.8l16.7 -0.3l8.4 -14.6M1577.2 886.9l16.7 -0.3l8.4 -14.7l16.8 -0.3l8.4 -14.7l-8.4 -14.3M1577.2 974l16.7 -0.3l8.4 -14.7l-8.4 -14.3M1577.2 1061.1l16.7 -0.3l8.4 -14.7l-8.4 -14.3M1593.9 276.7l8.4 14.4M1593.9 305.8l8.4 14.3l16.8 -0.3M1593.9 334.8l8.4 -14.7M1593.9 363.9l8.4 -14.7M1593.9 392.9l8.4 14.4l16.8 -0.3M1593.9 421.9l8.4 -14.6M1593.9 451l8.4 14.3M1593.9 480l8.4 14.4l16.8 -0.3l8.4 14.4l16.8 -0.3M1593.9 509.1l8.4 -14.7M1593.9 567.1l8.4 -14.6M1593.9 625.2l8.4 14.4l16.8 -0.3l8.4 -14.7l-8.4 -14.4l8.4 -14.6l-8.4 -14.4l-16.8 0.3M1593.9 654.3l8.4 -14.7M1593.9 683.3l8.4 14.4M1593.9 741.4l8.4 -14.7M1593.9 770.4l8.4 14.4M1593.9 799.5l8.4 14.3l16.8 -0.3M1593.9 828.5l8.4 -14.7M1593.9 857.5l8.4 14.4M1593.9 886.6l8.4 14.3l16.8 -0.3l8.4 -14.6l-8.4 -14.4M1593.9 915.6l8.4 -14.7M1593.9 973.7l8.4 14.4l16.8 -0.3l8.3 14.3l-8.3 14.7l-16.8 0.3M1593.9 1002.7l8.4 -14.6M1593.9 1060.8l8.4 14.4l16.8 -0.3l8.3 14.4l-8.3 14.6l-16.8 0.3M1593.9 1089.9l8.4 -14.7M1602.3 174.9l16.8 -0.3l8.4 14.4M1602.3 204l16.8 -0.3M1602.3 233l16.8 -0.3l8.4 -14.6M1602.3 523.4l16.8 -0.3l8.4 14.4M1602.3 610.5l16.8 -0.3M1602.3 930l16.8 -0.3l8.4 -14.7l-8.4 -14.4M1602.3 959l16.8 -0.3l8.4 -14.6l-8.4 -14.4M1602.3 1046.1l16.8 -0.3l8.3 -14.6l-8.3 -14.4M1619.1 174.6l8.5 -14.6M1619.1 232.7l8.4 14.4l16.9 -0.3l8.4 14.4l-8.4 14.6l-16.9 0.3M1619.1 261.8l8.4 -14.7M1619.1 348.9l8.4 14.4M1619.1 436l8.4 14.4M1619.1 465l8.4 14.4l16.8 -0.3M1619.1 494.1l8.4 -14.7M1619.1 523.1l8.4 -14.6M1619.1 552.2l8.4 14.3l16.8 -0.3l8.4 14.4l-8.4 14.7l-16.8 0.3M1619.1 581.2l8.4 -14.7M1619.1 639.3l8.4 14.4l-8.4 14.6M1619.1 697.4l8.4 14.3l-8.4 14.7M1619.1 958.7l8.3 14.4l-8.3 14.7M1619.1 1045.8l8.3 14.4l-8.3 14.7M1619.1 1103.9l8.3 14.4l-8.3 14.7M1627.5 305.2l16.9 -0.3l8.4 -14.7l-8.4 -14.4M1627.5 392.3l16.8 -0.3l8.4 -14.7l-8.4 -14.3M1644.4 217.8l8.4 14.3l-8.4 14.7M1644.4 304.9l8.4 14.3l-8.5 14.7M1644.3 392l8.4 14.4l-8.4 14.6M1644.3 537.2l8.4 14.4l-8.4 14.6"/>
</defs>
<rect width="3570" height="3322" fill="#fff"/>
<text x="1785" y="68" font-size="50.9" text-anchor="middle" textLength="745" lengthAdjust="spacingAndGlyphs">Median Rent, Regular Hexgrid</text>
<text x="896.5" y="291.9" font-size="50.9" text-anchor="middle" textLength="127.2" lengthAdjust="spacingAndGlyphs">1990</text>
<g transform="translate(30,317)" clip-path="url(#cp)">
<use href="#base"/>
<g fill-opacity="0.7">
<path fill="#f7fcf5" d="M513.7 1071.4l-16.7 0.5l-8.5 -14.3l-16.8 0.5l-8.2 14.7l8.4 14.3l-8.2 14.8l-16.8 0.5l-8.5 -14.3l8.3 -14.8l-8.5 -14.3l8.3 -14.7l16.8 -0.5l8.3 -14.8l16.7 -0.4l8.3 -14.8l16.7 -0.5l8.5 14.3l-8.3 14.8l8.5 14.2l16.7 -0.4l8.5 14.3l16.8 -0.5l8.4 14.3l16.8 -0.5l8.4 14.3l-8.3 14.8l-16.7 0.4l-8.5 -14.3l-16.7 0.5l-8.5 -14.3l-16.7 0.5z"/>
<path fill="#c7e9c0" d="M915.4 1002.7l8.3 -14.7l16.8 -0.4l8.3 -14.7l16.8 -0.4l8.4 14.3l16.8 -0.4l8.4 14.3l16.7 -0.4l8.5 14.3l-8.4 14.8l8.5 14.3l-8.4 14.7l8.5 14.3l16.7 -0.4l8.4 14.3l-8.3 14.8l8.4 14.3l-8.3 14.7l-16.7 0.4l-8.4 14.7l8.5 14.3l-8.3 14.8l-16.8 0.3l-8.3 14.8l-16.7 0.4l-8.3 14.7l8.4 14.3l-8.3 14.7l-16.8 0.4l-8.3 14.8l-16.7 0.4l-8.4 -14.4l-16.8 0.5l-8.3 14.7l-16.7 0.4l-8.4 -14.3l-16.8 0.4l-8.4 -14.3l-16.7 0.4l-8.4 -14.3l-16.8 0.4l-8.4 -14.3l8.3 -14.7l-8.5 -14.3l8.3 -14.7l16.8 -0.5l8.4 14.3l16.8 -0.4l8.3 -14.7l16.7 -0.4l8.3 -14.8l16.7 -0.4l8.4 -14.7l-8.5 -14.3l8.3 -14.7l16.8 -0.5l8.3 -14.7l-8.4 -14.3l8.3 -14.7l-8.5 -14.3l-16.7 0.4l-8.4 -14.3l8.3 -14.8zM1350.1 412.1l-8.3 14.7l8.4 14.4l-8.4 14.7l-16.8 0.3l-8.4 14.7l-16.8 0.3l-8.4 -14.3l8.4 -14.7l16.8 -0.3l8.3 -14.7l-8.4 -14.4l-16.8 0.4l-8.4 -14.4l8.4 -14.7l-8.5 -14.3l8.4 -14.7l-8.4 -14.4l8.4 -14.7l-8.5 -14.3l-16.8 0.4l-8.4 -14.4l8.3 -14.7l16.9 -0.3l8.4 14.3l16.8 -0.3l8.5 14.3l-8.4 14.7l8.4 14.3l-8.4 14.7l8.5 14.4l-8.4 14.7l8.4 14.3l16.8 -0.3l8.4 -14.7l-8.4 -14.4l8.4 -14.7l-8.5 -14.3l8.4 -14.7l16.8 -0.3l8.5 14.3l-8.4 14.7l8.4 14.4l-8.4 14.6l8.4 14.4l-8.3 14.7zM1417.7 701.2l-16.8 0.3l-8.4 -14.3l-16.8 0.3l-8.4 -14.4l8.4 -14.6l16.8 -0.4l8.4 14.4l16.8 -0.4l8.4 14.4l16.8 -0.3l8.4 14.3l16.8 -0.3l8.4 14.3l16.7 -0.3l8.4 14.4l-8.3 14.7l-16.8 0.3l-8.4 -14.4l-16.8 0.4l-8.4 -14.4l-16.8 0.3zM1493.3 859.4l8.4 -14.7l16.8 -0.3l8.4 14.4l16.7 -0.3l8.4 14.3l-8.4 14.7l-16.7 0.3l-8.4 14.7l-16.8 0.3l-8.3 -14.3l-16.8 0.3l-8.4 -14.4l8.4 -14.7zM1426.2 773.6l-8.4 14.7l-16.8 0.3l-8.4 -14.3l8.4 -14.7l16.8 -0.3zM736 324.7l-16.8 0.5l-8.5 -14.3l-16.8 0.4l-8.3 14.8l-16.9 0.4l-8.4 -14.3l-16.9 0.5l-8.5 -14.3l-16.8 0.4l-8.3 14.8l8.5 14.3l-8.3 14.7l-16.9 0.5l-8.5 -14.3l-16.8 0.4l-8.5 -14.2l-16.8 0.4l-8.5 -14.3l8.3 -14.7l16.8 -0.5l8.4 -14.7l-8.5 -14.3l8.3 -14.8l16.8 -0.4l8.3 -14.8l-8.5 -14.3l8.4 -14.7l-8.5 -14.3l8.3 -14.8l16.8 -0.4l8.4 -14.8l16.8 -0.4l8.5 14.3l16.8 -0.5l8.5 14.3l-8.3 14.8l8.5 14.3l16.8 -0.5l8.5 14.3l-8.3 14.7l8.5 14.3l16.8 -0.4l8.5 14.3l16.8 -0.4l8.5 14.3l16.8 -0.5l8.5 14.3l16.9 -0.4l8.4 14.3l16.9 -0.4l8.4 14.3l16.9 -0.4l8.4 14.3l16.8 -0.4l8.5 14.3l-8.3 14.7l-16.8 0.4l-8.4 14.7l-16.8 0.5l-8.5 -14.3l-16.8 0.4l-8.3 14.7l-16.8 0.4l-8.5 -14.3l8.3 -14.7l-8.5 -14.3l-16.8 0.4zM339.8 205.1l16.8 -0.5l8.3 -14.8l16.8 -0.5l8.6 14.3l16.8 -0.5l8.5 14.3l-8.3 14.7l8.5 14.3l-8.3 14.8l8.5 14.2l-8.3 14.8l8.5 14.3l-8.3 14.7l-16.8 0.5l-8.3 14.8l8.5 14.3l-8.3 14.7l-16.8 0.5l-8.3 14.8l-16.8 0.5l-8.3 14.8l-16.9 0.5l-8.3 14.7l-16.8 0.5l-8.3 14.8l-16.8 0.5l-8.5 -14.2l8.3 -14.8l-8.5 -14.3l-16.8 0.5l-8.6 -14.2l8.3 -14.8l-8.5 -14.3l-16.8 0.5l-8.5 -14.2l-16.9 0.5l-8.5 -14.3l8.3 -14.7l-8.5 -14.3l-16.9 0.5l-8.5 -14.2l-16.8 0.5l-8.6 -14.3l8.3 -14.7l-8.5 -14.3l-16.9 0.5l-8.5 -14.2l-16.8 0.5l-8.6 -14.2l8.3 -14.8l-8.5 -14.3l8.2 -14.8l16.9 -0.5l8.3 -14.8l16.8 -0.5l8.3 -14.8l16.9 -0.5l8.3 -14.8l16.8 -0.5l8.5 14.2l16.9 -0.5l8.3 -14.8l16.8 -0.5l8.6 14.3l16.8 -0.5l8.5 14.2l16.9 -0.5l8.5 14.3l-8.3 14.8l8.5 14.2l16.9 -0.5l8.3 -14.8l16.8 -0.5l8.6 14.3l-8.4 14.8zM746.3 687.5l-8.3 14.8l-16.8 0.4l-8.3 14.7l-16.8 0.5l-8.5 -14.3l8.3 -14.8l16.8 -0.4l8.3 -14.7l16.8 -0.5zM1324.5 165.8l-8.4 14.7l-16.8 0.3l-8.5 -14.3l8.4 -14.7l16.9 -0.3zM1501.4 409.1l-8.4 14.7l8.5 14.4l-8.4 14.7l-16.8 0.3l-8.5 -14.4l8.4 -14.7l-8.4 -14.3l8.4 -14.7l16.8 -0.3zM1198.4 212l-8.4 14.7l-16.9 0.4l-8.4 -14.3l8.4 -14.7l16.8 -0.4zM1652.8 290.2l-8.4 14.7l-16.9 0.3l-8.4 -14.4l8.4 -14.7l16.9 -0.3zM1476.3 569.3l-8.3 14.7l-16.8 0.4l-8.4 -14.4l8.3 -14.7l16.8 -0.3l8.4 -14.7l16.8 -0.3l8.4 14.3l-8.4 14.7zM1450.9 264.9l-8.4 14.7l-16.8 0.3l-8.5 -14.3l8.4 -14.7l16.8 -0.3zM1627.5 711.7l-8.4 14.7l-16.8 0.3l-8.4 14.7l8.4 14.3l16.8 -0.3l8.4 14.4l-8.4 14.7l-16.8 0.3l-8.4 -14.4l-16.8 0.3l-8.3 -14.3l8.3 -14.7l-8.3 -14.4l-16.8 0.3l-8.4 -14.3l8.4 -14.7l16.7 -0.3l8.4 14.3l16.8 -0.3l8.4 -14.6l16.8 -0.3zM1325.6 804.7l-8.4 14.7l-16.8 0.3l-8.4 -14.3l8.4 -14.7l16.8 -0.4zM1602.3 552.5l-8.4 14.6l-16.8 0.3l-8.4 14.7l-16.8 0.3l-8.4 -14.3l8.4 -14.7l16.8 -0.3l8.4 -14.7l16.8 -0.3zM1425.8 454.2l-8.4 14.7l-16.8 0.3l-8.4 -14.4l8.4 -14.7l16.8 -0.3l8.4 -14.7l16.8 -0.3l8.4 14.4l-8.4 14.6zM1325.1 514.3l-8.4 14.7l-16.8 0.3l-8.4 -14.3l8.4 -14.7l16.8 -0.4zM1602.3 930l-8.4 14.7l-16.7 0.3l-8.4 -14.4l8.4 -14.7l16.7 -0.3zM1577.1 625.5l-8.4 14.7l-16.8 0.3l-8.4 -14.4l8.4 -14.6l16.8 -0.3l8.4 -14.7l16.8 -0.3l8.4 -14.7l16.8 -0.3l8.4 14.4l-8.4 14.6l-16.8 0.3l-8.4 14.7zM1375.8 745.6l-8.4 14.7l-16.7 0.3l-8.4 -14.3l8.3 -14.7l16.8 -0.4zM1652.8 348.3l-8.5 14.7l-16.8 0.3l-8.4 -14.4l8.4 -14.7l16.8 -0.3zM1400.3 207.8l-8.4 14.7l-16.8 0.4l-8.4 -14.4l8.4 -14.7l16.8 -0.3zM1400.8 585.3l-8.4 14.7l-16.8 0.4l-8.4 -14.4l8.4 -14.7l16.8 -0.3zM1627.4 1031.2l-8.3 14.6l-16.8 0.3l-8.4 -14.3l-16.7 0.3l-8.4 -14.4l8.4 -14.7l16.7 -0.3l8.4 14.4l16.8 -0.3zM1526.6 278l-8.4 14.7l-16.8 0.3l-8.5 -14.4l8.5 -14.7l16.8 -0.3zM1627.5 450.4l-8.4 14.6l-16.8 0.3l-8.4 -14.3l-16.8 0.3l-8.4 -14.4l8.4 -14.7l16.8 -0.3l8.4 14.4l16.8 -0.3zM1451 381.1l-8.4 14.7l-16.8 0.3l-8.4 -14.4l8.3 -14.7l16.9 -0.3zM1526.6 365.1l-8.4 14.7l-16.8 0.3l-8.4 -14.4l8.4 -14.6l-8.4 -14.4l8.4 -14.7l16.8 -0.3l8.4 14.4l-8.4 14.6zM1223.5 167.9l-8.4 14.7l-16.8 0.4l-8.5 -14.3l8.4 -14.7l16.9 -0.4zM1442.8 657.1l-16.7 0.3l-8.5 -14.3l-16.7 0.3l-8.5 -14.3l8.4 -14.7l16.8 -0.3l8.4 14.3l16.8 -0.3l8.4 14.3l16.8 -0.3l8.4 14.4l16.8 -0.4l8.4 14.4l-8.4 14.7l-16.8 0.3l-8.4 -14.4l-16.8 0.4zM1350.8 847.7l-8.4 14.7l-16.7 0.4l-8.4 -14.4l8.3 -14.7l16.8 -0.3l8.4 -14.7l16.7 -0.4l8.4 14.4l-8.3 14.7zM1627.4 1089.3l-8.3 14.6l-16.8 0.3l-8.4 -14.3l8.4 -14.7l16.8 -0.3zM1552 669.6l-8.4 14.6l-16.8 0.3l-8.4 -14.3l8.4 -14.7l16.8 -0.3zM1350.4 557.3l-8.4 14.7l-16.8 0.4l-8.4 -14.4l8.3 -14.7l16.8 -0.3l8.4 -14.7l16.8 -0.4l8.4 14.4l-8.3 14.7zM1375.1 251.9l-8.4 14.7l-16.8 0.3l-8.4 -14.3l8.4 -14.7l16.8 -0.4zM1652.7 522.5l-8.4 14.7l-16.8 0.3l-8.4 -14.4l8.4 -14.6l16.8 -0.3zM1602.3 494.4l-8.4 14.7l-16.8 0.3l-8.4 -14.4l8.4 -14.7l16.8 -0.3zM1577.1 189.9l-8.5 14.7l-16.8 0.3l-8.4 -14.4l8.4 -14.6l16.8 -0.3zM1551.9 408.2l-8.4 14.7l-16.8 0.3l-8.4 -14.4l8.3 -14.7l16.9 -0.3zM1274.4 370.1l-8.4 14.7l-16.8 0.4l-8.4 -14.3l8.4 -14.7l16.8 -0.4zM572.1 1026.2l-8.3 14.8l8.4 14.2l-8.2 14.8l-16.8 0.5l-8.5 -14.3l-16.7 0.4l-8.5 -14.2l8.3 -14.8l16.8 -0.5l8.2 -14.7l16.8 -0.5zM1223.7 255.1l-8.4 14.7l-16.8 0.3l-8.5 -14.3l8.4 -14.7l16.9 -0.4zM1568.8 843.5l-16.8 0.3l-8.4 -14.4l8.4 -14.6l16.8 -0.4l8.4 14.4l16.7 -0.3l8.4 14.4l-8.4 14.6l-16.7 0.3zM496.6 1013.8l-8.3 14.8l-16.7 0.4l-8.5 -14.3l8.3 -14.7l16.7 -0.5zM1350.5 644.4l-8.4 14.7l-16.8 0.4l-8.4 -14.4l8.4 -14.7l16.8 -0.3zM1551.9 466.3l-8.4 14.6l-16.8 0.4l-8.4 -14.4l8.4 -14.7l16.8 -0.3zM1425.7 338l-8.4 14.7l-16.8 0.3l-8.4 -14.3l8.4 -14.7l16.8 -0.3zM1526.6 219.9l-8.4 14.7l-16.9 0.3l-8.4 -14.4l8.4 -14.6l16.8 -0.4zM1300.1 616.4l-8.4 14.7l-16.8 0.4l-8.4 -14.3l8.4 -14.7l16.8 -0.4zM1450.8 206.8l-8.4 14.7l-16.8 0.3l-8.4 -14.3l8.4 -14.7l16.8 -0.3z"/>
<path fill="#73c476" d="M1442.4 221.5l8.4 -14.7l-8.4 -14.3l-16.8 0.3l-8.4 14.7l8.4 14.3zM416.4 333.5l-8.3 14.8l-16.8 0.5l-8.5 -14.3l8.3 -14.8l16.8 -0.5zM1518.3 466.9l8.4 14.4l16.8 -0.4l8.4 -14.6l-8.4 -14.4l-16.8 0.3zM1016.6 1174.6l8.3 -14.8l-8.5 -14.3l8.4 -14.7l16.7 -0.4l8.3 -14.7l-8.4 -14.3l8.3 -14.8l-8.4 -14.3l-16.7 0.4l-8.5 -14.3l8.4 -14.7l16.7 -0.4l8.3 -14.7l16.8 -0.4l8.3 -14.7l-8.4 -14.4l8.3 -14.7l16.8 -0.4l8.3 -14.7l16.8 -0.4l8.3 -14.7l16.8 -0.3l8.3 -14.7l16.8 -0.4l8.3 -14.7l-8.4 -14.4l8.3 -14.7l-8.4 -14.3l-16.7 0.4l-8.5 -14.4l8.4 -14.7l-8.4 -14.3l8.3 -14.7l-8.4 -14.3l-16.8 0.3l-8.4 -14.3l-16.8 0.4l-8.3 14.7l-16.8 0.4l-8.3 14.7l-16.8 0.4l-8.4 14.7l-16.7 0.4l-8.4 14.7l-16.7 0.4l-8.5 -14.3l8.4 -14.7l-8.5 -14.4l-16.7 0.4l-8.4 14.8l-16.7 0.4l-8.5 -14.3l-16.8 0.4l-8.4 -14.4l8.3 -14.7l16.8 -0.4l8.3 -14.7l16.8 -0.4l8.3 -14.7l-8.4 -14.4l8.3 -14.7l16.8 -0.4l8.4 -14.7l-8.5 -14.3l8.3 -14.7l-8.4 -14.4l8.3 -14.7l-8.4 -14.3l8.3 -14.7l-8.4 -14.3l8.3 -14.8l-8.4 -14.3l8.3 -14.7l-8.4 -14.3l-16.8 0.4l-8.5 -14.3l-16.8 0.4l-8.3 14.7l-16.8 0.4l-8.5 -14.3l-16.8 0.4l-8.4 -14.3l-16.8 0.4l-8.4 14.7l-16.8 0.5l-8.3 14.7l-16.8 0.4l-8.5 -14.3l8.4 -14.7l-8.5 -14.3l8.3 -14.8l-8.4 -14.3l-16.8 0.4l-8.4 14.8l-16.8 0.4l-8.4 -14.3l-16.9 0.4l-8.4 -14.3l8.3 -14.7l-8.5 -14.3l-16.8 0.4l-8.5 -14.3l-16.8 0.5l-8.5 -14.3l8.4 -14.8l-8.5 -14.3l8.3 -14.7l-8.5 -14.3l8.4 -14.7l-8.5 -14.3l8.3 -14.8l16.8 -0.4l8.5 14.3l16.8 -0.5l8.5 14.3l16.8 -0.4l8.5 14.3l-8.3 14.7l8.5 14.3l16.8 -0.4l8.3 -14.7l16.8 -0.4l8.5 14.3l16.8 -0.5l8.4 -14.7l16.8 -0.4l8.3 -14.7l-8.5 -14.3l-16.8 0.4l-8.4 -14.3l-16.9 0.4l-8.4 -14.3l-16.9 0.4l-8.4 -14.3l-16.9 0.4l-8.5 -14.3l-16.8 0.5l-8.5 -14.3l-16.8 0.4l-8.5 -14.3l-16.8 0.4l-8.5 -14.3l8.3 -14.7l-8.5 -14.3l-16.8 0.5l-8.5 -14.3l8.3 -14.8l16.9 -0.4l8.3 -14.8l16.9 -0.4l8.5 14.3l16.8 -0.5l8.3 -14.7l16.9 -0.4l8.5 14.3l16.8 -0.5l8.3 -14.7l16.9 -0.4l8.5 14.3l16.8 -0.4l8.4 -14.8l16.8 -0.4l8.5 14.3l16.8 -0.4l8.4 -14.7l16.8 -0.4l8.5 14.3l16.8 -0.4l8.4 -14.7l16.8 -0.5l8.5 14.4l16.8 -0.4l8.4 -14.8l16.8 -0.3l8.5 14.3l16.8 -0.4l8.4 -14.7l16.8 -0.4l8.5 14.3l16.8 -0.4l8.4 -14.7l16.8 -0.4l8.5 14.4l16.8 -0.4l8.4 -14.7l16.8 -0.4l8.5 14.3l16.8 -0.3l8.5 14.3l16.8 -0.4l8.4 -14.7l16.8 -0.3l8.4 -14.7l16.9 -0.4l8.4 14.4l16.8 -0.4l8.5 14.3l16.8 -0.3l8.4 -14.7l16.9 -0.3l8.3 -14.7l16.9 -0.4l8.4 14.4l16.9 -0.4l8.4 -14.7l16.8 -0.3l8.4 14.4l16.9 -0.4l8.4 -14.6l16.8 -0.4l8.4 14.4l16.9 -0.3l8.4 -14.7l16.8 -0.3l8.4 14.3l16.9 -0.3l8.4 -14.7l16.8 -0.3l8.4 14.4l16.9 -0.3l8.4 -14.7l16.8 -0.3l8.5 14.4l16.8 -0.3l8.4 14.3l-8.4 14.7l8.4 14.4l-8.4 14.7l8.4 14.3l-8.4 14.7l8.4 14.4l-8.4 14.6l-16.9 0.3l-8.4 14.7l8.4 14.4l16.9 -0.3l8.4 14.3l-8.5 14.7l-16.8 0.3l-8.4 14.7l8.4 14.4l16.8 -0.3l8.4 14.3l-8.4 14.7l8.4 14.4l-8.4 14.6l8.4 14.4l-8.4 14.7l8.4 14.3l-8.4 14.7l8.4 14.4l-8.4 14.7l-16.8 0.3l-8.4 14.6l8.4 14.4l16.8 -0.3l8.4 14.4l-8.4 14.6l8.4 14.4l-8.4 14.7l-16.8 0.3l-8.4 -14.4l-16.8 0.3l-8.4 14.7l-16.8 0.3l-8.4 14.7l-16.8 0.3l-8.4 14.6l8.4 14.4l16.8 -0.3l8.4 -14.7l16.8 -0.3l8.4 -14.7l16.8 -0.3l8.4 14.4l-8.4 14.7l8.4 14.4l-8.4 14.6l8.4 14.4l-8.4 14.7l-16.8 0.3l-8.4 14.6l-16.8 0.3l-8.4 -14.3l-16.7 0.3l-8.4 14.7l8.4 14.3l16.8 -0.3l8.3 14.4l-8.3 14.7l8.3 14.3l16.8 -0.3l8.4 14.4l16.8 -0.3l8.4 14.4l-8.4 14.6l8.4 14.4l-8.4 14.7l8.4 14.3l-8.4 14.7l8.4 14.4l-8.4 14.6l8.4 14.4l-8.4 14.7l8.4 14.4l-8.4 14.6l8.3 14.4l-8.3 14.7l8.3 14.3l-8.3 14.7l-16.8 0.3l-8.4 -14.4l-16.7 0.3l-8.4 14.7l8.4 14.4l16.7 -0.3l8.4 14.3l16.8 -0.3l8.3 14.4l-8.3 14.7l-16.8 0.3l-8.4 14.7l8.4 14.3l16.8 -0.3l8.3 14.4l-8.3 14.7l8.3 14.3l-8.3 14.7l-16.8 0.3l-8.3 14.7l-16.8 0.3l-8.4 -14.4l-16.7 0.3l-8.4 14.7l-16.7 0.3l-8.3 14.7l-16.8 0.3l-8.4 -14.3l-16.7 0.3l-8.3 14.7l-16.8 0.3l-8.4 -14.4l-16.7 0.4l-8.3 14.7l-16.8 0.3l-8.4 -14.4l-16.7 0.4l-8.3 14.7l-16.8 0.3l-8.3 14.7l-16.8 0.3l-8.3 -14.3l-16.8 0.3l-8.3 14.7l-16.8 0.4l-8.3 -14.3l-16.8 0.3l-8.3 14.7l-16.7 0.4l-8.4 -14.4l-16.8 0.4l-8.3 14.7l-16.7 0.4l-8.4 14.7l-16.7 0.4l-8.4 -14.4l-16.7 0.4l-8.4 14.7l-16.7 0.4l-8.4 -14.3l-16.7 0.3l-8.4 14.8l-16.7 0.3l-8.4 -14.3l-16.7 0.4l-8.3 14.7l-16.8 0.4l-8.4 -14.3l-16.7 0.4l-8.4 -14.3l8.3 -14.7l16.7 -0.4l8.3 -14.8zM1350.2 441.2l-8.4 -14.4l8.3 -14.7l16.9 -0.3l8.3 -14.7l-8.4 -14.4l8.4 -14.6l-8.4 -14.4l8.4 -14.7l-8.5 -14.3l-16.8 0.3l-8.4 14.7l8.5 14.3l-8.4 14.7l8.4 14.4l-8.4 14.7l-16.8 0.3l-8.4 -14.3l8.4 -14.7l-8.5 -14.4l8.4 -14.7l-8.4 -14.3l8.4 -14.7l-8.5 -14.3l-16.8 0.3l-8.4 -14.3l-16.9 0.3l-8.3 14.7l8.4 14.4l16.8 -0.4l8.5 14.3l-8.4 14.7l8.4 14.4l-8.4 14.7l8.5 14.3l-8.4 14.7l8.4 14.4l16.8 -0.4l8.4 14.4l-8.3 14.7l-16.8 0.3l-8.4 14.7l8.4 14.3l16.8 -0.3l8.4 -14.7l16.8 -0.3zM1442.8 570l8.4 14.4l16.8 -0.4l8.3 -14.7l16.8 -0.3l8.4 -14.7l-8.4 -14.3l-16.8 0.3l-8.4 14.7l-16.8 0.3zM1325.6 804.7l-8.4 -14.4l-16.8 0.4l-8.4 14.7l8.4 14.3l16.8 -0.3zM1518.1 205.5l-16.8 0.4l-8.4 14.6l8.4 14.4l16.9 -0.3l8.4 -14.7zM1417.4 381.7l8.4 14.4l16.8 -0.3l8.4 -14.7l-8.4 -14.4l-16.9 0.3zM1198.5 270.1l16.8 -0.3l8.4 -14.7l-8.4 -14.4l-16.9 0.4l-8.4 14.7zM546.8 1012.4l-8.2 14.7l-16.8 0.5l-8.5 -14.3l8.3 -14.7l16.8 -0.5l8.3 -14.8l16.7 -0.4l8.5 14.3l16.7 -0.5l8.5 14.3l-8.3 14.7l-16.7 0.5l-8.5 -14.3zM623 1141l-8.3 14.7l-16.7 0.5l-8.5 -14.3l-16.7 0.5l-8.5 -14.3l8.3 -14.8l16.7 -0.4l8.3 -14.8l16.8 -0.4l8.4 14.2l-8.3 14.8zM1577.2 857.8l16.7 -0.3l8.4 -14.6l-8.4 -14.4l-16.7 0.3l-8.4 -14.4l-16.8 0.4l-8.4 14.6l8.4 14.4l16.8 -0.3zM1401 759.6l-8.4 14.7l8.4 14.3l16.8 -0.3l8.4 -14.7l-8.4 -14.3zM1367.4 760.3l8.4 -14.7l-8.4 -14.4l-16.8 0.4l-8.3 14.7l8.4 14.3zM1568.6 204.6l8.5 -14.7l-8.5 -14.3l-16.8 0.3l-8.4 14.6l8.4 14.4zM1568.7 582.1l8.4 -14.7l16.8 -0.3l8.4 -14.6l-8.4 -14.4l-16.8 0.3l-8.4 14.7l-16.8 0.3l-8.4 14.7l8.4 14.3zM1392.2 454.8l8.4 14.4l16.8 -0.3l8.4 -14.7l16.8 -0.4l8.4 -14.6l-8.4 -14.4l-16.8 0.3l-8.4 14.7l-16.8 0.3zM1568.8 930.6l8.4 14.4l16.7 -0.3l8.4 -14.7l-8.4 -14.4l-16.7 0.3zM1367.6 847.4l8.3 -14.7l-8.4 -14.4l-16.7 0.4l-8.4 14.7l-16.8 0.3l-8.3 14.7l8.4 14.4l16.7 -0.4l8.4 -14.7zM1391.9 193.5l-16.8 0.3l-8.4 14.7l8.4 14.4l16.8 -0.4l8.4 -14.7zM1552 669.6l-8.4 -14.4l-16.8 0.3l-8.4 14.7l8.4 14.3l16.8 -0.3zM1266 384.8l8.4 -14.7l-8.4 -14.3l-16.8 0.4l-8.4 14.7l8.4 14.3zM1367.3 673.1l8.4 14.4l16.8 -0.3l8.4 14.3l16.8 -0.3l8.4 14.3l16.8 -0.3l8.4 14.4l16.8 -0.4l8.4 14.4l16.8 -0.3l8.3 -14.7l-8.4 -14.4l-16.7 0.3l-8.4 -14.3l-16.8 0.3l-8.4 -14.3l-16.8 0.3l-8.4 -14.4l-16.8 0.4l-8.4 -14.4l-16.8 0.4zM597.5 1069.1l-8.3 14.7l-16.8 0.5l-8.4 -14.3l8.2 -14.8l16.8 -0.4zM1476.6 859.7l-8.4 14.7l8.4 14.4l16.8 -0.3l8.3 14.3l16.8 -0.3l8.4 -14.7l16.7 -0.3l8.4 -14.7l-8.4 -14.3l-16.7 0.3l-8.4 -14.4l-16.8 0.3l-8.4 14.7zM690.6 1255.3l-16.7 0.5l-8.3 14.7l-16.8 0.5l-8.4 -14.3l8.3 -14.8l16.7 -0.4l8.3 -14.7l16.7 -0.5l8.5 14.3l16.7 -0.4l8.3 -14.8l16.7 -0.4l8.3 -14.8l16.8 -0.4l8.2 -14.7l-8.4 -14.3l8.3 -14.8l16.7 -0.4l8.5 14.3l-8.3 14.7l8.4 14.3l16.8 -0.4l8.4 14.3l16.7 -0.4l8.4 14.3l-8.3 14.7l-16.7 0.5l-8.4 -14.3l-16.7 0.4l-8.3 14.7l-16.8 0.4l-8.3 14.8l-16.7 0.4l-8.4 -14.3l-16.8 0.5l-8.2 14.7l-16.8 0.4zM592.3 197.9l-8.4 14.7l8.5 14.3l-8.3 14.8l-16.8 0.4l-8.5 -14.3l8.3 -14.7l-8.5 -14.3l8.3 -14.8l16.9 -0.4zM737.8 673.2l-16.8 0.5l-8.3 14.7l-16.8 0.4l-8.5 -14.3l8.4 -14.7l16.8 -0.4l8.3 -14.8l16.8 -0.4l8.4 14.3l16.8 -0.5l8.5 14.3l-8.3 14.8l-16.8 0.4zM1518.2 263.6l-16.8 0.3l-8.5 14.7l8.5 14.4l16.8 -0.3l8.4 -14.7zM1619.1 436l-16.8 0.3l-8.4 -14.4l-16.8 0.3l-8.4 14.7l8.4 14.4l16.8 -0.3l8.4 14.3l16.8 -0.3l8.4 -14.6zM623.3 1199.1l-8.3 14.7l-16.7 0.5l-8.4 -14.3l8.2 -14.8l16.8 -0.4zM1476.3 453.2l16.8 -0.3l8.4 -14.7l-8.5 -14.4l8.4 -14.7l-8.4 -14.3l-16.8 0.3l-8.4 14.7l8.4 14.3l-8.4 14.7zM1375.5 542.3l-8.4 -14.4l-16.8 0.4l-8.4 14.7l-16.8 0.3l-8.3 14.7l8.4 14.4l16.8 -0.4l8.4 -14.7l16.8 -0.3zM1375.1 251.9l-8.4 -14.4l-16.8 0.4l-8.4 14.7l8.4 14.3l16.8 -0.3zM1442.4 250.6l-16.8 0.3l-8.4 14.7l8.5 14.3l16.8 -0.3l8.4 -14.7zM316.2 423.6l-8.3 14.8l-16.8 0.5l-8.6 -14.3l8.3 -14.8l16.8 -0.5zM1442.8 628.1l-16.8 0.3l-8.4 -14.3l-16.8 0.3l-8.4 14.7l8.5 14.3l16.7 -0.3l8.5 14.3l16.7 -0.3l8.4 14.4l16.8 -0.4l8.4 14.4l16.8 -0.3l8.4 -14.7l-8.4 -14.4l-16.8 0.4l-8.4 -14.4l-16.8 0.3zM1425.7 338l-8.4 -14.3l-16.8 0.3l-8.4 14.7l8.4 14.3l16.8 -0.3zM1316.7 499.9l-16.8 0.4l-8.4 14.7l8.4 14.3l16.8 -0.3l8.4 -14.7zM1518.2 321.7l-16.8 0.3l-8.4 14.7l8.4 14.4l-8.4 14.6l8.4 14.4l16.8 -0.3l8.4 -14.7l-8.4 -14.4l8.4 -14.6zM441 231.2l-8.3 14.7l8.5 14.3l-8.3 14.8l-16.9 0.4l-8.5 -14.2l8.3 -14.8l-8.5 -14.3l8.3 -14.7l-8.5 -14.3l-16.8 0.5l-8.6 -14.3l8.4 -14.8l16.8 -0.5l8.5 14.3l16.9 -0.5l8.5 14.3l-8.3 14.8zM1551.9 408.2l-8.4 -14.4l-16.9 0.3l-8.3 14.7l8.4 14.4l16.8 -0.3zM849.1 1149.6l-8.3 14.7l-16.8 0.4l-8.4 -14.3l8.3 -14.7l16.7 -0.4l8.3 -14.7l16.8 -0.5l8.3 -14.7l16.7 -0.4l8.5 14.3l-8.4 14.7l-16.7 0.4l-8.3 14.8zM1627.5 740.8l-8.4 14.6l-16.8 0.3l-8.4 -14.3l8.4 -14.7l16.8 -0.3zM1392.4 571l-16.8 0.3l-8.4 14.7l8.4 14.4l16.8 -0.4l8.4 -14.7zM618.4 356.9l-8.3 14.8l-16.8 0.4l-8.5 -14.3l8.3 -14.7l16.9 -0.5zM314.2 162.2l-8.3 14.8l-16.9 0.5l-8.5 -14.2l8.3 -14.8l16.9 -0.5zM571.4 910l-8.3 14.8l-16.8 0.5l-8.5 -14.3l8.3 -14.8l16.8 -0.4zM212.4 78.2l-8.3 14.8l8.6 14.2l-8.3 14.8l-16.9 0.5l-8.5 -14.2l-16.8 0.5l-8.6 -14.3l8.3 -14.8l16.9 -0.5l8.3 -14.8l16.8 -0.5zM1593.9 509.1l8.4 -14.7l-8.4 -14.4l-16.8 0.3l-8.4 14.7l8.4 14.4zM1300.1 616.4l-8.4 -14.3l-16.8 0.4l-8.4 14.7l8.4 14.3l16.8 -0.4zM647.5 1038.7l-8.3 14.7l-16.7 0.5l-8.5 -14.3l8.3 -14.8l16.8 -0.4zM1190 226.7l8.4 -14.7l-8.5 -14.3l-16.8 0.4l-8.4 14.7l8.4 14.3zM965.6 972.5l-16.8 0.4l-8.3 14.7l-16.8 0.4l-8.3 14.7l-16.7 0.4l-8.3 14.8l-16.8 0.4l-8.4 -14.3l8.3 -14.8l16.7 -0.4l8.3 -14.7l16.8 -0.4l8.3 -14.7l16.8 -0.4l8.3 -14.8l16.8 -0.4l8.4 14.3l16.8 -0.4l8.4 14.4l16.7 -0.4l8.5 14.3l-8.4 14.7l-16.7 0.4l-8.4 -14.3l-16.8 0.4zM1342.1 630.1l-16.8 0.3l-8.4 14.7l8.4 14.4l16.8 -0.4l8.4 -14.7zM364.9 189.8l-8.3 14.8l-16.8 0.5l-8.6 -14.3l8.4 -14.8l16.8 -0.5zM924.1 1075.1l-8.3 14.7l-16.8 0.5l-8.4 -14.4l8.3 -14.7l16.8 -0.4z"/>
<path fill="#228a44" d="M738.8 876.5l8.4 -14.7l-8.5 -14.3l-16.8 0.4l-8.3 14.7l8.5 14.3zM647 951.5l-8.4 -14.2l8.3 -14.8l16.7 -0.4l8.3 -14.8l-8.4 -14.3l8.3 -14.7l16.7 -0.5l8.4 -14.7l-8.5 -14.3l-16.8 0.4l-8.3 14.8l-16.8 0.4l-8.3 14.8l-16.7 0.4l-8.3 14.8l-16.8 0.4l-8.3 14.8l8.5 14.3l16.8 -0.5l8.4 14.3l-8.3 14.8l8.5 14.2l16.7 -0.4zM446.1 986.2l-8.5 -14.3l8.3 -14.7l-8.5 -14.3l8.3 -14.8l16.8 -0.5l8.3 -14.7l16.7 -0.5l8.3 -14.8l-8.5 -14.2l8.3 -14.8l16.8 -0.5l8.3 -14.7l16.8 -0.5l8.3 -14.8l-8.5 -14.2l8.3 -14.8l16.8 -0.5l8.4 14.3l16.8 -0.4l8.5 14.3l16.7 -0.5l8.3 -14.8l-8.4 -14.2l8.3 -14.8l16.8 -0.4l8.3 -14.8l-8.5 -14.3l-16.8 0.5l-8.5 -14.3l-16.7 0.4l-8.3 14.8l-16.8 0.4l-8.5 -14.2l8.3 -14.8l-8.5 -14.3l8.3 -14.7l-8.5 -14.3l8.3 -14.8l16.8 -0.4l8.3 -14.8l16.8 -0.4l8.5 14.2l-8.3 14.8l8.5 14.3l-8.3 14.7l8.4 14.3l16.8 -0.4l8.5 14.3l16.8 -0.5l8.3 -14.7l-8.5 -14.3l8.3 -14.8l-8.5 -14.3l8.4 -14.7l16.7 -0.5l8.5 14.3l-8.3 14.8l8.5 14.3l-8.3 14.7l8.4 14.3l-8.3 14.8l8.5 14.3l16.8 -0.5l8.3 -14.7l16.8 -0.5l8.3 -14.7l-8.5 -14.3l-16.8 0.4l-8.4 -14.3l8.3 -14.7l16.8 -0.4l8.3 -14.8l16.8 -0.4l8.3 -14.8l-8.5 -14.3l-16.8 0.5l-8.4 -14.3l8.3 -14.8l-8.5 -14.3l-16.8 0.5l-8.5 -14.3l8.4 -14.8l16.8 -0.4l8.3 -14.7l16.8 -0.5l8.5 14.3l16.7 -0.4l8.5 14.3l16.8 -0.4l8.5 14.3l16.8 -0.4l8.4 14.3l16.8 -0.4l8.5 14.3l-8.4 14.7l-16.7 0.4l-8.4 14.7l8.5 14.4l-8.3 14.7l8.4 14.3l16.8 -0.4l8.4 14.3l-8.3 14.7l8.5 14.3l16.8 -0.4l8.3 -14.7l16.8 -0.4l8.3 -14.8l16.8 -0.4l8.4 14.4l16.8 -0.5l8.4 14.4l-8.3 14.7l-16.8 0.4l-8.3 14.7l-16.8 0.4l-8.3 14.7l8.4 14.4l16.8 -0.4l8.5 14.3l16.7 -0.4l8.4 -14.8l16.7 -0.4l8.5 14.4l-8.4 14.7l8.5 14.3l16.7 -0.4l8.4 -14.7l16.7 -0.4l8.4 -14.7l16.8 -0.4l8.3 -14.7l16.8 -0.4l8.3 -14.7l16.8 -0.4l8.4 14.3l16.8 -0.3l8.4 14.3l-8.3 14.7l8.4 14.3l-8.4 14.7l8.5 14.4l16.7 -0.4l8.4 14.3l-8.3 14.7l8.4 14.4l-8.3 14.7l-16.8 0.4l-8.3 14.7l-16.8 0.3l-8.3 14.7l-16.8 0.4l-8.3 14.7l-16.8 0.4l-8.3 14.7l8.4 14.4l-8.3 14.7l-16.8 0.4l-8.3 14.7l-16.7 0.4l-8.5 -14.3l8.4 -14.8l-8.5 -14.3l8.4 -14.7l-8.5 -14.3l-16.7 0.4l-8.4 -14.4l-16.8 0.4l-8.4 -14.3l-16.8 0.4l-8.3 14.8l-16.8 0.4l-8.3 14.7l-16.8 0.4l-8.3 14.7l-16.7 0.4l-8.5 -14.3l-16.7 0.5l-8.5 -14.4l-16.7 0.5l-8.5 -14.3l-16.7 0.4l-8.3 14.7l8.4 14.3l16.8 -0.4l8.4 14.3l-8.3 14.7l-16.8 0.5l-8.3 14.7l-16.7 0.4l-8.3 14.8l-16.8 0.4l-8.3 14.7l-16.7 0.5l-8.3 14.7l-16.8 0.5l-8.4 -14.3l-16.8 0.4l-8.3 14.8l8.5 14.3l-8.3 14.7l8.5 14.3l-8.3 14.7l8.4 14.3l-8.3 14.8l-16.7 0.4l-8.3 14.8l8.5 14.3l16.7 -0.5l8.4 14.3l16.8 -0.4l8.4 14.3l16.7 -0.5l8.3 -14.7l16.8 -0.5l8.3 -14.7l16.7 -0.4l8.4 14.3l-8.2 14.7l-16.8 0.4l-8.3 14.8l-16.7 0.4l-8.3 14.8l-16.7 0.4l-8.5 -14.3l-16.7 0.5l-8.3 14.7l-16.7 0.4l-8.3 14.8l-16.7 0.4l-8.3 14.8l-16.7 0.5l-8.3 14.7l-16.7 0.5l-8.5 -14.3l8.3 -14.8l-8.5 -14.3l8.3 -14.7l-8.5 -14.3l8.3 -14.8l-8.4 -14.2l8.3 -14.8l-8.5 -14.3l8.3 -14.7l16.7 -0.5l8.5 14.3l16.7 -0.5l8.3 -14.7l-8.5 -14.3l8.3 -14.8l-8.4 -14.2l-16.8 0.4l-8.4 -14.3l8.3 -14.7l-8.5 -14.3l-16.8 0.4l-8.4 -14.2l8.3 -14.8l16.7 -0.5l8.3 -14.7l-8.5 -14.3l-16.7 0.5l-8.5 -14.3l-16.7 0.4l-8.3 14.8l-16.8 0.5l-8.3 14.7l-16.7 0.5l-8.5 -14.3l-16.7 0.5l-8.3 14.7l8.5 14.3l-8.3 14.8l-16.8 0.5l-8.5 -14.3l8.3 -14.8l-8.5 -14.2zM924 1046.1l-8.3 14.7l-16.8 0.4l-8.4 -14.3l-16.8 0.4l-8.4 -14.3l8.3 -14.7l16.8 -0.4l8.4 14.3l16.7 -0.4zM367.2 509.2l-8.3 14.8l-16.8 0.5l-8.5 -14.3l8.3 -14.7l-8.5 -14.3l-16.8 0.5l-8.5 -14.3l-16.8 0.5l-8.5 -14.2l8.3 -14.8l16.8 -0.5l8.3 -14.8l-8.6 -14.3l8.3 -14.7l16.9 -0.5l8.3 -14.8l16.8 -0.5l8.3 -14.8l16.8 -0.5l8.5 14.3l16.8 -0.5l8.5 14.3l16.9 -0.5l8.3 -14.7l-8.5 -14.3l8.3 -14.8l16.8 -0.5l8.3 -14.7l16.8 -0.5l8.3 -14.8l16.9 -0.4l8.3 -14.8l16.8 -0.5l8.5 14.3l16.8 -0.4l8.5 14.2l16.8 -0.4l8.5 14.3l-8.3 14.7l8.5 14.3l16.8 -0.4l8.3 -14.8l-8.4 -14.3l8.3 -14.7l-8.5 -14.3l8.3 -14.8l16.8 -0.4l8.5 14.3l16.9 -0.5l8.4 14.3l16.9 -0.4l8.5 14.3l-8.4 14.7l8.5 14.3l-8.3 14.7l8.5 14.3l-8.4 14.8l8.5 14.3l16.8 -0.5l8.5 14.3l16.8 -0.4l8.5 14.3l-8.3 14.7l8.4 14.3l-8.3 14.8l-16.8 0.4l-8.5 -14.3l-16.8 0.5l-8.5 -14.3l-16.8 0.4l-8.3 14.8l8.5 14.3l-8.3 14.7l8.5 14.3l-8.4 14.7l-16.8 0.5l-8.3 14.7l8.5 14.3l-8.3 14.8l8.5 14.3l-8.3 14.7l-16.8 0.5l-8.3 14.7l-16.8 0.5l-8.5 -14.3l-16.8 0.4l-8.3 14.8l-16.8 0.5l-8.5 -14.3l-16.8 0.4l-8.5 -14.2l8.3 -14.8l-8.5 -14.3l8.3 -14.7l16.8 -0.5l8.3 -14.8l-8.4 -14.2l-16.8 0.4l-8.4 14.8l-16.8 0.5l-8.4 -14.3l-16.8 0.4l-8.3 14.8l-16.8 0.5l-8.5 -14.3l-16.8 0.5l-8.6 -14.3l-16.8 0.5l-8.5 -14.3l8.3 -14.7l-8.5 -14.3l-16.8 0.5l-8.3 14.8zM623.3 1199.1l-8.4 -14.3l-16.8 0.4l-8.2 14.8l8.4 14.3l16.7 -0.5zM566.9 184l-8.3 14.8l8.5 14.3l-8.3 14.7l8.5 14.3l-8.3 14.8l8.5 14.3l-8.4 14.7l-16.8 0.5l-8.5 -14.3l8.3 -14.8l-8.5 -14.2l-16.8 0.4l-8.5 -14.3l-16.8 0.5l-8.4 14.8l-16.8 0.4l-8.3 14.8l-16.8 0.5l-8.5 -14.3l8.3 -14.7l-8.5 -14.3l8.3 -14.8l-8.5 -14.3l-16.9 0.5l-8.5 -14.3l-16.8 0.5l-8.4 14.8l-16.8 0.5l-8.5 -14.3l-16.8 0.5l-8.6 -14.3l-16.8 0.5l-8.5 -14.2l-16.9 0.5l-8.5 -14.3l-16.9 0.5l-8.5 -14.2l-16.8 0.5l-8.6 -14.3l-16.8 0.5l-8.6 -14.2l8.3 -14.8l16.9 -0.5l8.3 -14.8l16.8 -0.5l8.6 14.2l16.8 -0.5l8.3 -14.7l16.9 -0.5l8.5 14.2l-8.3 14.8l8.5 14.3l16.9 -0.5l8.3 -14.8l16.8 -0.5l8.6 14.3l16.8 -0.5l8.5 14.3l16.9 -0.5l8.5 14.2l16.9 -0.4l8.5 14.2l16.8 -0.5l8.5 14.3l16.9 -0.4l8.5 14.2l16.8 -0.4l8.3 -14.8l16.9 -0.5l8.5 14.3l16.8 -0.4l8.4 -14.8l16.8 -0.5l8.5 14.3l-8.3 14.8zM539.1 1114.3l-16.7 0.4l-8.5 -14.3l8.3 -14.7l16.7 -0.5l8.5 14.3l16.7 -0.5l8.5 14.3l-8.3 14.8l-16.7 0.4zM495.4 839.6l-8.2 14.7l-16.8 0.5l-8.3 14.7l-16.8 0.5l-8.5 -14.2l8.3 -14.8l-8.5 -14.3l8.3 -14.7l16.8 -0.5l8.5 14.2l16.8 -0.4zM562.9 895.8l-16.8 0.4l-8.3 14.8l8.5 14.3l16.8 -0.5l8.3 -14.8zM899 1090.3l-8.3 14.7l-16.7 0.4l-8.5 -14.3l8.4 -14.7l16.7 -0.5zM798.8 1150.9l-8.3 14.7l-16.7 0.4l-8.4 -14.3l8.3 -14.7l16.7 -0.4zM964 565.9l-16.8 0.4l-8.3 14.7l-16.8 0.4l-8.4 -14.3l8.3 -14.7l16.8 -0.4l8.3 -14.7l16.8 -0.4l8.5 14.3l16.8 -0.4l8.4 14.3l-8.3 14.7l-16.8 0.4zM647.5 1038.7l-8.4 -14.3l-16.8 0.4l-8.3 14.8l8.5 14.3l16.7 -0.5zM487.7 941.4l8.5 14.3l16.8 -0.5l8.3 -14.7l-8.5 -14.3l-16.8 0.5zM846.5 568.8l-8.4 14.7l-16.8 0.4l-8.4 -14.3l8.3 -14.7l16.8 -0.4l8.3 -14.7l16.8 -0.5l8.4 -14.7l16.8 -0.4l8.4 14.3l-8.3 14.7l-16.8 0.4l-8.3 14.8zM441.4 289.2l-8.3 14.8l8.5 14.3l-8.3 14.7l-16.9 0.5l-8.5 -14.3l8.3 -14.7l-8.5 -14.3l8.3 -14.8l16.9 -0.4zM820.9 496.8l-8.3 14.8l-16.8 0.4l-8.5 -14.3l8.4 -14.8l16.8 -0.4zM998 681.3l-8.3 14.7l8.5 14.3l-8.4 14.7l-16.8 0.4l-8.4 -14.3l8.3 -14.7l-8.4 -14.3l8.3 -14.8l16.8 -0.4zM418.5 623.9l-8.3 14.8l-16.8 0.5l-8.5 -14.3l8.3 -14.8l16.8 -0.5z"/>
<path fill="#00441b" d="M847 685l-8.5 -14.4l8.4 -14.7l16.7 -0.4l8.4 -14.7l-8.5 -14.3l-16.8 0.4l-8.4 -14.3l-16.8 0.4l-8.5 -14.3l-16.8 0.4l-8.5 -14.3l-16.7 0.4l-8.5 -14.3l-16.8 0.5l-8.3 14.7l-16.8 0.4l-8.4 14.8l8.5 14.3l16.8 -0.5l8.5 14.3l-8.3 14.8l-16.8 0.4l-8.3 14.8l-16.8 0.4l-8.4 14.7l-16.7 0.5l-8.4 14.7l8.5 14.3l-8.3 14.8l8.5 14.3l-8.3 14.7l-16.8 0.5l-8.5 -14.3l-16.8 0.4l-8.4 -14.3l8.3 -14.7l-8.5 -14.3l8.3 -14.8l-8.5 -14.2l-16.8 0.4l-8.3 14.8l-16.8 0.4l-8.3 14.8l8.5 14.3l-8.3 14.7l8.5 14.3l-8.3 14.8l8.5 14.2l16.8 -0.4l8.3 -14.8l16.7 -0.4l8.5 14.3l16.8 -0.5l8.5 14.3l-8.3 14.8l-16.8 0.4l-8.3 14.8l8.4 14.2l-8.3 14.8l-16.7 0.5l-8.5 -14.3l-16.8 0.4l-8.4 -14.3l-16.8 0.5l-8.3 14.8l8.5 14.2l-8.3 14.8l-16.8 0.5l-8.3 14.7l-16.8 0.5l-8.3 14.8l8.5 14.2l-8.3 14.8l-16.7 0.5l-8.3 14.7l-16.8 0.5l-8.3 14.8l-16.7 0.5l-8.5 -14.3l8.3 -14.8l-8.5 -14.3l8.3 -14.7l16.7 -0.5l8.3 -14.8l16.8 -0.5l8.3 -14.7l16.8 -0.5l8.2 -14.7l-8.4 -14.3l-16.8 0.4l-8.5 -14.2l-16.8 0.5l-8.4 -14.3l8.2 -14.8l-8.4 -14.3l-16.8 0.5l-8.5 -14.3l8.3 -14.7l-8.5 -14.3l8.3 -14.8l-8.5 -14.2l8.3 -14.8l-8.5 -14.3l-16.8 0.5l-8.5 -14.3l8.3 -14.7l16.8 -0.5l8.3 -14.8l-8.5 -14.3l-16.8 0.5l-8.5 -14.2l-16.8 0.4l-8.5 -14.2l8.3 -14.8l-8.5 -14.3l8.2 -14.7l-8.5 -14.3l8.3 -14.8l-8.5 -14.2l8.3 -14.8l16.8 -0.5l8.5 14.3l-8.3 14.7l8.5 14.3l16.8 -0.5l8.6 14.3l16.8 -0.5l8.5 14.3l16.8 -0.5l8.3 -14.8l16.8 -0.4l8.4 14.3l16.8 -0.5l8.4 -14.8l16.8 -0.4l8.4 14.2l-8.3 14.8l-16.8 0.5l-8.3 14.7l8.5 14.3l-8.3 14.8l8.5 14.2l16.8 -0.4l8.5 14.3l16.8 -0.5l8.3 -14.8l16.8 -0.4l8.5 14.3l16.8 -0.5l8.3 -14.7l16.8 -0.5l8.3 -14.7l-8.5 -14.3l8.3 -14.8l-8.5 -14.3l8.3 -14.7l16.8 -0.5l8.4 -14.7l-8.5 -14.3l8.3 -14.7l-8.5 -14.3l8.3 -14.8l16.8 -0.4l8.5 14.3l16.8 -0.5l8.5 14.3l16.8 -0.4l8.3 -14.8l16.9 -0.4l8.4 14.3l16.8 -0.4l8.5 14.3l16.8 -0.4l8.5 14.3l-8.4 14.7l8.5 14.3l-8.3 14.7l8.4 14.3l16.8 -0.4l8.4 -14.7l16.8 -0.4l8.3 -14.8l16.8 -0.4l8.3 -14.7l16.8 -0.4l8.5 14.3l-8.3 14.7l8.4 14.3l16.8 -0.4l8.3 -14.7l16.8 -0.4l8.5 14.3l16.8 -0.4l8.4 14.3l-8.3 14.8l8.4 14.3l-8.3 14.7l8.4 14.3l-8.3 14.7l-16.8 0.4l-8.3 14.8l8.4 14.3l-8.3 14.7l8.4 14.3l-8.3 14.7l-16.8 0.5l-8.4 -14.4l-16.8 0.4l-8.3 14.8l-16.8 0.4l-8.3 14.7l-16.8 0.4l-8.5 -14.3l8.3 -14.7l-8.4 -14.3l-16.8 0.4l-8.4 -14.3zM572.8 1142.4l-8.3 14.7l-16.7 0.5l-8.5 -14.3l8.3 -14.8l16.7 -0.4zM441.6 318.3l-8.5 -14.3l8.3 -14.8l-8.5 -14.2l8.3 -14.8l16.8 -0.5l8.3 -14.8l16.8 -0.4l8.4 -14.8l16.8 -0.5l8.5 14.3l16.8 -0.4l8.5 14.2l-8.3 14.8l8.5 14.3l-8.3 14.7l-16.8 0.5l-8.3 14.8l-16.9 0.4l-8.3 14.8l-16.8 0.5l-8.3 14.7l-16.8 0.5l-8.3 14.8l8.5 14.3l-8.3 14.7l-16.9 0.5l-8.5 -14.3l-16.8 0.5l-8.5 -14.3l8.3 -14.7l16.8 -0.5l8.3 -14.8l16.9 -0.5zM814.8 976.2l-16.8 0.4l-8.4 -14.3l8.3 -14.7l16.7 -0.4l8.5 14.3l16.7 -0.5l8.5 14.4l16.7 -0.5l8.5 14.3l-8.3 14.8l8.4 14.3l-8.3 14.7l8.4 14.3l16.8 -0.4l8.4 14.3l-8.3 14.7l-16.7 0.5l-8.4 14.7l8.5 14.3l-8.3 14.7l-16.8 0.5l-8.3 14.7l-16.7 0.4l-8.3 14.7l-16.8 0.5l-8.4 -14.3l-16.7 0.4l-8.3 14.7l8.4 14.3l-8.3 14.8l-16.7 0.4l-8.3 14.7l-16.8 0.5l-8.3 14.7l-16.7 0.5l-8.4 -14.3l-16.8 0.4l-8.4 -14.3l-16.7 0.5l-8.5 -14.3l8.3 -14.8l16.7 -0.4l8.3 -14.8l-8.4 -14.3l8.3 -14.7l-8.5 -14.3l8.3 -14.7l-8.5 -14.3l8.3 -14.8l16.8 -0.4l8.4 14.3l16.8 -0.5l8.3 -14.7l16.7 -0.5l8.3 -14.7l16.8 -0.4l8.3 -14.8l16.7 -0.4l8.3 -14.7l16.8 -0.5l8.3 -14.7zM613.2 894.4l8.3 -14.8l16.7 -0.4l8.3 -14.8l16.8 -0.4l8.3 -14.8l16.8 -0.4l8.5 14.3l-8.4 14.7l-16.7 0.5l-8.3 14.7l8.4 14.3l-8.3 14.8l-16.7 0.4l-8.3 14.8l8.4 14.2l-8.3 14.8l-16.7 0.4l-8.5 -14.2l8.3 -14.8l-8.4 -14.3l-16.8 0.5l-8.5 -14.3l8.3 -14.8zM746.6 745.6l-8.3 14.7l-16.8 0.5l-8.3 14.7l-16.8 0.5l-8.5 -14.3l8.3 -14.8l-8.4 -14.3l8.3 -14.7l16.8 -0.5l8.4 14.3l16.8 -0.4zM521.3 940.5l-8.3 14.7l-16.8 0.5l-8.5 -14.3l8.3 -14.7l16.8 -0.5zM747.2 861.8l-8.4 14.7l-16.7 0.4l-8.5 -14.3l8.3 -14.7l16.8 -0.4zM488.7 1086.6l-16.8 0.5l-8.4 -14.3l8.2 -14.7l16.8 -0.5l8.5 14.3l16.7 -0.5l8.5 14.3l-8.3 14.7l-16.7 0.5z"/>
</g>
<use href="#seams"/>
<text x="9.5" y="1341.4" font-size="33.6" textLength="719" lengthAdjust="spacingAndGlyphs" stroke="#fff" stroke-width="8.3" stroke-linejoin="round" paint-order="stroke">(C) OpenStreetMap contributors (C) CARTO</text>
<rect x="1191.1" y="21.3" width="520.4" height="315.1" rx="8" fill="#fff" fill-opacity="0.8" stroke="#ccc" stroke-opacity="0.8" stroke-width="4.2"/>
<circle cx="1249.3" cy="54.5" r="20.7" fill="#f7fcf5" fill-opacity="0.7"/>
<text x="1336.8" y="68.7" font-size="42.4" textLength="159.0" lengthAdjust="spacingAndGlyphs">170.47,</text>
<text x="1522.3" y="68.7" font-size="42.4" textLength="145.8" lengthAdjust="spacingAndGlyphs">659.51</text>
<circle cx="1249.3" cy="115.2" r="20.7" fill="#c7e9c0" fill-opacity="0.7"/>
<text x="1336.8" y="129.4" font-size="42.4" textLength="159.0" lengthAdjust="spacingAndGlyphs">659.51,</text>
<text x="1522.3" y="129.4" font-size="42.4" textLength="145.8" lengthAdjust="spacingAndGlyphs">837.09</text>
<circle cx="1249.3" cy="176.0" r="20.7" fill="#73c476" fill-opacity="0.7"/>
<text x="1336.8" y="190.2" font-size="42.4" textLength="159.0" lengthAdjust="spacingAndGlyphs">837.09,</text>
<text x="1509.1" y="190.2" font-size="42.4" textLength="172.2" lengthAdjust="spacingAndGlyphs">1036.88</text>
<circle cx="1249.3" cy="236.8" r="20.7" fill="#228a44" fill-opacity="0.7"/>
<text x="1323.6" y="250.9" font-size="42.4" textLength="185.5" lengthAdjust="spacingAndGlyphs">1036.88,</text>
<text x="1522.3" y="250.9" font-size="42.4" textLength="172.2" lengthAdjust="spacingAndGlyphs">1473.84</text>
<circle cx="1249.3" cy="297.5" r="20.7" fill="#00441b" fill-opacity="0.7"/>
<text x="1323.6" y="311.7" font-size="42.4" textLength="185.5" lengthAdjust="spacingAndGlyphs">1473.84,</text>
<text x="1522.3" y="311.7" font-size="42.4" textLength="172.2" lengthAdjust="spacingAndGlyphs">3394.99</text>
</g>
<text x="2674.5" y="291.9" font-size="50.9" text-anchor="middle" textLength="127.2" lengthAdjust="spacingAndGlyphs">2000</text>
<g transform="translate(1808,317)" clip-path="url(#cp)">
<use href="#base"/>
<g fill-opacity="0.7">
<path fill="#f7fcf5" d="M1627.5 653.7l-8.4 14.6l8.4 14.4l-8.4 14.7l8.4 14.3l-8.4 14.7l8.4 14.4l-8.4 14.6l8.4 14.4l-8.4 14.7l8.4 14.4l-8.4 14.6l8.4 14.4l-8.4 14.7l8.4 14.3l-8.4 14.7l8.4 14.4l-8.4 14.6l8.4 14.4l-8.4 14.7l8.4 14.4l-8.4 14.6l8.3 14.4l-8.3 14.7l8.3 14.3l-8.3 14.7l8.3 14.4l-8.3 14.6l8.3 14.4l-8.3 14.7l8.3 14.4l-8.3 14.6l8.3 14.4l-8.3 14.7l-16.8 0.3l-8.3 14.6l-16.8 0.3l-8.4 -14.3l-16.7 0.3l-8.4 -14.4l8.4 -14.6l-8.4 -14.4l8.4 -14.7l-8.4 -14.4l8.4 -14.6l-8.4 -14.4l-16.8 0.3l-8.3 -14.3l8.3 -14.7l-8.4 -14.4l8.4 -14.7l-8.4 -14.3l8.4 -14.7l-8.4 -14.4l8.4 -14.6l-8.4 -14.4l-16.8 0.3l-8.3 -14.3l-16.8 0.3l-8.4 14.7l-16.7 0.3l-8.4 -14.4l-16.8 0.4l-8.4 -14.4l8.4 -14.7l-8.4 -14.3l-16.8 0.3l-8.4 14.7l-16.7 0.3l-8.4 -14.3l-16.8 0.3l-8.4 14.7l-16.7 0.4l-8.4 -14.4l8.3 -14.7l-8.4 -14.3l-16.8 0.3l-8.4 -14.3l-16.7 0.3l-8.5 -14.3l-16.7 0.4l-8.5 -14.4l8.4 -14.7l-8.4 -14.3l-16.8 0.3l-8.4 -14.3l8.3 -14.7l-8.4 -14.3l-16.8 0.3l-8.4 -14.3l8.4 -14.7l-8.5 -14.4l8.4 -14.7l-8.4 -14.3l8.3 -14.7l-8.4 -14.3l-16.8 0.3l-8.4 -14.3l-16.8 0.4l-8.5 -14.4l-16.8 0.4l-8.4 -14.3l-16.8 0.4l-8.3 14.7l-16.8 0.4l-8.5 -14.4l-16.8 0.4l-8.4 -14.3l-16.8 0.4l-8.4 14.7l-16.8 0.4l-8.4 -14.3l-16.8 0.4l-8.5 -14.3l-16.8 0.4l-8.3 14.7l-16.8 0.4l-8.5 -14.3l-16.8 0.4l-8.4 -14.3l-16.8 0.4l-8.4 14.7l-16.8 0.5l-8.3 14.7l-16.8 0.4l-8.5 -14.3l8.4 -14.7l-8.5 -14.3l8.3 -14.8l-8.4 -14.3l-16.8 0.4l-8.4 14.8l-16.8 0.4l-8.4 -14.3l-16.9 0.4l-8.4 -14.3l8.3 -14.7l-8.5 -14.3l8.4 -14.7l-8.5 -14.3l8.3 -14.8l-8.5 -14.3l8.4 -14.7l16.8 -0.5l8.3 -14.7l-8.5 -14.3l-16.8 0.4l-8.5 -14.3l-16.8 0.5l-8.5 -14.3l-16.8 0.4l-8.3 14.8l-16.9 0.4l-8.4 -14.3l-16.9 0.5l-8.5 -14.3l-16.8 0.4l-8.3 14.8l8.5 14.3l-8.3 14.7l-16.9 0.5l-8.5 -14.3l-16.8 0.4l-8.5 -14.2l-16.8 0.4l-8.5 -14.3l8.3 -14.7l16.8 -0.5l8.4 -14.7l-8.5 -14.3l8.3 -14.8l-8.5 -14.3l8.3 -14.7l-8.5 -14.3l8.3 -14.8l16.9 -0.4l8.3 -14.8l16.8 -0.4l8.4 -14.8l16.8 -0.4l8.5 14.3l16.8 -0.5l8.5 14.3l16.9 -0.4l8.3 -14.8l16.9 -0.4l8.5 14.3l16.8 -0.5l8.3 -14.7l16.9 -0.4l8.5 14.3l16.8 -0.5l8.3 -14.7l16.9 -0.4l8.5 14.3l16.8 -0.4l8.4 -14.8l16.8 -0.4l8.5 14.3l16.8 -0.4l8.4 -14.7l16.8 -0.4l8.5 14.3l16.8 -0.4l8.4 -14.7l16.8 -0.5l8.5 14.4l16.8 -0.4l8.4 -14.8l16.8 -0.3l8.5 14.3l16.8 -0.4l8.4 -14.7l16.8 -0.4l8.5 14.3l16.8 -0.4l8.4 -14.7l16.8 -0.4l8.5 14.4l16.8 -0.4l8.4 -14.7l16.8 -0.4l8.5 14.3l16.8 -0.3l8.4 -14.7l16.9 -0.4l8.4 14.3l16.8 -0.3l8.4 -14.7l16.9 -0.4l8.4 14.4l16.8 -0.4l8.4 -14.7l16.9 -0.3l8.4 14.3l16.9 -0.3l8.3 -14.7l16.9 -0.4l8.4 14.4l16.9 -0.4l8.4 -14.7l16.8 -0.3l8.4 14.4l16.9 -0.4l8.4 -14.6l16.8 -0.4l8.4 14.4l16.9 -0.3l8.4 -14.7l16.8 -0.3l8.4 14.3l16.9 -0.3l8.4 -14.7l16.8 -0.3l8.4 14.4l16.9 -0.3l8.4 -14.7l16.8 -0.3l8.5 14.4l16.8 -0.3l8.4 14.3l-8.4 14.7l8.4 14.4l-8.4 14.7l8.4 14.3l-8.4 14.7l8.4 14.4l-8.4 14.6l8.4 14.4l-8.4 14.7l8.4 14.3l-8.5 14.7l8.5 14.4l-8.5 14.7l8.4 14.3l-8.4 14.7l8.4 14.4l-8.4 14.6l8.4 14.4l-8.4 14.7l8.4 14.3l-8.4 14.7l8.4 14.4l-8.4 14.7l8.4 14.3l-8.4 14.7l8.4 14.4l-8.4 14.6l8.4 14.4l-8.4 14.7l-16.8 0.3l-8.4 14.6l8.4 14.4l-8.4 14.7zM774.1 1224.1l-8.3 14.7l-16.7 0.5l-8.5 -14.3l-16.7 0.4l-8.3 14.8l-16.7 0.4l-8.5 -14.3l-16.7 0.5l-8.5 -14.3l8.3 -14.8l16.8 -0.4l8.4 14.3l16.7 -0.5l8.3 -14.7l16.8 -0.5l8.4 14.3l16.8 -0.4zM721.2 702.7l-8.3 14.7l-16.8 0.5l-8.5 -14.3l8.3 -14.8l16.8 -0.4zM496.8 1042.8l-8.3 14.8l-16.8 0.5l-8.4 -14.3l8.3 -14.8l16.7 -0.4l8.3 -14.8l16.7 -0.5l8.5 14.3l-8.3 14.8zM564.1 1099l-16.7 0.5l-8.5 -14.3l8.3 -14.7l16.8 -0.5l8.4 14.3l16.8 -0.5l8.4 14.3l-8.3 14.8l-16.7 0.4z"/>
<path fill="#c7e9c0" d="M1016.6 1174.6l8.3 -14.8l-8.5 -14.3l8.4 -14.7l-8.5 -14.3l8.4 -14.7l16.7 -0.4l8.3 -14.8l-8.4 -14.3l8.3 -14.7l-8.4 -14.3l-16.7 0.4l-8.5 -14.3l8.4 -14.8l16.7 -0.4l8.4 -14.7l-8.5 -14.3l-16.7 0.4l-8.5 -14.3l-16.7 0.4l-8.4 -14.4l-16.8 0.4l-8.4 -14.3l8.3 -14.7l16.8 -0.4l8.3 -14.7l16.7 -0.4l8.4 -14.7l-8.5 -14.3l8.4 -14.8l-8.5 -14.3l8.4 -14.7l16.7 -0.4l8.5 14.3l16.7 -0.4l8.4 -14.7l-8.4 -14.3l8.3 -14.7l16.8 -0.4l8.4 14.3l16.8 -0.4l8.4 14.4l-8.4 14.7l8.5 14.3l-8.4 14.7l8.5 14.4l16.7 -0.4l8.4 -14.7l16.7 -0.4l8.4 14.3l-8.3 14.7l8.4 14.4l16.8 -0.4l8.4 14.3l16.8 -0.3l8.3 -14.7l-8.4 -14.4l8.3 -14.7l16.8 -0.3l8.4 -14.7l16.7 -0.4l8.4 14.4l16.8 -0.4l8.3 -14.7l16.8 -0.3l8.4 -14.7l16.7 -0.4l8.4 -14.7l16.8 -0.3l8.4 14.3l16.7 -0.3l8.4 -14.7l16.8 -0.3l8.4 14.3l-8.4 14.7l8.4 14.4l16.8 -0.4l8.4 14.4l16.7 -0.3l8.4 -14.7l16.8 -0.3l8.3 14.3l16.8 -0.3l8.4 14.4l-8.4 14.6l8.4 14.4l-8.4 14.7l8.4 14.3l-8.4 14.7l8.4 14.4l-8.3 14.7l8.3 14.3l16.8 -0.3l8.4 14.4l-8.4 14.6l8.4 14.4l-8.4 14.7l8.4 14.4l-8.4 14.6l8.4 14.4l16.7 -0.3l8.4 14.3l16.8 -0.3l8.3 -14.6l16.8 -0.3l8.3 14.3l-8.3 14.7l-16.8 0.3l-8.3 14.7l-16.8 0.3l-8.4 -14.4l-16.7 0.3l-8.4 14.7l-16.7 0.3l-8.3 14.7l-16.8 0.3l-8.4 -14.3l-16.7 0.3l-8.3 14.7l-16.8 0.3l-8.4 -14.4l-16.7 0.4l-8.3 14.7l-16.8 0.3l-8.4 -14.4l-16.7 0.4l-8.3 14.7l-16.8 0.3l-8.3 14.7l-16.8 0.3l-8.3 -14.3l-16.8 0.3l-8.3 14.7l-16.8 0.4l-8.3 -14.3l-16.8 0.3l-8.3 14.7l-16.7 0.4l-8.4 -14.4l-16.8 0.4l-8.3 14.7l-16.7 0.4l-8.4 14.7l-16.7 0.4l-8.4 -14.4l-16.7 0.4l-8.4 14.7l-16.7 0.4l-8.4 -14.3l-16.7 0.3l-8.4 14.8l-16.7 0.3l-8.4 -14.3l-16.7 0.4l-8.3 14.7l-16.8 0.4l-8.4 -14.3l-16.7 0.4l-8.3 14.7l-16.8 0.4l-8.4 -14.3l8.3 -14.7l16.8 -0.4l8.3 -14.7l16.7 -0.4l8.3 -14.8zM746.3 687.5l-8.3 14.8l-16.8 0.4l-8.5 -14.3l8.3 -14.7l16.8 -0.5l8.3 -14.7l16.8 -0.5l8.5 14.3l-8.3 14.8zM1115.3 591.4l-16.8 0.4l-8.4 -14.3l8.3 -14.7l16.8 -0.4l8.4 14.3l16.8 -0.4l8.5 14.4l16.8 -0.4l8.4 14.3l16.8 -0.3l8.4 14.3l-8.3 14.7l8.4 14.3l-8.4 14.7l8.5 14.4l-8.4 14.7l-16.8 0.4l-8.4 -14.4l8.4 -14.7l-8.5 -14.3l8.4 -14.7l-8.5 -14.4l-16.7 0.4l-8.5 -14.3l-16.8 0.4zM597.5 1069.1l-8.3 14.7l-16.8 0.5l-8.4 -14.3l-16.8 0.5l-8.3 14.7l-16.7 0.5l-8.5 -14.3l8.3 -14.8l-8.5 -14.2l8.3 -14.8l16.8 -0.5l8.2 -14.7l16.8 -0.5l8.3 -14.7l16.7 -0.5l8.5 14.3l-8.3 14.7l-16.7 0.5l-8.3 14.8l8.4 14.2l16.8 -0.4zM698.9 1240.6l-8.3 14.7l-16.7 0.5l-8.5 -14.3l-16.7 0.4l-8.5 -14.2l8.3 -14.8l16.7 -0.4l8.5 14.3l16.7 -0.5zM1039.7 578.6l-16.8 0.4l-8.4 14.8l-16.8 0.3l-8.4 -14.3l-16.8 0.4l-8.5 -14.3l-16.8 0.4l-8.4 -14.3l8.3 -14.7l16.8 -0.4l8.5 14.3l16.8 -0.4l8.4 14.3l16.8 -0.4l8.4 -14.7l16.8 -0.4l8.4 14.3l16.8 -0.4l8.5 14.4l-8.4 14.7l-16.8 0.4zM1224.7 719.7l-8.3 14.7l-16.8 0.4l-8.4 -14.4l8.3 -14.7l16.8 -0.3zM1325.6 833.7l-8.3 14.7l-16.8 0.4l-8.4 -14.4l-16.8 0.4l-8.4 -14.4l8.4 -14.7l16.7 -0.3l8.4 14.3l16.8 -0.3zM847.8 859.2l-8.4 14.7l-16.7 0.4l-8.5 -14.3l8.3 -14.7l16.8 -0.4l8.3 -14.7l16.8 -0.5l8.5 14.3l16.7 -0.4l8.5 14.3l-8.4 14.8l-16.7 0.4l-8.5 -14.3zM567.5 271.2l-8.4 14.7l-16.8 0.5l-8.5 -14.3l8.3 -14.8l16.9 -0.4zM571.4 910l-8.3 14.8l-16.8 0.5l-8.5 -14.3l8.3 -14.8l16.8 -0.4zM1250 762.7l-8.4 14.7l-16.7 0.4l-8.4 -14.4l8.3 -14.7l16.8 -0.3zM769.8 352.9l-8.3 14.7l-16.8 0.5l-8.5 -14.3l8.3 -14.8l16.8 -0.4zM820.9 496.8l-8.3 14.8l-16.8 0.4l-8.5 -14.3l8.4 -14.8l16.8 -0.4zM799.3 1238l-8.3 14.7l-16.8 0.4l-8.4 -14.3l8.3 -14.7l-8.4 -14.3l8.2 -14.7l16.8 -0.5l8.4 14.3l-8.3 14.8zM749.1 1239.3l-8.3 14.7l-16.8 0.5l-8.4 -14.3l8.3 -14.8l16.7 -0.4zM622.8 1111.9l-8.3 14.8l-16.7 0.5l-8.5 -14.3l8.3 -14.8l16.8 -0.4z"/>
<path fill="#73c476" d="M872.1 669.8l-8.3 14.7l-16.8 0.5l-8.3 14.7l8.4 14.3l16.8 -0.4l8.4 14.3l-8.3 14.7l8.5 14.3l-8.4 14.8l8.5 14.3l16.8 -0.5l8.3 -14.7l16.8 -0.4l8.4 14.3l-8.3 14.7l8.4 14.4l-8.3 14.7l8.5 14.3l-8.4 14.7l8.5 14.3l-8.3 14.8l8.4 14.3l16.8 -0.4l8.3 -14.7l16.7 -0.5l8.5 14.4l16.7 -0.4l8.4 -14.8l-8.5 -14.3l8.4 -14.7l16.7 -0.4l8.5 14.3l-8.4 14.8l8.5 14.3l-8.4 14.7l-16.7 0.4l-8.3 14.7l-16.8 0.4l-8.3 14.7l8.4 14.3l16.8 -0.4l8.4 14.4l16.7 -0.4l8.5 14.3l16.7 -0.4l8.5 14.3l-8.4 14.7l-16.7 0.4l-8.4 14.8l8.5 14.3l16.7 -0.4l8.4 14.3l-8.3 14.7l8.4 14.3l-8.3 14.8l-16.7 0.4l-8.4 14.7l8.5 14.3l-8.4 14.7l8.5 14.3l-8.3 14.8l-16.8 0.3l-8.3 14.8l-16.7 0.4l-8.3 14.7l-16.8 0.4l-8.3 14.7l8.4 14.3l-8.3 14.8l-16.7 0.4l-8.4 -14.4l-16.8 0.5l-8.3 14.7l-16.7 0.4l-8.4 -14.3l-16.8 0.4l-8.3 14.7l-16.7 0.5l-8.4 -14.3l-16.7 0.4l-8.5 -14.3l8.3 -14.8l-8.4 -14.3l8.3 -14.7l-8.5 -14.3l8.3 -14.7l-8.4 -14.3l-16.7 0.4l-8.5 -14.3l8.3 -14.8l-8.4 -14.3l-16.8 0.5l-8.4 -14.3l8.3 -14.8l-8.5 -14.3l8.3 -14.7l16.8 -0.4l8.3 -14.8l16.7 -0.4l8.3 -14.7l16.8 -0.5l8.3 -14.7l16.8 -0.4l8.3 -14.7l16.7 -0.5l8.4 -14.7l-8.5 -14.3l8.3 -14.7l-8.4 -14.3l8.3 -14.8l-8.4 -14.3l-16.8 0.4l-8.3 14.8l-16.8 0.4l-8.4 -14.3l-16.8 0.4l-8.5 -14.3l8.4 -14.7l-8.5 -14.3l8.3 -14.8l-8.4 -14.3l8.3 -14.7l-8.5 -14.3l-16.7 0.4l-8.5 -14.3l-16.8 0.4l-8.4 -14.3l8.3 -14.7l-8.5 -14.3l-16.8 0.4l-8.4 -14.3l8.3 -14.7l16.8 -0.4l8.3 -14.8l16.8 -0.4l8.3 -14.8l-8.5 -14.3l-16.8 0.5l-8.3 14.7l-16.8 0.5l-8.3 14.7l-16.8 0.4l-8.5 -14.3l8.4 -14.7l16.8 -0.4l8.3 -14.8l16.8 -0.4l8.3 -14.8l-8.5 -14.3l8.3 -14.7l16.8 -0.4l8.4 -14.8l16.7 -0.4l8.5 14.3l16.8 -0.4l8.5 14.3l16.8 -0.4l8.4 14.3l-8.3 14.7l8.5 14.3l16.7 -0.4zM1140.8 692.5l-16.8 0.4l-8.5 -14.4l-16.7 0.4l-8.5 -14.3l-16.8 0.4l-8.4 -14.3l-16.8 0.3l-8.3 14.8l-16.8 0.4l-8.4 14.7l-16.8 0.4l-8.4 -14.4l8.3 -14.7l-8.4 -14.3l8.3 -14.7l-8.4 -14.3l8.3 -14.8l16.8 -0.3l8.4 -14.8l16.8 -0.4l8.4 14.4l16.8 -0.4l8.4 -14.7l16.8 -0.4l8.4 14.3l16.8 -0.4l8.4 14.4l16.8 -0.4l8.5 14.3l16.7 -0.4l8.5 14.4l-8.4 14.7l8.5 14.3l-8.4 14.7l8.4 14.4l16.8 -0.4l8.4 14.3l-8.3 14.7l-16.8 0.4l-8.4 -14.3l-16.8 0.3zM546.8 1012.4l-8.2 14.7l-16.8 0.5l-8.5 -14.3l8.3 -14.7l16.8 -0.5l8.3 -14.8l16.7 -0.4l8.5 14.3l-8.3 14.7zM623 1141l-8.3 14.7l8.5 14.3l16.7 -0.4l8.5 14.3l-8.3 14.7l8.4 14.3l-8.3 14.8l8.5 14.2l16.7 -0.4l8.5 14.3l-8.3 14.7l-16.8 0.5l-8.4 -14.3l-16.7 0.4l-8.5 -14.2l8.3 -14.8l-8.5 -14.3l-16.7 0.5l-8.4 -14.3l8.2 -14.8l-8.4 -14.3l-16.7 0.5l-8.5 -14.3l8.3 -14.7l-8.5 -14.3l8.3 -14.8l16.7 -0.4l8.5 14.3l16.7 -0.5zM566.9 184l-8.3 14.8l8.5 14.3l-8.3 14.7l8.5 14.3l-8.3 14.8l-16.9 0.4l-8.5 -14.2l-16.8 0.4l-8.5 -14.3l-16.8 0.5l-8.4 14.8l-16.8 0.4l-8.3 14.8l-16.8 0.5l-8.5 -14.3l8.3 -14.7l-8.5 -14.3l-16.9 0.5l-8.5 -14.3l-16.8 0.5l-8.6 -14.3l-16.8 0.5l-8.5 -14.3l-16.8 0.5l-8.6 -14.3l-16.8 0.5l-8.3 14.8l-16.9 0.5l-8.5 -14.2l8.3 -14.8l-8.5 -14.3l-16.9 0.5l-8.5 -14.2l-16.8 0.5l-8.6 -14.3l-16.8 0.5l-8.6 -14.2l-16.8 0.5l-8.5 -14.3l8.3 -14.8l16.8 -0.5l8.5 14.3l16.9 -0.5l8.3 -14.8l16.8 -0.5l8.6 14.2l16.8 -0.5l8.3 -14.7l16.9 -0.5l8.5 14.2l-8.3 14.8l8.5 14.3l16.9 -0.5l8.3 -14.8l16.8 -0.5l8.6 14.3l16.8 -0.5l8.5 14.3l16.9 -0.5l8.5 14.2l16.9 -0.4l8.5 14.2l16.8 -0.5l8.5 14.3l16.9 -0.4l8.5 14.2l16.8 -0.4l8.3 -14.8l16.9 -0.5l8.5 14.3l16.8 -0.4l8.4 -14.8l16.8 -0.5l8.5 14.3l-8.3 14.8zM534.7 417.3l8.5 14.3l16.8 -0.5l8.5 14.3l-8.3 14.8l-16.8 0.4l-8.3 14.8l-16.8 0.4l-8.5 -14.2l-16.8 0.4l-8.5 -14.2l-16.8 0.4l-8.3 14.8l-16.8 0.5l-8.5 -14.3l8.3 -14.8l16.8 -0.5l8.3 -14.7l-8.5 -14.3l8.3 -14.8l16.8 -0.4l8.5 14.3l16.8 -0.5l8.3 -14.8l16.8 -0.4l8.5 14.2zM619.6 560.2l-8.3 14.7l-16.8 0.5l-8.3 14.7l-16.8 0.5l-8.3 14.8l-16.8 0.4l-8.5 -14.3l8.3 -14.7l16.8 -0.5l8.3 -14.7l-8.5 -14.3l8.4 -14.8l16.8 -0.4l8.3 -14.8l16.8 -0.4l8.5 14.2l-8.4 14.8zM520.1 766.2l-8.3 14.8l-16.7 0.5l-8.5 -14.3l8.3 -14.8l16.8 -0.4zM772.7 933.7l-8.3 14.7l-16.8 0.5l-8.5 -14.3l-16.7 0.4l-8.3 14.8l-16.8 0.4l-8.4 -14.3l8.3 -14.7l16.7 -0.5l8.3 -14.7l16.8 -0.5l8.4 14.3l16.8 -0.4zM668.7 326.5l-8.3 14.8l-16.8 0.4l-8.5 -14.3l8.3 -14.7l16.9 -0.5zM847.6 830.2l-8.3 14.7l-16.8 0.4l-8.3 14.7l8.5 14.3l16.7 -0.4l8.4 -14.7l16.7 -0.4l8.5 14.3l16.7 -0.4l8.4 -14.8l-8.5 -14.3l-16.7 0.4l-8.5 -14.3zM1275.3 805.7l-8.4 14.7l-16.8 0.4l-8.4 -14.3l8.4 -14.7l16.7 -0.4zM1074.1 839.2l-8.4 14.7l-16.7 0.4l-8.5 -14.3l8.4 -14.7l16.8 -0.4zM1325.7 862.8l-8.4 14.7l-16.8 0.3l-8.4 -14.3l8.4 -14.7l16.8 -0.4zM745 426.2l-8.4 14.7l8.5 14.3l-8.3 14.7l-16.8 0.5l-8.5 -14.3l8.3 -14.8l-8.5 -14.3l8.4 -14.7l16.8 -0.4zM774.2 1253.1l-8.3 14.8l-16.7 0.4l-8.4 -14.3l8.3 -14.7l16.7 -0.5zM672.6 1023.5l-8.3 14.7l-16.8 0.5l-8.3 14.7l-16.7 0.5l-8.3 14.7l-16.7 0.5l-8.5 -14.3l-16.8 0.4l-8.4 -14.2l8.3 -14.8l16.7 -0.5l8.3 -14.7l-8.5 -14.3l8.3 -14.7l16.8 -0.5l8.5 14.3l16.7 -0.5l8.3 -14.7l16.8 -0.5l8.4 14.3l16.8 -0.4l8.4 14.3l-8.3 14.7zM471.7 1058.1l-8.2 14.7l-16.8 0.5l-8.5 -14.3l8.3 -14.7l16.8 -0.5zM1224.8 748.7l-8.3 14.7l-16.8 0.4l-8.4 -14.3l8.3 -14.7l16.8 -0.4zM846.5 568.8l-8.4 14.7l-16.8 0.4l-8.4 -14.3l8.3 -14.7l16.8 -0.4l8.3 -14.7l16.8 -0.5l8.4 -14.7l16.8 -0.4l8.4 14.3l-8.3 14.7l-16.8 0.4l-8.3 14.8zM724 1254.5l-8.2 14.7l-16.8 0.4l-8.4 -14.3l8.3 -14.7l16.7 -0.4zM546.1 896.2l-8.3 14.8l8.5 14.3l-8.3 14.7l-16.7 0.5l-8.5 -14.3l8.3 -14.8l-8.5 -14.2l8.3 -14.8l16.7 -0.5zM618.4 356.9l-8.3 14.8l-16.8 0.4l-8.5 -14.3l-16.8 0.5l-8.5 -14.3l8.3 -14.8l16.8 -0.4l8.5 14.3l16.9 -0.5zM316.4 452.6l-8.3 14.8l-16.8 0.5l-8.5 -14.2l8.3 -14.8l16.8 -0.5zM1149.5 823l-8.3 14.7l-16.8 0.4l-8.4 -14.4l-16.8 0.4l-8.4 -14.3l8.3 -14.7l16.8 -0.4l8.4 14.3l16.8 -0.3zM1149.7 881.1l-8.4 14.7l-16.7 0.4l-8.5 -14.4l8.4 -14.7l16.7 -0.4zM1225.2 923l-8.3 14.7l-16.8 0.3l-8.4 -14.3l8.3 -14.7l16.8 -0.4zM773.9 1195.1l-8.2 14.7l-16.8 0.4l-8.4 -14.3l8.3 -14.7l16.7 -0.4zM744.5 339l-8.3 14.8l-16.8 0.4l-8.5 -14.3l8.3 -14.7l16.8 -0.5z"/>
<path fill="#228a44" d="M638.6 937.3l8.3 -14.8l-8.5 -14.3l8.3 -14.7l16.8 -0.5l8.3 -14.7l-8.5 -14.3l-16.8 0.4l-8.3 14.8l-16.7 0.4l-8.3 14.8l-16.8 0.4l-8.3 14.8l8.5 14.3l-8.3 14.7l-16.8 0.5l-8.3 14.7l8.5 14.3l16.8 -0.4l8.3 -14.8l16.7 -0.4l8.3 -14.8zM446.1 986.2l-8.5 -14.3l8.3 -14.7l-8.5 -14.3l8.3 -14.8l16.8 -0.5l8.3 -14.7l16.7 -0.5l8.3 -14.8l-8.5 -14.2l8.3 -14.8l-8.4 -14.3l8.2 -14.7l16.8 -0.5l8.5 14.3l16.8 -0.5l8.3 -14.8l-8.5 -14.2l8.3 -14.8l16.8 -0.5l8.4 14.3l16.8 -0.4l8.5 14.3l16.7 -0.5l8.3 -14.8l16.8 -0.4l8.3 -14.8l-8.4 -14.2l8.3 -14.8l16.7 -0.4l8.3 -14.8l16.8 -0.4l8.5 14.3l16.8 -0.5l8.4 14.3l16.8 -0.4l8.3 -14.8l16.8 -0.4l8.5 14.3l16.7 -0.4l8.5 14.3l-8.3 14.7l8.4 14.3l-8.3 14.8l8.5 14.3l-8.4 14.7l8.5 14.3l16.8 -0.4l8.4 14.3l16.8 -0.4l8.3 -14.8l16.8 -0.4l8.4 14.3l-8.3 14.8l8.4 14.3l-8.3 14.7l8.5 14.3l-8.4 14.7l-16.7 0.5l-8.3 14.7l-16.8 0.4l-8.3 14.7l-16.8 0.5l-8.3 14.7l-16.7 0.4l-8.3 14.8l-16.8 0.4l-8.3 14.7l8.5 14.3l-8.3 14.8l-16.8 0.4l-8.4 -14.3l-16.8 0.5l-8.3 14.7l-16.7 0.5l-8.3 14.7l8.5 14.3l-8.3 14.7l8.4 14.3l-8.3 14.8l8.5 14.3l-8.3 14.7l8.4 14.3l-8.3 14.8l-16.7 0.4l-8.4 -14.3l8.3 -14.7l-8.5 -14.3l-16.7 0.4l-8.5 -14.3l8.3 -14.7l-8.5 -14.3l8.3 -14.8l-8.4 -14.2l-16.8 0.4l-8.4 -14.3l8.3 -14.7l16.7 -0.5l8.3 -14.7l16.7 -0.5l8.3 -14.7l16.8 -0.5l8.3 -14.7l16.7 -0.5l8.3 -14.7l-8.4 -14.3l-16.8 0.4l-8.4 -14.3l-16.8 0.5l-8.3 14.7l-16.7 0.5l-8.5 -14.3l-16.8 0.5l-8.3 14.7l-16.7 0.5l-8.5 -14.3l-16.7 0.4l-8.3 14.8l-16.8 0.5l-8.3 14.7l-16.7 0.5l-8.3 14.8l-16.7 0.4l-8.5 -14.3l-16.8 0.5l-8.5 -14.2zM914.2 712.3l8.4 -14.7l16.8 -0.4l8.4 14.3l16.8 -0.4l8.3 -14.7l-8.4 -14.3l8.3 -14.8l-8.4 -14.3l8.3 -14.7l-8.4 -14.3l-16.8 0.4l-8.4 14.7l-16.8 0.4l-8.3 14.7l-16.8 0.5l-8.3 14.7l8.4 14.3l-8.3 14.7l8.5 14.3zM745.8 600.4l-8.3 14.7l-16.8 0.5l-8.5 -14.3l-16.7 0.4l-8.5 -14.3l-16.8 0.5l-8.3 14.7l-16.8 0.5l-8.3 14.7l-16.8 0.5l-8.3 14.7l-16.8 0.5l-8.5 -14.3l-16.8 0.4l-8.3 14.8l-16.8 0.5l-8.5 -14.3l-16.8 0.4l-8.5 -14.2l8.3 -14.8l-8.5 -14.3l8.3 -14.7l-8.5 -14.3l-16.8 0.5l-8.3 14.7l-16.8 0.5l-8.4 -14.3l-16.8 0.5l-8.3 14.8l-16.8 0.4l-8.5 -14.2l-16.8 0.5l-8.6 -14.3l-16.8 0.5l-8.5 -14.3l-16.8 0.5l-8.5 -14.3l8.3 -14.7l-8.5 -14.3l-16.8 0.5l-8.5 -14.3l8.3 -14.8l-8.5 -14.2l-16.8 0.5l-8.6 -14.3l-16.8 0.5l-8.5 -14.2l8.3 -14.8l-8.5 -14.3l-16.8 0.5l-8.6 -14.2l8.3 -14.8l-8.5 -14.3l-16.8 0.5l-8.5 -14.2l-16.9 0.5l-8.5 -14.3l8.3 -14.7l-8.5 -14.3l-16.9 0.5l-8.5 -14.2l-16.8 0.5l-8.6 -14.3l8.3 -14.7l-8.5 -14.3l-16.9 0.5l-8.5 -14.2l-16.8 0.5l-8.6 -14.2l8.3 -14.8l-8.5 -14.3l8.2 -14.8l16.9 -0.5l8.3 -14.8l16.8 -0.5l8.3 -14.8l16.9 -0.5l8.3 -14.8l-8.6 -14.3l8.3 -14.8l16.9 -0.5l8.5 14.3l16.8 -0.5l8.6 14.2l16.8 -0.5l8.6 14.3l16.8 -0.5l8.5 14.2l16.9 -0.5l8.5 14.3l-8.3 14.8l8.5 14.2l16.9 -0.5l8.3 -14.8l16.8 -0.5l8.6 14.3l16.8 -0.5l8.5 14.3l16.8 -0.5l8.6 14.3l16.8 -0.5l8.5 14.3l16.9 -0.5l8.5 14.3l-8.3 14.7l8.5 14.3l16.8 -0.5l8.3 -14.8l16.8 -0.4l8.4 -14.8l16.8 -0.5l8.5 14.3l16.8 -0.4l8.5 14.2l-8.3 14.8l8.5 14.3l-8.3 14.7l8.5 14.3l16.8 -0.4l8.5 14.2l-8.3 14.8l8.5 14.3l16.8 -0.5l8.5 14.3l16.8 -0.4l8.3 -14.8l-8.4 -14.3l8.3 -14.7l-8.5 -14.3l8.3 -14.8l16.8 -0.4l8.5 14.3l-8.3 14.7l8.5 14.3l16.8 -0.4l8.3 -14.8l16.9 -0.4l8.3 -14.8l16.8 -0.4l8.5 14.3l-8.3 14.7l8.5 14.3l16.8 -0.4l8.5 14.3l-8.4 14.7l8.5 14.3l-8.3 14.8l-16.8 0.4l-8.4 14.7l8.5 14.3l-8.3 14.8l8.5 14.3l16.8 -0.5l8.4 14.3l16.9 -0.4l8.4 14.3l16.8 -0.4l8.5 14.3l16.8 -0.4l8.5 14.3l-8.4 14.7l8.5 14.3l-8.3 14.7l8.4 14.3l16.8 -0.4l8.4 -14.7l16.8 -0.4l8.3 -14.8l16.8 -0.4l8.3 -14.7l16.8 -0.4l8.5 14.3l16.8 -0.4l8.4 14.3l16.8 -0.4l8.5 14.3l16.8 -0.4l8.4 14.3l-8.3 14.8l8.4 14.3l-8.3 14.7l8.4 14.3l-8.3 14.7l8.4 14.4l16.8 -0.4l8.4 -14.7l16.8 -0.4l8.3 -14.8l16.8 -0.3l8.4 14.3l16.8 -0.4l8.5 14.3l16.7 -0.4l8.5 14.4l16.8 -0.4l8.4 14.3l16.8 -0.3l8.4 14.3l16.8 -0.4l8.4 14.4l-8.3 14.7l8.4 14.3l16.8 -0.4l8.4 14.4l16.7 -0.4l8.5 14.4l-8.4 14.7l8.4 14.3l16.8 -0.4l8.4 14.4l16.8 -0.4l8.4 14.4l-8.4 14.7l8.4 14.3l-8.3 14.7l-16.8 0.4l-8.4 -14.4l-16.7 0.4l-8.4 14.7l-16.8 0.3l-8.3 14.7l-16.8 0.4l-8.3 14.7l-16.8 0.4l-8.4 -14.4l8.3 -14.7l-8.4 -14.3l-16.7 0.4l-8.5 -14.4l-16.7 0.4l-8.5 -14.3l8.4 -14.7l16.8 -0.4l8.3 -14.7l-8.4 -14.3l-16.8 0.3l-8.4 -14.3l-16.8 0.4l-8.3 14.7l-16.8 0.4l-8.3 14.7l-16.8 0.4l-8.4 14.7l-16.7 0.4l-8.4 14.7l-16.7 0.4l-8.4 14.7l8.5 14.3l-8.4 14.8l-16.7 0.4l-8.5 -14.4l-16.7 0.5l-8.3 14.7l-16.8 0.4l-8.4 -14.3l8.3 -14.8l-8.5 -14.3l8.4 -14.7l-8.5 -14.3l8.3 -14.7l-8.4 -14.4l8.3 -14.7l-8.4 -14.3l-16.8 0.4l-8.3 14.7l-16.8 0.5l-8.5 -14.3l8.4 -14.8l-8.5 -14.3l8.3 -14.7l-8.4 -14.3l-16.8 0.4l-8.4 -14.3l8.3 -14.7l16.8 -0.5l8.3 -14.7l-8.5 -14.3l-16.7 0.4l-8.5 -14.3l8.3 -14.7l-8.4 -14.3l-16.8 0.4l-8.5 -14.3l-16.8 0.4l-8.5 -14.3l-16.7 0.4l-8.4 14.8zM458.2 288.7l8.5 14.3l16.8 -0.4l8.3 -14.8l16.9 -0.5l8.3 -14.7l-8.5 -14.3l-16.8 0.5l-8.4 14.7l-16.8 0.5zM535.1 475.4l8.3 -14.8l16.8 -0.4l8.3 -14.8l-8.5 -14.3l-16.8 0.5l-8.5 -14.3l8.3 -14.8l-8.5 -14.2l-16.8 0.4l-8.3 14.8l-16.8 0.5l-8.5 -14.3l-16.8 0.4l-8.3 14.8l8.5 14.3l-8.3 14.7l-16.8 0.5l-8.3 14.8l8.5 14.3l16.8 -0.5l8.3 -14.8l16.8 -0.4l8.5 14.2l16.8 -0.4l8.5 14.2zM358.7 495l8.5 14.2l16.8 -0.5l8.5 14.3l16.8 -0.5l8.6 14.3l16.8 -0.5l8.3 -14.7l-8.5 -14.3l8.3 -14.8l-8.5 -14.3l-16.9 0.5l-8.3 14.8l-16.8 0.5l-8.5 -14.3l-16.8 0.5zM747.7 977.9l-8.3 14.8l8.5 14.3l16.7 -0.5l8.3 -14.7l-8.4 -14.3zM619.5 531.1l-8.5 -14.2l-16.8 0.4l-8.3 14.8l-16.8 0.4l-8.4 14.8l8.5 14.3l-8.3 14.7l-16.8 0.5l-8.3 14.7l8.5 14.3l16.8 -0.4l8.3 -14.8l16.8 -0.5l8.3 -14.7l16.8 -0.5l8.3 -14.7l-8.5 -14.3zM522 1056.6l-8.3 14.8l-16.7 0.5l-8.5 -14.3l8.3 -14.8l16.7 -0.4zM623.5 1228.1l-8.3 14.8l8.5 14.2l-8.3 14.8l-16.7 0.5l-8.3 14.7l-16.7 0.5l-8.5 -14.3l8.3 -14.8l-8.5 -14.3l8.3 -14.7l-8.5 -14.3l8.3 -14.8l-8.4 -14.2l8.3 -14.8l16.7 -0.5l8.4 14.3l-8.2 14.8l8.4 14.3l16.7 -0.5zM688.9 935.9l8.4 14.3l16.8 -0.4l8.3 -14.8l16.7 -0.4l8.5 14.3l16.8 -0.5l8.3 -14.7l-8.5 -14.3l-16.8 0.4l-8.4 -14.3l-16.8 0.5l-8.3 14.7l-16.7 0.5zM418.7 653l-8.3 14.7l-16.8 0.5l-8.5 -14.3l8.3 -14.7l-8.5 -14.3l8.3 -14.8l16.8 -0.5l8.5 14.3l-8.3 14.8zM562.9 895.8l-16.8 0.4l-8.5 -14.3l-16.7 0.5l-8.3 14.8l8.5 14.2l-8.3 14.8l8.5 14.3l16.7 -0.5l8.3 -14.7l16.8 -0.5l8.3 -14.8zM471.9 1087.1l-8.2 14.8l-16.8 0.5l-8.5 -14.3l8.3 -14.8l16.8 -0.5zM798 976.6l16.8 -0.4l8.3 -14.7l-8.5 -14.3l-16.7 0.4l-8.3 14.7zM798.8 1150.9l-8.3 14.7l8.5 14.3l-8.3 14.7l-16.8 0.5l-8.4 -14.3l8.3 -14.8l-8.4 -14.3l8.3 -14.7l16.7 -0.4zM695.9 688.8l-8.3 14.8l8.5 14.3l-8.3 14.7l-16.8 0.5l-8.5 -14.3l8.3 -14.8l-8.5 -14.3l8.4 -14.7l16.7 -0.5zM620.6 734.4l-8.3 14.8l-16.7 0.4l-8.3 14.8l-16.8 0.4l-8.5 -14.2l8.3 -14.8l-8.5 -14.3l8.3 -14.7l16.8 -0.5l8.5 14.3l16.8 -0.5zM470.2 825.7l-8.3 14.8l8.5 14.3l-8.3 14.7l-16.8 0.5l-8.5 -14.2l8.3 -14.8l-8.5 -14.3l8.3 -14.7l16.8 -0.5zM773.5 1107.9l-8.3 14.8l-16.7 0.4l-8.5 -14.3l8.3 -14.7l16.8 -0.5z"/>
<path fill="#00441b" d="M661.9 602.6l8.3 -14.7l16.8 -0.5l8.5 14.3l16.7 -0.4l8.5 14.3l16.8 -0.5l8.5 14.3l-8.3 14.8l-16.8 0.4l-8.3 14.8l-16.8 0.4l-8.4 14.7l-16.7 0.5l-8.4 14.7l8.5 14.3l-8.3 14.8l8.5 14.3l16.8 -0.5l8.3 -14.7l16.8 -0.5l8.4 14.3l16.8 -0.4l8.5 14.3l-8.3 14.7l8.4 14.3l-8.3 14.8l-16.8 0.4l-8.4 -14.3l-16.8 0.5l-8.5 -14.3l-16.8 0.4l-8.3 14.8l-16.7 0.4l-8.3 14.8l8.4 14.2l-8.3 14.8l-16.8 0.4l-8.3 14.8l-16.7 0.5l-8.5 -14.3l-16.8 0.4l-8.4 -14.3l-16.8 0.5l-8.3 14.8l8.5 14.2l-8.3 14.8l-16.8 0.5l-8.5 -14.3l-16.8 0.5l-8.2 14.7l8.4 14.3l-8.3 14.8l8.5 14.2l-8.3 14.8l-16.7 0.5l-8.3 14.7l-16.8 0.5l-8.3 14.8l-16.7 0.5l-8.5 -14.3l8.3 -14.8l-8.5 -14.3l8.3 -14.7l16.7 -0.5l8.3 -14.8l16.8 -0.5l8.3 -14.7l-8.5 -14.3l8.3 -14.8l-8.5 -14.2l-16.8 0.5l-8.4 -14.3l8.2 -14.8l-8.4 -14.3l-16.8 0.5l-8.5 -14.3l8.3 -14.7l-8.5 -14.3l8.3 -14.8l-8.5 -14.2l8.3 -14.8l-8.5 -14.3l8.3 -14.7l-8.5 -14.3l8.3 -14.8l-8.5 -14.3l-16.8 0.5l-8.5 -14.2l-16.8 0.4l-8.5 -14.2l8.3 -14.8l-8.5 -14.3l8.2 -14.7l16.8 -0.5l8.6 14.3l16.8 -0.5l8.5 14.2l16.8 -0.4l8.3 -14.8l16.8 -0.5l8.4 14.3l16.8 -0.5l8.3 -14.7l16.8 -0.5l8.5 14.3l-8.3 14.7l8.5 14.3l-8.3 14.8l8.5 14.2l16.8 -0.4l8.5 14.3l16.8 -0.5l8.3 -14.8l16.8 -0.4l8.5 14.3l16.8 -0.5l8.3 -14.7l16.8 -0.5l8.3 -14.7zM562 750.6l8.5 14.2l16.8 -0.4l8.3 -14.8l16.7 -0.4l8.3 -14.8l-8.4 -14.3l-16.8 0.5l-8.5 -14.3l-16.8 0.5l-8.3 14.7l8.5 14.3zM572.8 1142.4l-8.3 14.7l-16.7 0.5l-8.5 -14.3l8.3 -14.8l-8.5 -14.2l-16.7 0.4l-8.5 -14.3l-16.7 0.5l-8.5 -14.3l-16.8 0.5l-8.4 -14.3l8.2 -14.7l16.8 -0.5l8.5 14.3l16.7 -0.5l8.5 14.3l16.7 -0.5l8.5 14.3l16.7 -0.5l8.5 14.3l-8.3 14.8zM823.1 961.5l-8.3 14.7l-16.8 0.4l-8.4 -14.3l8.3 -14.7l16.7 -0.4zM646.7 893.5l-8.3 14.7l8.5 14.3l-8.3 14.8l-16.8 0.4l-8.3 14.8l-16.7 0.4l-8.3 14.8l-16.8 0.4l-8.5 -14.3l8.3 -14.7l16.8 -0.5l8.3 -14.7l-8.5 -14.3l8.3 -14.8l16.8 -0.4l8.3 -14.8l16.7 -0.4l8.3 -14.8l16.8 -0.4l8.5 14.3l-8.3 14.7zM442.8 492.5l-8.3 14.8l8.5 14.3l-8.3 14.7l-16.8 0.5l-8.6 -14.3l-16.8 0.5l-8.5 -14.3l-16.8 0.5l-8.5 -14.2l8.3 -14.8l16.8 -0.5l8.5 14.3l16.8 -0.5l8.3 -14.8l16.9 -0.5zM471.6 1029l-8.3 14.8l-16.8 0.5l-8.5 -14.3l8.3 -14.8l16.8 -0.5zM511.8 781l8.3 -14.8l-8.4 -14.2l-16.8 0.4l-8.3 14.8l8.5 14.3zM772.9 991.8l-8.3 14.7l-16.7 0.5l-8.5 -14.3l8.3 -14.8l16.8 -0.4zM748.3 1094.1l-8.3 14.7l8.5 14.3l16.7 -0.4l8.5 14.3l-8.3 14.7l8.4 14.3l-8.3 14.8l-16.7 0.4l-8.3 14.7l-16.8 0.5l-8.3 14.7l-16.7 0.5l-8.4 -14.3l-16.8 0.4l-8.4 -14.3l8.3 -14.7l-8.5 -14.3l8.3 -14.8l-8.4 -14.3l8.3 -14.7l-8.5 -14.3l8.3 -14.7l16.7 -0.5l8.3 -14.7l16.8 -0.5l8.4 14.3l16.8 -0.4zM491.8 287.8l-8.3 14.8l-16.8 0.4l-8.5 -14.3l8.3 -14.7l16.8 -0.5l8.4 -14.7l16.8 -0.5l8.5 14.3l-8.3 14.7zM972.8 667.3l-8.3 14.8l8.4 14.3l-8.3 14.7l-16.8 0.4l-8.4 -14.3l-16.8 0.4l-8.4 14.7l-16.7 0.4l-8.5 -14.3l8.3 -14.7l-8.4 -14.3l8.3 -14.7l16.8 -0.5l8.3 -14.7l16.8 -0.4l8.4 -14.7l16.8 -0.4l8.4 14.3l-8.3 14.7z"/>
</g>
<use href="#seams"/>
<text x="9.5" y="1341.4" font-size="33.6" textLength="719" lengthAdjust="spacingAndGlyphs" stroke="#fff" stroke-width="8.3" stroke-linejoin="round" paint-order="stroke">(C) OpenStreetMap contributors (C) CARTO</text>
<rect x="1191.1" y="21.3" width="520.4" height="315.1" rx="8" fill="#fff" fill-opacity="0.8" stroke="#ccc" stroke-opacity="0.8" stroke-width="4.2"/>
<circle cx="1249.3" cy="54.5" r="20.7" fill="#f7fcf5" fill-opacity="0.7"/>
<text x="1336.8" y="68.7" font-size="42.4" textLength="159.0" lengthAdjust="spacingAndGlyphs">150.16,</text>
<text x="1522.3" y="68.7" font-size="42.4" textLength="145.8" lengthAdjust="spacingAndGlyphs">659.51</text>
<circle cx="1249.3" cy="115.2" r="20.7" fill="#c7e9c0" fill-opacity="0.7"/>
<text x="1336.8" y="129.4" font-size="42.4" textLength="159.0" lengthAdjust="spacingAndGlyphs">659.51,</text>
<text x="1522.3" y="129.4" font-size="42.4" textLength="145.8" lengthAdjust="spacingAndGlyphs">837.09</text>
<circle cx="1249.3" cy="176.0" r="20.7" fill="#73c476" fill-opacity="0.7"/>
<text x="1336.8" y="190.2" font-size="42.4" textLength="159.0" lengthAdjust="spacingAndGlyphs">837.09,</text>
<text x="1509.1" y="190.2" font-size="42.4" textLength="172.2" lengthAdjust="spacingAndGlyphs">1036.88</text>
<circle cx="1249.3" cy="236.8" r="20.7" fill="#228a44" fill-opacity="0.7"/>
<text x="1323.6" y="250.9" font-size="42.4" textLength="185.5" lengthAdjust="spacingAndGlyphs">1036.88,</text>
<text x="1522.3" y="250.9" font-size="42.4" textLength="172.2" lengthAdjust="spacingAndGlyphs">1473.84</text>
<circle cx="1249.3" cy="297.5" r="20.7" fill="#00441b" fill-opacity="0.7"/>
<text x="1323.6" y="311.7" font-size="42.4" textLength="185.5" lengthAdjust="spacingAndGlyphs">1473.84,</text>
<text x="1522.3" y="311.7" font-size="42.4" textLength="172.2" lengthAdjust="spacingAndGlyphs">3394.99</text>
</g>
<text x="896.5" y="1918.9" font-size="50.9" text-anchor="middle" textLength="127.2" lengthAdjust="spacingAndGlyphs">2010</text>
<g transform="translate(30,1944)" clip-path="url(#cp)">
<use href="#base"/>
<g fill-opacity="0.7">
<path fill="#f7fcf5" d="M496.8 1042.8l-8.3 14.8l-16.8 0.5l-8.4 -14.3l8.3 -14.8l16.7 -0.4l8.3 -14.8l16.7 -0.5l8.5 14.3l-8.3 14.8z"/>
<path fill="#c7e9c0" d="M1025 1188.9l-8.4 -14.3l8.3 -14.8l16.7 -0.4l8.3 -14.7l-8.4 -14.3l8.3 -14.7l-8.4 -14.3l8.3 -14.8l-8.4 -14.3l8.3 -14.7l-8.4 -14.3l8.3 -14.7l16.8 -0.4l8.3 -14.7l-8.4 -14.4l8.3 -14.7l-8.4 -14.3l8.3 -14.7l16.8 -0.4l8.3 -14.7l16.8 -0.4l8.4 14.3l16.8 -0.3l8.3 -14.7l-8.4 -14.4l8.3 -14.7l16.8 -0.4l8.4 14.4l16.8 -0.4l8.4 14.3l16.8 -0.3l8.3 -14.7l-8.4 -14.4l8.3 -14.7l16.8 -0.3l8.4 -14.7l16.7 -0.4l8.4 14.4l16.8 -0.4l8.4 14.3l16.8 -0.3l8.3 -14.7l-8.4 -14.3l8.4 -14.7l-8.4 -14.4l8.3 -14.7l-8.4 -14.3l-16.8 0.3l-8.3 14.7l-16.8 0.4l-8.4 -14.4l8.4 -14.7l-8.5 -14.3l-16.7 0.4l-8.5 -14.4l8.4 -14.7l-8.4 -14.3l-16.8 0.3l-8.4 -14.3l-16.8 0.4l-8.4 -14.4l8.3 -14.7l-8.4 -14.3l8.4 -14.7l-8.5 -14.4l8.4 -14.7l-8.4 -14.3l-16.8 0.4l-8.5 -14.4l8.4 -14.7l-8.4 -14.3l-16.8 0.4l-8.5 -14.4l-16.8 0.4l-8.4 -14.3l-16.8 0.4l-8.3 14.7l-16.8 0.4l-8.5 -14.4l-16.8 0.4l-8.4 -14.3l-16.8 0.4l-8.4 14.7l8.5 14.3l-8.4 14.8l-16.8 0.3l-8.4 -14.3l8.3 -14.7l-8.4 -14.3l-16.8 0.4l-8.5 -14.3l-16.8 0.4l-8.3 14.7l-16.8 0.4l-8.5 -14.3l-16.8 0.4l-8.4 -14.3l-16.8 0.4l-8.4 14.7l-16.8 0.5l-8.3 14.7l-16.8 0.4l-8.5 -14.3l8.4 -14.7l-8.5 -14.3l8.3 -14.8l-8.4 -14.3l8.3 -14.7l16.8 -0.4l8.3 -14.8l16.9 -0.4l8.3 -14.7l-8.5 -14.3l8.4 -14.8l-8.5 -14.3l8.3 -14.7l16.9 -0.4l8.3 -14.7l-8.5 -14.4l-16.8 0.5l-8.5 -14.3l8.4 -14.8l-8.5 -14.3l-16.8 0.4l-8.3 14.8l-16.9 0.4l-8.4 -14.3l-16.9 0.4l-8.4 -14.3l-16.9 0.4l-8.5 -14.3l8.4 -14.7l16.8 -0.4l8.4 -14.8l-8.5 -14.3l8.3 -14.7l-8.5 -14.3l-16.8 0.4l-8.3 14.7l-16.9 0.5l-8.5 -14.3l-16.8 0.4l-8.3 14.8l-16.9 0.4l-8.5 -14.3l8.4 -14.7l-8.5 -14.3l8.3 -14.8l16.9 -0.4l8.5 14.3l16.8 -0.5l8.3 -14.7l16.9 -0.4l8.5 14.3l16.8 -0.5l8.3 -14.7l16.9 -0.4l8.5 14.3l16.8 -0.4l8.4 -14.8l16.8 -0.4l8.5 14.3l16.8 -0.4l8.4 -14.7l16.8 -0.4l8.5 14.3l16.8 -0.4l8.4 -14.7l16.8 -0.5l8.5 14.4l16.8 -0.4l8.4 -14.8l16.8 -0.3l8.5 14.3l16.8 -0.4l8.4 -14.7l16.8 -0.4l8.5 14.3l16.8 -0.4l8.4 -14.7l16.8 -0.4l8.5 14.4l16.8 -0.4l8.4 -14.7l16.8 -0.4l8.5 14.3l16.8 -0.3l8.4 -14.7l16.9 -0.4l8.4 14.3l16.8 -0.3l8.4 -14.7l16.9 -0.4l8.4 14.4l16.8 -0.4l8.4 -14.7l16.9 -0.3l8.4 14.3l16.9 -0.3l8.3 -14.7l16.9 -0.4l8.4 14.4l16.9 -0.4l8.4 -14.7l16.8 -0.3l8.4 14.4l16.9 -0.4l8.4 -14.6l16.8 -0.4l8.4 14.4l16.9 -0.3l8.4 -14.7l16.8 -0.3l8.4 14.3l16.9 -0.3l8.4 -14.7l16.8 -0.3l8.4 14.4l16.9 -0.3l8.4 -14.7l16.8 -0.3l8.5 14.4l16.8 -0.3l8.4 14.3l-8.4 14.7l8.4 14.4l-8.4 14.7l8.4 14.3l-8.4 14.7l8.4 14.4l-8.4 14.6l8.4 14.4l-8.4 14.7l8.4 14.3l-8.5 14.7l8.5 14.4l-8.5 14.7l8.4 14.3l-8.4 14.7l8.4 14.4l-8.4 14.6l8.4 14.4l-8.4 14.7l8.4 14.3l-8.4 14.7l8.4 14.4l-8.4 14.7l8.4 14.3l-8.4 14.7l8.4 14.4l-8.4 14.6l8.4 14.4l-8.4 14.7l-16.8 0.3l-8.4 14.6l8.4 14.4l-8.4 14.7l8.4 14.4l-8.4 14.6l8.4 14.4l-8.4 14.7l8.4 14.3l-8.4 14.7l8.4 14.4l-8.4 14.6l8.4 14.4l-8.4 14.7l8.4 14.4l-8.4 14.6l8.4 14.4l-8.4 14.7l8.4 14.3l-8.4 14.7l8.4 14.4l-8.4 14.6l8.4 14.4l-8.4 14.7l8.4 14.4l-8.4 14.6l8.3 14.4l-8.3 14.7l8.3 14.3l-8.3 14.7l8.3 14.4l-8.3 14.6l8.3 14.4l-8.3 14.7l8.3 14.4l-8.3 14.6l8.3 14.4l-8.3 14.7l8.3 14.3l-8.3 14.7l-16.8 0.3l-8.3 14.7l-16.8 0.3l-8.4 -14.4l-16.7 0.3l-8.4 14.7l-16.7 0.3l-8.3 14.7l-16.8 0.3l-8.4 -14.3l-16.7 0.3l-8.3 14.7l-16.8 0.3l-8.4 -14.4l-16.7 0.4l-8.3 14.7l-16.8 0.3l-8.4 -14.4l-16.7 0.4l-8.3 14.7l-16.8 0.3l-8.3 14.7l-16.8 0.3l-8.3 -14.3l-16.8 0.3l-8.3 14.7l-16.8 0.4l-8.3 -14.3l-16.8 0.3l-8.3 14.7l-16.7 0.4l-8.4 -14.4l-16.8 0.4l-8.3 14.7l-16.7 0.4l-8.4 14.7l-16.7 0.4l-8.4 -14.4l-16.7 0.4l-8.4 14.7l-16.7 0.4l-8.4 -14.3l-16.7 0.3l-8.4 14.8l-16.7 0.3l-8.4 -14.3l-16.7 0.4l-8.3 14.7l-16.8 0.4l-8.4 -14.3l8.3 -14.7l16.8 -0.4zM543.2 431.6l-8.3 14.7l-16.8 0.5l-8.3 14.8l-16.8 0.4l-8.5 -14.2l8.3 -14.8l16.8 -0.5l8.3 -14.7l-8.5 -14.3l8.3 -14.8l16.8 -0.4l8.5 14.2l-8.3 14.8zM848.9 1120.6l-8.3 14.7l-16.7 0.4l-8.3 14.7l-16.8 0.5l-8.4 -14.3l-16.7 0.4l-8.5 -14.3l8.3 -14.8l16.8 -0.4l8.3 -14.7l16.7 -0.4l8.3 -14.8l16.8 -0.4l8.3 -14.7l-8.5 -14.3l8.3 -14.8l16.8 -0.4l8.4 14.3l16.8 -0.4l8.4 14.3l-8.3 14.7l-16.7 0.5l-8.4 14.7l8.5 14.3l-8.3 14.7zM847.8 859.2l-8.4 14.7l-16.7 0.4l-8.5 -14.3l8.3 -14.7l16.8 -0.4l8.3 -14.7l16.8 -0.5l8.5 14.3l16.7 -0.4l8.5 14.3l-8.4 14.8l-16.7 0.4l-8.5 -14.3zM572.4 1084.3l-8.3 14.7l-16.7 0.5l-8.5 -14.3l8.3 -14.7l16.8 -0.5z"/>
<path fill="#73c476" d="M848.7 1062.5l-8.3 14.7l-16.8 0.4l-8.3 14.8l-16.7 0.4l-8.5 -14.3l8.3 -14.8l16.8 -0.4l8.3 -14.7l16.7 -0.4zM820.4 380.7l16.8 -0.5l8.5 14.4l16.8 -0.5l8.5 14.3l-8.4 14.8l8.5 14.3l-8.3 14.7l-16.9 0.4l-8.3 14.8l-16.8 0.4l-8.3 14.7l-16.8 0.4l-8.4 14.8l-16.8 0.4l-8.4 -14.3l-16.9 0.4l-8.4 -14.3l8.3 -14.7l-8.5 -14.3l8.4 -14.7l-8.5 -14.3l8.3 -14.8l16.8 -0.4l8.4 -14.8l16.8 -0.4l8.3 -14.7l16.8 -0.4zM1149.1 677.8l-8.3 14.7l-16.8 0.4l-8.5 -14.4l-16.7 0.4l-8.5 -14.3l8.4 -14.7l-8.5 -14.3l-16.8 0.3l-8.3 14.8l-16.8 0.3l-8.3 14.8l-16.8 0.4l-8.5 -14.4l-16.8 0.4l-8.4 -14.3l8.3 -14.7l16.8 -0.4l8.4 -14.7l-8.5 -14.3l8.4 -14.8l-8.5 -14.3l8.4 -14.7l16.8 -0.4l8.4 14.3l16.8 -0.4l8.5 14.4l16.8 -0.4l8.3 -14.7l16.8 -0.4l8.4 14.3l16.8 -0.4l8.5 14.4l16.8 -0.4l8.4 14.3l-8.4 14.7l8.5 14.4l16.8 -0.4l8.4 14.3l-8.4 14.7l8.5 14.4l-8.4 14.7l8.4 14.3l-8.3 14.7l-16.8 0.4l-8.4 -14.3l8.3 -14.7l-8.4 -14.4zM1040.7 898.1l-16.7 0.4l-8.5 -14.3l-16.7 0.3l-8.4 14.8l-16.7 0.4l-8.5 -14.4l-16.7 0.5l-8.3 14.7l-16.8 0.4l-8.4 -14.3l-16.8 0.4l-8.5 -14.3l8.4 -14.8l-8.5 -14.3l-16.7 0.4l-8.5 -14.3l-16.8 0.5l-8.3 14.7l-16.8 0.4l-8.3 14.7l-16.7 0.5l-8.5 -14.3l8.3 -14.8l-8.4 -14.3l8.3 -14.7l-8.5 -14.3l8.3 -14.8l16.8 -0.4l8.3 -14.7l16.8 -0.4l8.3 -14.8l16.8 -0.4l8.3 -14.7l16.8 -0.4l8.5 14.3l16.8 -0.4l8.4 14.3l-8.3 14.7l8.4 14.3l-8.3 14.7l8.4 14.4l-8.3 14.7l8.5 14.3l16.7 -0.4l8.5 14.3l16.7 -0.4l8.4 -14.7l16.7 -0.4l8.5 14.3l16.7 -0.4l8.4 -14.7l16.7 -0.4l8.4 -14.7l16.8 -0.4l8.3 -14.7l16.8 -0.4l8.4 14.3l16.8 -0.4l8.4 14.4l-8.4 14.7l8.5 14.3l-8.4 14.7l8.5 14.4l16.7 -0.4l8.4 -14.7l16.7 -0.4l8.4 14.3l-8.3 14.7l-16.8 0.4l-8.3 14.7l8.4 14.4l-8.3 14.7l-16.8 0.3l-8.4 -14.3l-16.8 0.4l-8.3 14.7l-16.8 0.4l-8.3 14.7l8.4 14.3l-8.3 14.7l8.4 14.4l-8.3 14.7l-16.8 0.4l-8.4 -14.4l8.4 -14.7l-8.5 -14.3l-16.7 0.4l-8.5 -14.3l-16.7 0.4l-8.4 -14.4l8.3 -14.7l16.7 -0.4l8.4 -14.7l16.7 -0.4l8.4 -14.7zM522 1056.6l-8.3 14.8l-16.7 0.5l-8.5 -14.3l8.3 -14.8l16.7 -0.4zM568.5 445.4l-8.3 14.8l-16.8 0.4l-8.3 14.8l-16.8 0.4l-8.5 -14.2l8.3 -14.8l16.8 -0.5l8.3 -14.7l16.8 -0.5zM769.4 265.8l-8.4 14.7l-16.8 0.5l-8.5 -14.3l8.4 -14.8l16.8 -0.4l8.3 -14.8l-8.4 -14.3l8.3 -14.7l16.8 -0.4l8.5 14.3l-8.3 14.7l8.5 14.3l-8.4 14.8zM1025 1188.9l-8.3 14.7l-16.8 0.4l-8.4 -14.3l8.3 -14.8l16.8 -0.3zM899 1090.3l-8.3 14.7l-16.7 0.4l-8.5 -14.3l8.4 -14.7l16.7 -0.5zM964 565.9l-16.8 0.4l-8.4 -14.3l8.3 -14.7l16.8 -0.4l8.5 14.3l16.8 -0.4l8.4 14.3l-8.3 14.7l-16.8 0.4zM1325.6 833.7l-8.3 14.7l-16.8 0.4l-8.4 -14.4l8.3 -14.7l16.8 -0.3zM1250 762.7l-8.4 14.7l-16.7 0.4l-8.4 -14.4l8.3 -14.7l16.8 -0.3zM1325.7 891.8l-8.3 14.7l-16.8 0.3l-8.4 -14.3l8.3 -14.7l16.8 -0.3zM873 873.1l-8.3 14.7l-16.8 0.4l-8.5 -14.3l8.4 -14.7l16.7 -0.4zM669.5 471.7l-8.3 14.8l-16.8 0.4l-8.3 14.8l-16.8 0.4l-8.5 -14.3l-16.8 0.5l-8.5 -14.3l8.3 -14.8l16.8 -0.4l8.4 -14.8l16.8 -0.4l8.5 14.3l16.8 -0.5l8.3 -14.7l16.8 -0.5l8.5 14.3l-8.4 14.8zM659.6 196.1l-16.8 0.4l-8.5 -14.3l8.3 -14.7l16.8 -0.5l8.5 14.3l16.9 -0.4l8.5 14.3l-8.4 14.7l-16.8 0.5zM1049.9 1144.7l-8.3 14.7l-16.7 0.4l-8.5 -14.3l8.4 -14.7l16.7 -0.4zM870.6 321.3l-8.4 14.8l-16.8 0.4l-8.4 -14.3l8.3 -14.8l16.8 -0.4zM597.6 1098.1l-8.3 14.8l-16.7 0.4l-8.5 -14.3l8.3 -14.7l16.8 -0.5z"/>
<path fill="#228a44" d="M872.1 669.8l-8.3 14.7l-16.8 0.5l-8.5 -14.4l-16.8 0.5l-8.4 -14.3l8.3 -14.8l-8.5 -14.3l8.4 -14.7l16.8 -0.4l8.4 14.3l-8.3 14.7l8.5 14.3l16.7 -0.4zM870.8 379.4l-8.3 14.7l-16.8 0.5l-8.5 -14.4l-16.8 0.5l-8.5 -14.3l-16.8 0.4l-8.3 14.7l-16.8 0.4l-8.4 14.8l-16.8 0.4l-8.3 14.8l8.5 14.3l-8.4 14.7l8.5 14.3l-8.3 14.7l-16.8 0.5l-8.4 14.7l-16.8 0.5l-8.3 14.7l-16.8 0.5l-8.3 14.7l-16.8 0.4l-8.5 -14.2l8.3 -14.8l16.8 -0.4l8.3 -14.8l16.8 -0.4l8.4 -14.8l-8.5 -14.3l-16.8 0.5l-8.3 14.7l-16.8 0.5l-8.5 -14.3l-16.8 0.4l-8.4 14.8l-16.8 0.4l-8.3 14.8l-16.8 0.4l-8.5 -14.2l8.3 -14.8l16.8 -0.5l8.4 -14.7l16.8 -0.5l8.3 -14.7l16.8 -0.5l8.5 14.3l16.8 -0.4l8.3 -14.8l-8.5 -14.3l8.4 -14.7l-8.5 -14.3l8.3 -14.7l-8.5 -14.3l-16.8 0.4l-8.5 -14.3l-16.8 0.5l-8.3 14.7l8.4 14.3l-8.3 14.8l-16.8 0.4l-8.5 -14.3l-16.8 0.5l-8.5 -14.3l-16.8 0.5l-8.3 14.7l8.5 14.3l16.8 -0.5l8.5 14.3l-8.3 14.8l8.4 14.3l-8.3 14.7l-16.8 0.5l-8.5 -14.3l8.3 -14.8l-8.5 -14.2l-16.8 0.4l-8.3 14.8l8.5 14.3l-8.3 14.7l-16.8 0.5l-8.3 14.8l8.5 14.2l16.8 -0.4l8.5 14.2l-8.3 14.8l-16.8 0.5l-8.5 -14.3l-16.8 0.5l-8.5 -14.3l-16.8 0.5l-8.5 -14.3l8.3 -14.8l16.8 -0.5l8.3 -14.7l-8.5 -14.3l8.3 -14.8l-8.5 -14.2l8.3 -14.8l-8.5 -14.3l8.3 -14.7l16.8 -0.5l8.3 -14.8l16.9 -0.4l8.3 -14.8l16.8 -0.5l8.3 -14.7l-8.5 -14.3l8.3 -14.8l-8.5 -14.2l8.4 -14.8l-8.6 -14.3l8.4 -14.7l-8.5 -14.3l8.3 -14.8l16.8 -0.4l8.4 -14.8l16.8 -0.5l8.5 14.3l16.8 -0.4l8.4 -14.8l16.8 -0.4l8.5 14.3l-8.3 14.7l8.5 14.3l16.8 -0.4l8.5 14.3l16.8 -0.5l8.5 14.3l16.9 -0.4l8.3 -14.8l16.8 -0.4l8.5 14.3l16.9 -0.5l8.4 14.3l-8.3 14.8l-16.8 0.4l-8.4 14.8l8.5 14.3l16.8 -0.5l8.5 14.3l16.9 -0.4l8.4 14.3l16.9 -0.4l8.4 14.3l16.9 -0.4l8.4 14.3l16.8 -0.4l8.5 14.3l16.8 -0.5l8.5 14.4l-8.3 14.7zM924 1046.1l-8.3 14.7l-16.8 0.4l-8.4 -14.3l-16.8 0.4l-8.4 -14.3l8.3 -14.7l16.8 -0.4l8.4 14.3l16.7 -0.4zM623 1141l-8.3 14.7l8.5 14.3l16.7 -0.4l8.5 14.3l-8.3 14.7l8.4 14.3l16.7 -0.4l8.5 14.3l16.7 -0.5l8.5 14.3l16.7 -0.4l8.3 -14.8l16.7 -0.4l8.5 14.3l16.7 -0.5l8.3 -14.7l16.7 -0.4l8.3 -14.8l16.8 -0.4l8.4 14.3l16.7 -0.4l8.4 14.3l-8.3 14.7l-16.7 0.5l-8.4 -14.3l-16.7 0.4l-8.3 14.7l-16.8 0.4l-8.3 14.8l-16.7 0.4l-8.4 -14.3l-16.8 0.5l-8.2 14.7l-16.8 0.4l-8.4 -14.3l-16.7 0.5l-8.3 14.7l-16.8 0.5l-8.4 -14.3l-16.7 0.4l-8.5 -14.2l8.3 -14.8l-8.5 -14.3l-16.7 0.5l-8.3 14.7l-16.7 0.5l-8.5 -14.3l8.3 -14.8l16.8 -0.4l8.2 -14.8l-8.4 -14.3l-16.7 0.5l-8.5 -14.3l8.3 -14.7l-8.5 -14.3l8.3 -14.8l16.7 -0.4l8.3 -14.8l16.8 -0.4l8.4 14.2l-8.3 14.8zM989.7 696l8.3 -14.7l-8.4 -14.4l8.3 -14.7l16.8 -0.4l8.5 14.4l16.8 -0.4l8.3 -14.8l16.8 -0.3l8.3 -14.8l16.8 -0.3l8.5 14.3l-8.4 14.7l8.5 14.3l16.7 -0.4l8.5 14.4l16.8 -0.4l8.3 -14.7l16.8 -0.4l8.4 14.4l-8.3 14.7l8.4 14.3l16.8 -0.4l8.4 14.4l16.8 -0.4l8.4 14.3l-8.3 14.7l8.4 14.4l16.7 -0.4l8.5 14.4l16.7 -0.4l8.5 14.3l-8.4 14.7l8.4 14.4l16.8 -0.4l8.4 14.4l16.8 -0.4l8.4 14.4l-8.4 14.7l-16.8 0.3l-8.3 14.7l-16.8 0.4l-8.4 -14.4l-16.7 0.4l-8.4 14.7l-16.8 0.3l-8.3 14.7l8.4 14.4l-8.3 14.7l-16.8 0.3l-8.4 -14.3l-16.8 0.4l-8.4 -14.4l8.3 -14.7l-8.4 -14.3l-16.7 0.4l-8.4 14.7l-16.7 0.4l-8.5 -14.4l8.4 -14.7l-8.5 -14.3l8.4 -14.7l-8.4 -14.4l-16.8 0.4l-8.4 -14.3l-16.8 0.4l-8.3 14.7l-16.8 0.4l-8.4 14.7l-16.7 0.4l-8.4 14.7l-16.7 0.4l-8.5 -14.3l-16.7 0.4l-8.4 14.7l-16.7 0.4l-8.5 -14.3l-16.7 0.4l-8.5 -14.3l8.3 -14.7l-8.4 -14.4l8.3 -14.7l-8.4 -14.3l8.3 -14.7l-8.4 -14.3l8.3 -14.8l16.8 -0.4l8.4 14.4l16.8 -0.5l8.3 -14.7l-8.4 -14.3l8.3 -14.7zM597.5 1069.1l-8.3 14.7l-16.8 0.5l-8.4 -14.3l-16.8 0.5l-8.3 14.7l-16.7 0.5l-8.5 -14.3l8.3 -14.8l16.7 -0.4l8.3 -14.8l16.8 -0.4l8.4 14.2l16.8 -0.4l8.3 -14.8l-8.5 -14.3l-16.7 0.5l-8.5 -14.3l-16.8 0.5l-8.4 -14.3l8.3 -14.8l16.7 -0.4l8.5 14.3l16.7 -0.5l8.3 -14.7l16.8 -0.5l8.5 14.3l-8.3 14.7l8.4 14.3l16.8 -0.4l8.3 -14.8l-8.5 -14.3l8.3 -14.7l16.8 -0.5l8.3 -14.7l16.7 -0.5l8.5 14.3l-8.3 14.8l-16.8 0.4l-8.3 14.8l8.5 14.3l-8.3 14.7l8.4 14.3l-8.3 14.8l-16.7 0.4l-8.5 -14.3l-16.7 0.5l-8.3 14.7zM847.2 743l-8.3 14.8l-16.8 0.4l-8.3 14.7l-16.8 0.4l-8.4 -14.3l8.3 -14.7l16.8 -0.4l8.3 -14.8l16.8 -0.4zM772.7 933.7l-8.3 14.7l8.4 14.3l16.8 -0.4l8.4 14.3l-8.3 14.8l-16.8 0.4l-8.4 -14.3l-16.8 0.4l-8.4 -14.3l-16.8 0.5l-8.4 -14.3l8.3 -14.8l-8.5 -14.3l8.3 -14.7l16.8 -0.5l8.3 -14.7l16.8 -0.4l8.3 -14.8l16.7 -0.4l8.5 14.3l-8.3 14.7l8.4 14.3l16.8 -0.4l8.3 -14.7l-8.4 -14.3l8.3 -14.8l16.7 -0.4l8.5 14.3l-8.3 14.8l8.4 14.3l-8.3 14.7l8.5 14.3l-8.4 14.7l-16.7 0.5l-8.5 -14.3l-16.7 0.4l-8.5 -14.3zM999.9 1204l-8.3 14.7l-16.7 0.4l-8.3 14.7l-16.8 0.4l-8.4 -14.3l8.3 -14.7l16.8 -0.4l8.3 -14.7l16.7 -0.4zM1049.2 912.4l-8.4 14.7l-16.7 0.4l-8.4 14.7l-16.7 0.4l-8.3 14.7l-16.8 0.4l-8.4 -14.3l8.3 -14.7l16.8 -0.4l8.3 -14.7l-8.5 -14.3l8.4 -14.8l16.7 -0.3l8.5 14.3l16.7 -0.4zM594.3 546.4l-8.3 14.7l8.5 14.3l-8.3 14.7l-16.8 0.5l-8.5 -14.3l8.3 -14.7l-8.5 -14.3l8.4 -14.8l16.8 -0.4l8.3 -14.8l16.8 -0.4l8.5 14.2l16.8 -0.4l8.4 14.3l-8.3 14.7l-16.8 0.5l-8.5 -14.3zM471.9 1087.1l-8.2 14.8l-16.8 0.5l-8.5 -14.3l8.3 -14.8l-8.5 -14.3l8.3 -14.7l16.8 -0.5l8.4 14.3l-8.2 14.7zM897.5 712.7l-8.4 14.8l-16.8 0.4l-8.4 -14.3l8.3 -14.8l16.8 -0.4zM846.5 568.8l-8.4 14.7l-16.8 0.4l-8.4 -14.3l8.3 -14.7l16.8 -0.4l8.3 -14.7l16.8 -0.5l8.4 -14.7l16.8 -0.4l8.4 14.3l-8.3 14.7l-16.8 0.4l-8.3 14.8zM465.9 186.9l-8.3 14.7l8.5 14.3l-8.3 14.8l8.5 14.2l-8.3 14.8l-16.8 0.5l-8.5 -14.3l8.3 -14.7l-8.5 -14.3l8.3 -14.8l-8.5 -14.3l8.3 -14.7l16.8 -0.5zM973.7 899.7l-8.3 14.7l-16.8 0.4l-8.4 -14.3l8.3 -14.7l16.7 -0.5zM316.4 452.6l-8.3 14.8l-16.8 0.5l-8.5 -14.2l8.3 -14.8l16.8 -0.5l8.3 -14.8l16.8 -0.5l8.5 14.3l-8.3 14.7zM797.3 831.4l-8.3 14.8l-16.8 0.4l-8.4 -14.3l8.3 -14.8l-8.5 -14.3l8.4 -14.7l16.7 -0.4l8.5 14.3l-8.3 14.7zM1049.5 1028.6l-8.3 14.7l8.4 14.3l-8.3 14.7l-16.7 0.4l-8.5 -14.3l8.4 -14.7l-8.5 -14.3l8.4 -14.8l-8.5 -14.3l-16.7 0.4l-8.4 -14.3l8.3 -14.7l16.7 -0.4l8.5 14.3l16.7 -0.4l8.5 14.3l-8.4 14.7zM947.2 566.3l-8.3 14.7l-16.8 0.4l-8.4 -14.3l8.3 -14.7l16.8 -0.4zM722.8 1022.1l-8.3 14.8l-16.7 0.4l-8.5 -14.3l8.3 -14.7l16.8 -0.5zM671.1 762.1l-8.3 14.8l-16.7 0.4l-8.5 -14.3l8.3 -14.7l16.8 -0.5zM1023 608.1l-8.4 14.7l-16.8 0.4l-8.4 -14.3l8.3 -14.8l16.8 -0.3zM820.9 496.8l-8.3 14.8l-16.8 0.4l-8.5 -14.3l8.4 -14.8l16.8 -0.4zM721.2 702.7l-8.3 14.7l-16.8 0.5l-8.5 -14.3l8.3 -14.8l16.8 -0.4zM496.6 1013.8l-8.3 14.8l-16.7 0.4l-8.5 -14.3l8.3 -14.7l16.7 -0.5zM1049.8 1115.7l-8.3 14.7l-16.7 0.4l-8.5 -14.3l8.4 -14.7l16.7 -0.4z"/>
<path fill="#00441b" d="M636.4 559.7l8.3 -14.7l-8.4 -14.3l-16.8 0.4l-8.5 -14.2l-16.8 0.4l-8.3 14.8l-16.8 0.4l-8.4 14.8l8.5 14.3l-8.3 14.7l8.5 14.3l16.8 -0.5l8.3 -14.7l-8.5 -14.3l8.3 -14.7l16.8 -0.5l8.5 14.3zM467.9 477.3l16.8 -0.5l8.5 14.3l16.8 -0.5l8.3 -14.8l16.8 -0.4l8.3 -14.8l16.8 -0.4l8.5 14.2l16.8 -0.4l8.5 14.3l16.8 -0.5l8.5 14.3l16.8 -0.4l8.5 14.2l16.8 -0.4l8.3 -14.7l16.8 -0.5l8.3 -14.7l16.8 -0.5l8.4 -14.7l16.8 -0.5l8.4 14.3l16.9 -0.4l8.4 14.3l16.8 -0.4l8.5 14.3l16.8 -0.4l8.5 14.3l-8.4 14.7l8.5 14.3l-8.3 14.7l8.4 14.3l16.8 -0.4l8.4 -14.7l16.8 -0.4l8.3 -14.8l16.8 -0.4l8.3 -14.7l16.8 -0.4l8.5 14.3l-8.3 14.7l8.4 14.3l16.8 -0.4l8.3 -14.7l16.8 -0.4l8.5 14.3l16.8 -0.4l8.4 14.3l-8.3 14.8l8.4 14.3l-8.3 14.7l8.4 14.3l-8.3 14.7l8.4 14.4l-8.3 14.7l-16.8 0.4l-8.3 14.7l8.4 14.3l-8.3 14.7l-16.8 0.5l-8.4 -14.4l-16.8 0.4l-8.3 14.8l-16.8 0.4l-8.5 -14.3l8.4 -14.8l-8.5 -14.3l-16.8 0.4l-8.3 14.8l8.4 14.3l-8.3 14.7l-16.8 0.4l-8.4 -14.3l-16.8 0.4l-8.3 14.8l-16.8 0.4l-8.3 14.7l8.4 14.3l-8.3 14.8l-16.7 0.4l-8.4 14.7l8.5 14.3l-8.3 14.8l8.4 14.3l16.8 -0.4l8.5 14.3l16.7 -0.5l8.5 14.3l-8.3 14.8l8.4 14.3l-8.3 14.7l-16.8 0.4l-8.4 -14.3l8.3 -14.7l-8.5 -14.3l-16.7 0.4l-8.3 14.8l-16.8 0.4l-8.3 14.7l-16.8 0.5l-8.3 14.7l8.5 14.3l-8.3 14.8l8.4 14.3l16.8 -0.5l8.4 14.3l16.8 -0.4l8.4 14.3l16.8 -0.4l8.3 -14.8l-8.4 -14.3l-16.8 0.4l-8.4 -14.3l8.3 -14.7l16.7 -0.4l8.5 14.3l16.7 -0.4l8.5 14.3l16.7 -0.5l8.4 -14.7l-8.5 -14.3l8.3 -14.7l-8.4 -14.3l8.3 -14.8l16.8 -0.4l8.3 -14.7l16.7 -0.4l8.5 14.3l16.8 -0.4l8.4 14.3l16.8 -0.4l8.4 14.3l16.8 -0.4l8.3 -14.7l16.7 -0.4l8.5 14.3l-8.3 14.7l-16.8 0.4l-8.3 14.7l8.4 14.3l16.8 -0.4l8.4 14.4l-8.3 14.7l8.4 14.3l16.7 -0.4l8.5 14.3l-8.4 14.8l8.5 14.3l-8.4 14.7l8.5 14.3l16.7 -0.4l8.4 14.3l-8.3 14.8l-16.7 0.4l-8.4 14.7l8.5 14.3l-8.4 14.7l8.5 14.3l-8.3 14.8l-16.8 0.3l-8.3 14.8l-16.7 0.4l-8.3 14.7l-16.8 0.4l-8.3 14.7l8.4 14.3l-8.3 14.8l-16.7 0.4l-8.4 -14.4l-16.8 0.5l-8.3 14.7l-16.7 0.4l-8.4 -14.3l-16.8 0.4l-8.4 -14.3l-16.7 0.4l-8.4 -14.3l-16.8 0.4l-8.3 14.8l-16.7 0.4l-8.3 14.7l-16.7 0.5l-8.5 -14.3l-16.7 0.4l-8.3 14.8l-16.7 0.4l-8.5 -14.3l-16.7 0.5l-8.5 -14.3l-16.7 0.4l-8.4 -14.3l8.3 -14.7l-8.5 -14.3l-16.7 0.4l-8.5 -14.3l8.3 -14.7l-8.5 -14.3l8.3 -14.8l-8.4 -14.2l-16.8 0.4l-8.4 -14.3l8.3 -14.7l16.7 -0.5l8.3 -14.7l16.7 -0.5l8.5 14.3l16.7 -0.4l8.3 -14.8l-8.4 -14.3l8.3 -14.7l-8.5 -14.3l8.3 -14.8l16.8 -0.4l8.3 -14.8l-8.5 -14.3l-16.7 0.5l-8.3 14.7l-16.8 0.5l-8.3 14.7l8.5 14.3l-8.3 14.8l-16.8 0.4l-8.4 -14.3l8.3 -14.7l-8.5 -14.3l-16.8 0.5l-8.3 14.7l-16.7 0.5l-8.5 -14.3l-16.7 0.4l-8.3 14.8l8.4 14.3l16.8 -0.5l8.5 14.3l16.7 -0.5l8.5 14.3l-8.3 14.8l-16.8 0.4l-8.4 -14.2l-16.8 0.4l-8.3 14.8l-16.7 0.4l-8.5 -14.2l8.3 -14.8l-8.5 -14.3l-16.7 0.5l-8.5 -14.3l-16.7 0.5l-8.3 14.7l8.5 14.3l-8.3 14.8l-16.8 0.5l-8.5 -14.3l8.3 -14.8l-8.5 -14.2l8.3 -14.8l-8.5 -14.3l8.3 -14.7l-8.5 -14.3l-16.7 0.5l-8.5 -14.3l8.3 -14.8l-8.5 -14.3l8.3 -14.7l16.7 -0.5l8.3 -14.8l-8.5 -14.2l8.3 -14.8l-8.5 -14.3l8.3 -14.7l-8.4 -14.3l8.2 -14.8l-8.4 -14.3l-16.8 0.5l-8.5 -14.3l8.3 -14.7l-8.5 -14.3l8.3 -14.8l-8.5 -14.2l8.3 -14.8l-8.5 -14.3l-16.8 0.5l-8.5 -14.3l8.3 -14.7l-8.5 -14.3l8.3 -14.8l-8.5 -14.2l-16.8 0.4l-8.5 -14.2l8.3 -14.8l-8.5 -14.3l8.2 -14.7l-8.5 -14.3l-16.8 0.5l-8.5 -14.3l8.3 -14.7l-8.5 -14.3l-16.8 0.5l-8.5 -14.3l8.3 -14.8l16.8 -0.5l8.3 -14.7l-8.5 -14.3l-16.8 0.5l-8.3 14.8l-16.8 0.5l-8.6 -14.3l-16.8 0.5l-8.5 -14.2l8.3 -14.8l-8.5 -14.3l-16.8 0.5l-8.6 -14.2l8.3 -14.8l-8.5 -14.3l-16.8 0.5l-8.5 -14.2l-16.9 0.5l-8.5 -14.3l8.3 -14.7l-8.5 -14.3l-16.9 0.5l-8.5 -14.2l-16.8 0.5l-8.6 -14.3l8.3 -14.7l-8.5 -14.3l-16.9 0.5l-8.5 -14.2l-16.8 0.5l-8.6 -14.2l8.3 -14.8l-8.5 -14.3l8.2 -14.8l16.9 -0.5l8.3 -14.8l16.8 -0.5l8.3 -14.8l16.9 -0.5l8.3 -14.8l-8.6 -14.3l8.3 -14.8l16.9 -0.5l8.3 -14.8l16.8 -0.5l8.5 14.3l16.9 -0.5l8.3 -14.8l16.8 -0.5l8.6 14.2l16.8 -0.5l8.3 -14.7l16.9 -0.5l8.5 14.2l-8.3 14.8l8.5 14.3l16.9 -0.5l8.3 -14.8l16.8 -0.5l8.6 14.3l16.8 -0.5l8.5 14.3l16.9 -0.5l8.5 14.2l16.9 -0.4l8.5 14.2l16.8 -0.5l8.5 14.3l16.9 -0.4l8.5 14.2l16.8 -0.4l8.3 -14.8l16.9 -0.5l8.5 14.3l-8.3 14.8l8.5 14.3l-8.4 14.7l8.6 14.3l-8.4 14.8l8.5 14.2l-8.3 14.8l8.5 14.3l-8.3 14.7l-16.8 0.5l-8.3 14.8l-16.9 0.4l-8.3 14.8l-16.8 0.5l-8.3 14.7l8.5 14.3l-8.3 14.8l8.5 14.2l-8.3 14.8l8.5 14.3l-8.3 14.7l-16.8 0.5l-8.3 14.8l8.5 14.3l16.8 -0.5zM572.8 1142.4l-8.3 14.7l-16.7 0.5l-8.5 -14.3l8.3 -14.8l-8.5 -14.2l-16.7 0.4l-8.5 -14.3l-16.7 0.5l-8.5 -14.3l-16.8 0.5l-8.4 -14.3l8.2 -14.7l16.8 -0.5l8.5 14.3l16.7 -0.5l8.5 14.3l16.7 -0.5l8.5 14.3l16.7 -0.5l8.5 14.3l-8.3 14.8zM466.1 215.9l-8.5 -14.3l8.3 -14.7l-8.5 -14.3l-16.8 0.5l-8.3 14.7l8.5 14.3l-8.3 14.8l8.5 14.3l-8.3 14.7l8.5 14.3l16.8 -0.5l8.3 -14.8l-8.5 -14.2zM721.2 702.7l-8.5 -14.3l-16.8 0.4l-8.3 14.8l8.5 14.3l16.8 -0.5zM623.5 1228.1l-8.3 14.8l8.5 14.2l-8.3 14.8l-16.7 0.5l-8.3 14.7l-16.7 0.5l-8.5 -14.3l8.3 -14.8l-8.5 -14.3l8.3 -14.7l16.7 -0.5l8.3 -14.7l16.7 -0.5zM813.3 656.8l8.4 14.3l16.8 -0.5l8.5 14.4l16.8 -0.5l8.3 -14.7l-8.5 -14.3l-16.7 0.4l-8.5 -14.3l8.3 -14.7l-8.4 -14.3l-16.8 0.4l-8.4 14.7l8.5 14.3zM873.6 1018.3l-8.3 14.7l-16.8 0.4l-8.3 14.8l-16.7 0.4l-8.3 14.7l-16.8 0.4l-8.3 14.8l8.5 14.3l-8.3 14.7l-16.8 0.4l-8.3 14.8l8.5 14.3l16.7 -0.4l8.4 14.3l16.8 -0.5l8.3 -14.7l16.7 -0.4l8.3 -14.7l16.8 -0.5l8.3 -14.7l16.7 -0.4l8.3 -14.7l-8.4 -14.4l8.3 -14.7l16.8 -0.4l8.3 -14.7l-8.5 -14.3l-16.7 0.4l-8.4 -14.3zM714.5 1036.9l8.3 -14.8l-8.4 -14.3l-16.8 0.5l-8.3 14.7l8.5 14.3zM669.1 384.6l-8.4 14.7l8.5 14.3l-8.3 14.8l-16.8 0.4l-8.5 -14.3l-16.8 0.5l-8.3 14.7l-16.8 0.5l-8.4 14.7l-16.8 0.5l-8.5 -14.3l8.3 -14.7l-8.4 -14.3l8.3 -14.8l-8.5 -14.3l-16.8 0.5l-8.5 -14.3l8.3 -14.7l16.8 -0.5l8.5 14.3l16.8 -0.5l8.5 14.3l16.8 -0.4l8.3 -14.8l-8.4 -14.3l8.3 -14.7l16.8 -0.5l8.5 14.3l16.8 -0.4l8.5 14.3l-8.3 14.7zM598.1 1185.2l-8.2 14.8l-16.8 0.4l-8.4 -14.2l8.3 -14.8l16.7 -0.5zM662.7 747.8l-16.8 0.5l-8.3 14.7l8.5 14.3l16.7 -0.4l8.3 -14.8z"/>
</g>
<use href="#seams"/>
<text x="9.5" y="1341.4" font-size="33.6" textLength="719" lengthAdjust="spacingAndGlyphs" stroke="#fff" stroke-width="8.3" stroke-linejoin="round" paint-order="stroke">(C) OpenStreetMap contributors (C) CARTO</text>
<rect x="1191.1" y="21.3" width="520.4" height="315.1" rx="8" fill="#fff" fill-opacity="0.8" stroke="#ccc" stroke-opacity="0.8" stroke-width="4.2"/>
<circle cx="1249.3" cy="54.5" r="20.7" fill="#f7fcf5" fill-opacity="0.7"/>
<text x="1336.8" y="68.7" font-size="42.4" textLength="159.0" lengthAdjust="spacingAndGlyphs">336.04,</text>
<text x="1522.3" y="68.7" font-size="42.4" textLength="145.8" lengthAdjust="spacingAndGlyphs">659.51</text>
<circle cx="1249.3" cy="115.2" r="20.7" fill="#c7e9c0" fill-opacity="0.7"/>
<text x="1336.8" y="129.4" font-size="42.4" textLength="159.0" lengthAdjust="spacingAndGlyphs">659.51,</text>
<text x="1522.3" y="129.4" font-size="42.4" textLength="145.8" lengthAdjust="spacingAndGlyphs">837.09</text>
<circle cx="1249.3" cy="176.0" r="20.7" fill="#73c476" fill-opacity="0.7"/>
<text x="1336.8" y="190.2" font-size="42.4" textLength="159.0" lengthAdjust="spacingAndGlyphs">837.09,</text>
<text x="1509.1" y="190.2" font-size="42.4" textLength="172.2" lengthAdjust="spacingAndGlyphs">1036.88</text>
<circle cx="1249.3" cy="236.8" r="20.7" fill="#228a44" fill-opacity="0.7"/>
<text x="1323.6" y="250.9" font-size="42.4" textLength="185.5" lengthAdjust="spacingAndGlyphs">1036.88,</text>
<text x="1522.3" y="250.9" font-size="42.4" textLength="172.2" lengthAdjust="spacingAndGlyphs">1473.84</text>
<circle cx="1249.3" cy="297.5" r="20.7" fill="#00441b" fill-opacity="0.7"/>
<text x="1323.6" y="311.7" font-size="42.4" textLength="185.5" lengthAdjust="spacingAndGlyphs">1473.84,</text>
<text x="1522.3" y="311.7" font-size="42.4" textLength="172.2" lengthAdjust="spacingAndGlyphs">3394.99</text>
</g>
<text x="2674.5" y="1918.9" font-size="50.9" text-anchor="middle" textLength="127.2" lengthAdjust="spacingAndGlyphs">2020</text>
<g transform="translate(1808,1944)" clip-path="url(#cp)">
<use href="#base"/>
<g fill-opacity="0.7">
<path fill="#f7fcf5" d="M1627.5 653.7l-8.4 14.6l8.4 14.4l-8.4 14.7l8.4 14.3l-8.4 14.7l8.4 14.4l-8.4 14.6l8.4 14.4l-8.4 14.7l8.4 14.4l-8.4 14.6l8.4 14.4l-8.4 14.7l8.4 14.3l-8.4 14.7l8.4 14.4l-8.4 14.6l8.4 14.4l-8.4 14.7l8.4 14.4l-8.4 14.6l8.3 14.4l-8.3 14.7l8.3 14.3l-8.3 14.7l8.3 14.4l-8.3 14.6l8.3 14.4l-8.3 14.7l8.3 14.4l-8.3 14.6l8.3 14.4l-8.3 14.7l8.3 14.3l-8.3 14.7l-16.8 0.3l-8.3 14.7l-16.8 0.3l-8.4 -14.4l-16.7 0.3l-8.4 14.7l-16.7 0.3l-8.3 14.7l-16.8 0.3l-8.4 -14.3l-16.7 0.3l-8.3 14.7l-16.8 0.3l-8.4 -14.4l-16.7 0.4l-8.3 14.7l-16.8 0.3l-8.4 -14.4l-16.7 0.4l-8.4 -14.4l8.4 -14.7l-8.4 -14.3l8.3 -14.7l-8.4 -14.4l8.4 -14.6l-8.4 -14.4l8.3 -14.7l-8.4 -14.3l-16.7 0.3l-8.4 -14.3l-16.7 0.3l-8.4 -14.3l-16.8 0.3l-8.3 14.7l-16.8 0.4l-8.4 -14.4l-16.7 0.4l-8.5 -14.4l8.4 -14.7l-8.4 -14.3l8.3 -14.7l-8.4 -14.3l-16.7 0.3l-8.4 -14.3l8.3 -14.7l16.8 -0.4l8.3 -14.7l-8.4 -14.3l8.4 -14.7l16.7 -0.4l8.4 14.4l16.8 -0.4l8.4 14.3l16.8 -0.3l8.3 -14.7l-8.4 -14.3l8.4 -14.7l-8.4 -14.4l-16.8 0.4l-8.4 -14.4l-16.8 0.4l-8.4 -14.4l8.4 -14.7l-8.5 -14.3l-16.7 0.4l-8.5 -14.4l-16.7 0.4l-8.4 -14.4l8.3 -14.7l-8.4 -14.3l-16.8 0.4l-8.4 -14.4l-16.8 0.4l-8.4 -14.3l8.3 -14.7l-8.4 -14.4l8.4 -14.7l-8.5 -14.3l8.4 -14.7l-8.5 -14.4l8.4 -14.7l-8.4 -14.3l-16.8 0.4l-8.5 -14.4l-16.8 0.4l-8.4 -14.3l-16.8 0.4l-8.3 14.7l-16.8 0.4l-8.5 -14.4l-16.8 0.4l-8.4 -14.3l-16.8 0.4l-8.4 14.7l-16.8 0.4l-8.4 -14.3l-16.8 0.4l-8.5 -14.3l-16.8 0.4l-8.3 14.7l-16.8 0.4l-8.5 -14.3l-16.8 0.4l-8.4 -14.3l-16.8 0.4l-8.4 14.7l-16.8 0.5l-8.3 14.7l-16.8 0.4l-8.3 14.7l-16.8 0.5l-8.4 14.7l-16.7 0.4l-8.4 14.8l-16.8 0.4l-8.4 -14.3l-16.8 0.4l-8.5 -14.3l-16.8 0.5l-8.5 -14.3l8.3 -14.8l-8.4 -14.3l-16.8 0.5l-8.5 -14.3l8.3 -14.7l16.8 -0.5l8.3 -14.7l16.8 -0.5l8.4 -14.7l16.8 -0.5l8.4 14.3l16.9 -0.4l8.4 14.3l16.8 -0.4l8.4 -14.8l16.8 -0.4l8.3 -14.7l16.8 -0.4l8.3 -14.8l16.9 -0.4l8.3 -14.7l-8.5 -14.3l8.4 -14.8l-8.5 -14.3l8.3 -14.7l16.9 -0.4l8.3 -14.7l-8.5 -14.4l-16.8 0.5l-8.5 -14.3l8.4 -14.8l-8.5 -14.3l-16.8 0.4l-8.3 14.8l-16.9 0.4l-8.4 -14.3l-16.9 0.4l-8.4 -14.3l-16.9 0.4l-8.5 -14.3l8.4 -14.7l16.8 -0.4l8.4 -14.8l-8.5 -14.3l8.3 -14.7l-8.5 -14.3l-16.8 0.4l-8.3 14.7l-16.9 0.5l-8.5 -14.3l-16.8 0.4l-8.3 14.8l-16.9 0.4l-8.5 -14.3l8.4 -14.7l-8.5 -14.3l8.3 -14.8l16.9 -0.4l8.5 14.3l16.8 -0.5l8.3 -14.7l16.9 -0.4l8.5 14.3l16.8 -0.5l8.3 -14.7l16.9 -0.4l8.5 14.3l16.8 -0.4l8.4 -14.8l16.8 -0.4l8.5 14.3l16.8 -0.4l8.4 -14.7l16.8 -0.4l8.5 14.3l16.8 -0.4l8.4 -14.7l16.8 -0.5l8.5 14.4l16.8 -0.4l8.4 -14.8l16.8 -0.3l8.5 14.3l16.8 -0.4l8.4 -14.7l16.8 -0.4l8.5 14.3l16.8 -0.4l8.4 -14.7l16.8 -0.4l8.5 14.4l16.8 -0.4l8.4 -14.7l16.8 -0.4l8.5 14.3l16.8 -0.3l8.4 -14.7l16.9 -0.4l8.4 14.3l16.8 -0.3l8.4 -14.7l16.9 -0.4l8.4 14.4l16.8 -0.4l8.4 -14.7l16.9 -0.3l8.4 14.3l16.9 -0.3l8.3 -14.7l16.9 -0.4l8.4 14.4l16.9 -0.4l8.4 -14.7l16.8 -0.3l8.4 14.4l16.9 -0.4l8.4 -14.6l16.8 -0.4l8.4 14.4l16.9 -0.3l8.4 -14.7l16.8 -0.3l8.4 14.3l16.9 -0.3l8.4 -14.7l16.8 -0.3l8.4 14.4l16.9 -0.3l8.4 -14.7l16.8 -0.3l8.5 14.4l16.8 -0.3l8.4 14.3l-8.4 14.7l8.4 14.4l-8.4 14.7l8.4 14.3l-8.4 14.7l8.4 14.4l-8.4 14.6l8.4 14.4l-8.4 14.7l8.4 14.3l-8.5 14.7l8.5 14.4l-8.5 14.7l8.4 14.3l-8.4 14.7l8.4 14.4l-8.4 14.6l8.4 14.4l-8.4 14.7l8.4 14.3l-8.4 14.7l8.4 14.4l-8.4 14.7l8.4 14.3l-8.4 14.7l8.4 14.4l-8.4 14.6l8.4 14.4l-8.4 14.7l-16.8 0.3l-8.4 14.6l8.4 14.4l-8.4 14.7zM466.1 215.9l-8.5 -14.3l-16.8 0.5l-8.5 -14.3l-16.9 0.5l-8.5 -14.3l-16.8 0.5l-8.4 14.8l-16.8 0.5l-8.5 -14.3l8.3 -14.8l-8.5 -14.2l-16.9 0.5l-8.5 -14.3l-16.8 0.5l-8.3 14.8l-16.9 0.5l-8.5 -14.3l8.3 -14.8l-8.5 -14.2l-16.9 0.5l-8.3 14.8l-16.8 0.5l-8.6 -14.3l-16.8 0.5l-8.6 -14.2l8.3 -14.8l16.9 -0.5l8.3 -14.8l16.8 -0.5l8.6 14.2l16.8 -0.5l8.3 -14.7l16.9 -0.5l8.5 14.2l-8.3 14.8l8.5 14.3l16.9 -0.5l8.3 -14.8l16.8 -0.5l8.6 14.3l16.8 -0.5l8.5 14.3l16.9 -0.5l8.5 14.2l16.9 -0.4l8.5 14.2l16.8 -0.5l8.5 14.3l16.9 -0.4l8.5 14.2l16.8 -0.4l8.3 -14.8l16.9 -0.5l8.5 14.3l-8.3 14.8l8.5 14.3l-8.4 14.7l-16.8 0.5l-8.3 14.7l-16.8 0.5l-8.4 14.8l-16.8 0.4l-8.5 -14.2zM774.1 1224.1l-8.3 14.7l-16.7 0.5l-8.5 -14.3l8.3 -14.8l16.8 -0.4zM471.9 1087.1l-8.2 14.8l-16.8 0.5l-8.5 -14.3l8.3 -14.8l16.8 -0.5zM519 592l16.8 -0.5l8.5 14.3l16.8 -0.4l8.5 14.2l-8.3 14.8l-16.8 0.5l-8.3 14.7l-16.8 0.5l-8.5 -14.3l-16.8 0.5l-8.5 -14.3l8.3 -14.8l-8.5 -14.2l8.3 -14.8l16.8 -0.5zM594.5 575.4l-8.3 14.7l-16.8 0.5l-8.5 -14.3l8.3 -14.7l16.8 -0.5zM898.1 857.9l-8.4 14.8l-16.7 0.4l-8.5 -14.3l-16.7 0.4l-8.5 -14.3l8.3 -14.7l16.8 -0.5l8.5 14.3l16.7 -0.4zM521.8 1027.6l-8.3 14.8l-16.7 0.4l-8.5 -14.2l8.3 -14.8l16.7 -0.5z"/>
<path fill="#c7e9c0" d="M1250.5 995l-8.4 14.7l8.5 14.4l16.7 -0.4l8.4 14.4l-8.3 14.7l-16.8 0.3l-8.4 -14.3l-16.7 0.3l-8.4 -14.3l8.3 -14.7l-8.4 -14.3l8.3 -14.7l-8.4 -14.4l8.4 -14.7l16.7 -0.3l8.4 14.3l-8.3 14.7zM1342.8 1065.7l-16.8 0.3l-8.4 -14.3l-16.7 0.3l-8.4 -14.3l8.3 -14.7l16.8 -0.3l8.4 14.3l16.7 -0.3l8.4 14.3l16.7 -0.3l8.4 14.3l-8.3 14.7l8.4 14.4l-8.4 14.6l8.4 14.4l-8.3 14.7l8.4 14.3l-8.4 14.7l8.4 14.4l-8.3 14.7l-16.8 0.3l-8.3 14.7l-16.8 0.3l-8.3 -14.3l8.3 -14.7l16.7 -0.3l8.4 -14.7l-8.4 -14.4l8.3 -14.7l-8.4 -14.3l8.4 -14.7l-8.4 -14.4l8.3 -14.7zM1048 563.9l-8.3 14.7l-16.8 0.4l-8.4 14.8l-16.8 0.3l-8.4 -14.3l-16.8 0.4l-8.5 -14.3l-16.8 0.4l-8.4 -14.3l8.3 -14.7l16.8 -0.4l8.5 14.3l16.8 -0.4l8.4 14.3l16.8 -0.4l8.4 -14.7l16.8 -0.4zM744.7 368.1l-8.4 14.7l-16.8 0.5l-8.3 14.7l-16.8 0.4l-8.5 -14.3l8.3 -14.7l-8.5 -14.3l8.4 -14.7l-8.5 -14.3l8.3 -14.8l16.8 -0.4l8.5 14.3l16.8 -0.5l8.5 14.3l16.8 -0.4l8.5 14.3l-8.3 14.7zM723.9 1225.4l-8.3 14.8l-16.7 0.4l-8.5 -14.3l8.3 -14.7l16.7 -0.5l8.3 -14.7l16.8 -0.5l8.4 14.3l-8.3 14.8zM1275.3 805.7l-8.4 14.7l-16.8 0.4l-8.4 -14.3l8.4 -14.7l16.7 -0.4zM1325.7 862.8l-8.4 14.7l8.4 14.3l-8.3 14.7l-16.8 0.3l-8.4 -14.3l8.3 -14.7l-8.4 -14.3l8.4 -14.7l16.8 -0.4zM471.7 1058.1l-8.2 14.7l-16.8 0.5l-8.5 -14.3l8.3 -14.7l16.8 -0.5zM847.8 859.2l-8.4 14.7l-16.7 0.4l-8.5 -14.3l8.3 -14.7l16.8 -0.4zM331 161.7l-16.8 0.5l-8.5 -14.2l8.3 -14.8l16.8 -0.5l8.5 14.3l16.9 -0.5l8.5 14.2l-8.3 14.8l-16.8 0.5zM794.4 221.6l-8.3 14.7l8.5 14.3l-8.4 14.8l-16.8 0.4l-8.5 -14.3l8.3 -14.8l-8.4 -14.3l8.3 -14.7l16.8 -0.4zM796.2 599.1l-8.3 14.7l-16.8 0.5l-8.5 -14.3l8.4 -14.8l16.7 -0.4l8.4 -14.7l16.8 -0.5l8.4 14.3l-8.3 14.8zM693.3 195.2l-8.4 14.7l-16.8 0.5l-8.5 -14.3l8.3 -14.8l16.9 -0.4zM870.6 321.3l-8.4 14.8l-16.8 0.4l-8.4 -14.3l8.3 -14.8l16.8 -0.4zM1174.1 604.6l-8.4 14.7l-16.7 0.4l-8.5 -14.3l8.4 -14.7l16.8 -0.4zM1250.3 907.9l-8.3 14.7l-16.8 0.4l-8.4 -14.4l8.3 -14.7l16.8 -0.3z"/>
<path fill="#73c476" d="M1016.6 1174.6l8.3 -14.8l16.7 -0.4l8.3 -14.7l-8.4 -14.3l8.3 -14.7l-8.4 -14.3l8.3 -14.8l-8.4 -14.3l8.3 -14.7l16.8 -0.4l8.3 -14.7l-8.4 -14.3l8.3 -14.7l-8.4 -14.4l8.3 -14.7l16.8 -0.4l8.3 -14.7l16.8 -0.4l8.3 -14.7l16.8 -0.3l8.3 -14.7l16.8 -0.4l8.3 -14.7l16.8 -0.4l8.4 14.3l16.8 -0.3l8.4 14.3l-8.4 14.7l8.4 14.4l-8.3 14.7l8.4 14.3l-8.3 14.7l8.4 14.3l16.7 -0.3l8.4 14.3l16.8 -0.3l8.3 -14.7l16.8 -0.4l8.4 14.3l16.7 -0.3l8.4 14.3l16.8 -0.3l8.3 14.3l-8.3 14.7l8.4 14.4l-8.4 14.7l8.4 14.3l-8.3 14.7l8.4 14.4l-8.4 14.7l-16.7 0.3l-8.3 14.7l-16.8 0.3l-8.3 14.7l-16.8 0.4l-8.3 -14.3l-16.8 0.3l-8.3 14.7l-16.7 0.4l-8.4 -14.4l-16.8 0.4l-8.3 14.7l-16.7 0.4l-8.4 14.7l-16.7 0.4l-8.4 -14.4l-16.7 0.4l-8.4 14.7l-16.7 0.4l-8.4 -14.3l-16.7 0.3l-8.4 14.8l-16.7 0.3l-8.4 -14.3l-16.7 0.4l-8.3 14.7l-16.8 0.4l-8.4 -14.3l8.3 -14.7l-8.4 -14.3l8.3 -14.8zM1115.3 591.4l-16.8 0.4l-8.4 14.7l-16.7 0.4l-8.5 -14.3l-16.8 0.4l-8.4 -14.4l8.3 -14.7l16.8 -0.4l8.5 14.4l16.8 -0.4l8.3 -14.7l16.8 -0.4l8.4 14.3l16.8 -0.4l8.5 14.4l-8.4 14.7l-16.8 0.4zM796.5 657.2l-8.3 14.7l8.4 14.3l16.8 -0.4l8.5 14.3l16.8 -0.4l8.4 14.3l-8.3 14.7l-16.8 0.4l-8.3 14.8l-16.8 0.4l-8.3 14.7l8.4 14.3l-8.3 14.8l-16.7 0.4l-8.5 -14.3l8.3 -14.7l-8.5 -14.3l-16.7 0.4l-8.5 -14.3l8.3 -14.7l-8.4 -14.3l8.3 -14.8l16.8 -0.4l8.3 -14.8l-8.5 -14.3l-16.8 0.5l-8.4 -14.3l8.3 -14.8l-8.5 -14.3l8.3 -14.7l16.8 -0.4l8.5 14.3l16.8 -0.5l8.5 14.3l-8.4 14.8zM795.1 366.8l-8.3 14.7l-16.8 0.4l-8.5 -14.3l8.3 -14.7l16.8 -0.4zM1174.3 662.7l-8.4 14.7l8.4 14.4l-8.3 14.7l-16.8 0.3l-8.4 -14.3l8.3 -14.7l-8.4 -14.3l8.3 -14.7l16.8 -0.4zM845.9 452.6l-8.3 14.8l-16.8 0.4l-8.5 -14.3l8.4 -14.8l16.8 -0.4l8.3 -14.7l16.8 -0.4l8.5 14.3l-8.3 14.7zM769.4 265.8l-8.4 14.7l-16.8 0.5l-8.5 -14.3l8.4 -14.8l16.8 -0.4zM744.8 397.1l-8.3 14.8l-16.8 0.4l-8.4 14.7l-16.8 0.5l-8.3 14.7l-16.8 0.5l-8.5 -14.3l8.3 -14.8l16.8 -0.4l8.4 -14.8l16.8 -0.4l8.3 -14.7l16.8 -0.5zM1224.8 748.7l-8.3 14.7l-16.8 0.4l-8.4 -14.3l8.3 -14.7l16.8 -0.4zM923.2 842.8l-8.4 14.7l-16.7 0.4l-8.5 -14.3l8.3 -14.7l16.8 -0.4zM542 228.3l-8.4 14.8l-16.8 0.4l-8.3 14.8l-16.8 0.5l-8.6 -14.3l8.4 -14.8l16.8 -0.5l8.3 -14.7l16.8 -0.5zM494.1 636.3l-8.3 14.7l-16.8 0.5l-8.5 -14.3l8.3 -14.7l16.8 -0.5zM896.7 538.5l-8.3 14.7l-16.8 0.4l-8.5 -14.3l8.4 -14.7l16.8 -0.4zM594.9 633.5l-8.3 14.7l-16.8 0.5l-8.3 14.7l-16.8 0.5l-8.5 -14.3l8.3 -14.7l16.8 -0.5l8.3 -14.8l16.8 -0.4zM667.9 181.3l-8.3 14.8l-16.8 0.4l-8.5 -14.3l8.3 -14.7l16.8 -0.5zM743.9 222.9l-8.3 14.7l-16.8 0.5l-8.5 -14.3l8.3 -14.8l16.8 -0.4zM496.8 1042.8l-8.3 14.8l-16.8 0.5l-8.4 -14.3l8.3 -14.8l16.7 -0.4zM288.6 119.4l-8.3 14.8l-16.9 0.5l-8.5 -14.2l8.3 -14.8l16.9 -0.5zM773.5 1107.9l-8.3 14.8l-16.7 0.4l-8.5 -14.3l8.3 -14.7l16.8 -0.5zM564.1 1099l-16.7 0.5l-8.5 -14.3l8.3 -14.7l16.8 -0.5l8.4 14.3l16.8 -0.5l8.4 14.3l-8.3 14.8l-16.7 0.4z"/>
<path fill="#228a44" d="M915.4 1002.7l8.3 -14.7l-8.4 -14.3l-16.8 0.4l-8.3 14.7l8.5 14.3zM1149.1 677.8l-8.3 14.7l8.4 14.3l16.8 -0.3l8.4 14.3l16.8 -0.4l8.4 14.4l-8.3 14.7l8.4 14.3l16.8 -0.4l8.4 14.4l16.7 -0.4l8.5 14.4l-8.4 14.7l8.4 14.3l16.8 -0.4l8.4 14.4l16.8 -0.4l8.4 14.4l-8.4 14.7l8.4 14.3l-8.3 14.7l-16.8 0.4l-8.4 -14.4l-16.7 0.4l-8.4 14.7l-16.8 0.3l-8.3 14.7l8.4 14.4l-8.3 14.7l-16.8 0.3l-8.4 -14.3l-16.8 0.4l-8.3 14.7l-16.8 0.4l-8.3 14.7l-16.8 0.3l-8.3 14.7l-16.8 0.4l-8.3 14.7l-16.8 0.4l-8.3 14.7l8.4 14.4l-8.3 14.7l8.4 14.3l-8.3 14.7l-16.8 0.4l-8.3 14.7l8.4 14.3l-8.3 14.8l8.4 14.3l-8.3 14.7l8.4 14.3l-8.3 14.7l-16.7 0.4l-8.3 14.8l-16.8 0.3l-8.3 14.8l8.4 14.3l-8.3 14.7l-16.7 0.4l-8.3 14.7l-16.8 0.4l-8.3 14.8l-16.7 0.4l-8.4 -14.4l-16.8 0.5l-8.3 14.7l-16.7 0.4l-8.4 -14.3l-16.8 0.4l-8.4 -14.3l-16.7 0.4l-8.3 14.8l-16.7 0.4l-8.3 14.7l-16.8 0.4l-8.4 -14.3l8.3 -14.7l-8.4 -14.3l-16.8 0.4l-8.4 -14.3l8.3 -14.7l16.7 -0.4l8.4 14.3l16.8 -0.5l8.3 -14.7l-8.5 -14.3l8.3 -14.7l16.8 -0.5l8.3 -14.7l16.7 -0.4l8.3 -14.7l16.8 -0.5l8.3 -14.7l16.7 -0.4l8.3 -14.7l16.8 -0.5l8.3 -14.7l-8.4 -14.3l8.3 -14.7l-8.5 -14.3l-16.7 0.4l-8.4 -14.3l-16.8 0.4l-8.4 -14.3l8.3 -14.8l-8.5 -14.3l-16.7 0.5l-8.5 -14.4l-16.7 0.5l-8.5 -14.3l-16.7 0.4l-8.3 14.7l8.4 14.3l-8.3 14.8l-16.8 0.4l-8.4 -14.3l-16.8 0.4l-8.4 -14.3l8.3 -14.7l-8.5 -14.3l-16.7 0.4l-8.5 -14.3l8.3 -14.7l16.8 -0.5l8.4 14.3l16.8 -0.4l8.5 14.3l16.7 -0.4l8.3 -14.8l16.8 -0.4l8.3 -14.7l-8.4 -14.3l-16.8 0.4l-8.5 -14.3l8.4 -14.7l16.7 -0.5l8.5 14.3l16.7 -0.4l8.4 -14.7l16.7 -0.4l8.5 14.3l16.7 -0.4l8.4 -14.8l16.7 -0.4l8.5 14.3l-8.3 14.8l-16.8 0.4l-8.3 14.7l8.4 14.3l-8.3 14.7l-16.8 0.5l-8.3 14.7l8.5 14.3l16.7 -0.4l8.3 -14.7l16.8 -0.5l8.4 14.4l16.8 -0.4l8.4 14.3l16.8 -0.4l8.3 -14.8l-8.4 -14.3l8.3 -14.7l16.8 -0.4l8.4 14.3l16.7 -0.4l8.4 -14.7l16.7 -0.4l8.4 -14.7l-8.5 -14.3l8.4 -14.7l-8.5 -14.4l-16.7 0.4l-8.5 -14.3l-16.7 0.4l-8.5 -14.3l8.4 -14.7l-8.5 -14.4l-16.7 0.4l-8.4 14.8l-16.7 0.4l-8.4 14.7l-16.7 0.4l-8.5 -14.3l8.3 -14.7l-8.4 -14.4l8.3 -14.7l-8.4 -14.3l8.3 -14.7l16.8 -0.4l8.3 -14.7l16.8 -0.5l8.3 -14.7l-8.4 -14.3l8.3 -14.7l16.8 -0.4l8.3 -14.7l-8.4 -14.4l8.3 -14.7l-8.4 -14.3l8.3 -14.7l-8.4 -14.3l8.3 -14.8l16.8 -0.3l8.4 -14.8l16.8 -0.4l8.4 14.4l16.8 -0.4l8.5 14.3l16.7 -0.4l8.4 -14.7l16.8 -0.4l8.4 14.4l16.8 -0.4l8.5 14.3l16.7 -0.4l8.5 14.4l-8.4 14.7l-16.8 0.4l-8.3 14.7zM870.8 379.4l-8.3 14.7l8.5 14.3l-8.4 14.8l-16.8 0.4l-8.3 14.7l-16.8 0.4l-8.4 14.8l8.5 14.3l-8.3 14.7l-16.8 0.4l-8.4 14.8l-16.8 0.4l-8.4 -14.3l-16.9 0.4l-8.4 -14.3l-16.8 0.5l-8.5 -14.3l-16.8 0.4l-8.5 -14.3l8.3 -14.7l16.8 -0.5l8.4 -14.7l16.8 -0.4l8.3 -14.8l-8.5 -14.3l8.4 -14.7l16.8 -0.5l8.5 14.3l16.8 -0.4l8.3 -14.7l-8.5 -14.3l-16.8 0.4l-8.5 -14.3l-16.8 0.4l-8.5 -14.3l-16.8 0.5l-8.5 -14.3l-16.8 0.4l-8.3 14.8l8.5 14.3l-8.4 14.7l8.5 14.3l-8.3 14.7l8.5 14.3l-8.4 14.8l-16.8 0.4l-8.5 -14.3l8.4 -14.7l-8.5 -14.3l-16.8 0.4l-8.5 -14.2l-16.9 0.4l-8.3 14.8l-16.8 0.4l-8.5 -14.3l-16.8 0.5l-8.3 14.7l-16.8 0.5l-8.5 -14.3l8.3 -14.7l16.8 -0.5l8.3 -14.8l-8.5 -14.2l-16.8 0.4l-8.5 -14.3l8.3 -14.7l-8.5 -14.3l8.3 -14.8l-8.5 -14.2l8.4 -14.8l-8.6 -14.3l8.4 -14.7l-8.5 -14.3l8.3 -14.8l16.8 -0.4l8.4 -14.8l16.8 -0.5l8.5 14.3l16.8 -0.4l8.4 -14.8l16.8 -0.4l8.5 14.3l-8.3 14.7l8.5 14.3l16.8 -0.4l8.5 14.3l16.8 -0.5l8.5 14.3l16.9 -0.4l8.5 14.3l16.8 -0.5l8.3 -14.7l16.9 -0.5l8.4 14.3l-8.3 14.8l-16.8 0.4l-8.4 14.8l8.5 14.3l16.8 -0.5l8.5 14.3l16.9 -0.4l8.4 14.3l16.9 -0.4l8.4 14.3l16.9 -0.4l8.4 14.3l16.8 -0.4l8.5 14.3l16.8 -0.5l8.5 14.4l-8.3 14.7zM745.8 600.4l-8.3 14.7l-16.8 0.5l-8.5 -14.3l-16.7 0.4l-8.5 -14.3l-16.8 0.5l-8.5 -14.3l8.3 -14.8l-8.5 -14.3l8.4 -14.7l16.8 -0.5l8.4 14.3l-8.3 14.8l8.5 14.3l16.8 -0.5l8.5 14.3l16.8 -0.4zM623 1141l-8.3 14.7l-16.7 0.5l-8.5 -14.3l-16.7 0.5l-8.5 -14.3l8.3 -14.8l16.7 -0.4l8.3 -14.8l16.8 -0.4l8.4 14.2l-8.3 14.8zM648.4 1183.9l-8.3 14.7l-16.8 0.5l-8.4 -14.3l8.3 -14.8l16.7 -0.4zM513.7 1071.4l-16.7 0.5l-8.5 -14.3l8.3 -14.8l16.7 -0.4l8.5 14.2l16.7 -0.4l8.3 -14.8l16.8 -0.4l8.4 14.2l16.8 -0.4l8.3 -14.8l-8.5 -14.3l-16.7 0.5l-8.5 -14.3l8.3 -14.7l16.7 -0.5l8.5 14.3l16.8 -0.5l8.4 14.3l16.8 -0.4l8.3 -14.8l-8.5 -14.3l8.3 -14.7l16.8 -0.5l8.3 -14.7l16.7 -0.5l8.5 14.3l-8.3 14.8l8.4 14.3l-8.3 14.7l8.5 14.3l-8.3 14.8l-16.8 0.4l-8.3 14.8l-16.7 0.4l-8.5 -14.3l-16.7 0.5l-8.3 14.7l-16.7 0.5l-8.3 14.7l-16.8 0.5l-8.4 -14.3l-16.8 0.5l-8.3 14.7l-16.7 0.5zM509.6 432.5l8.3 -14.7l-8.5 -14.3l8.3 -14.8l16.8 -0.4l8.5 14.2l-8.3 14.8l8.5 14.3l16.8 -0.5l8.5 14.3l-8.3 14.8l-16.8 0.4l-8.3 14.8l-16.8 0.4l-8.5 -14.2l-16.8 0.4l-8.3 14.8l-16.8 0.5l-8.5 -14.3l-16.8 0.5l-8.5 -14.3l8.3 -14.8l16.8 -0.5l8.5 14.3l16.8 -0.4l8.3 -14.8zM813.4 685.8l-16.8 0.4l-8.4 -14.3l8.3 -14.7l-8.5 -14.3l8.4 -14.8l-8.5 -14.3l8.3 -14.7l16.8 -0.4l8.5 14.3l16.8 -0.4l8.4 14.3l-8.3 14.7l8.5 14.3l-8.4 14.7l8.5 14.4l-8.3 14.7l-16.8 0.4zM847.2 743l-8.3 14.8l-16.8 0.4l-8.4 -14.3l8.3 -14.8l16.8 -0.4l8.3 -14.7l16.8 -0.4l8.4 14.3l-8.3 14.7zM737.8 673.2l-16.8 0.5l-8.4 -14.3l8.3 -14.8l16.8 -0.4l8.4 14.3l16.8 -0.5l8.5 14.3l-8.3 14.8l-16.8 0.4zM640.4 1256.7l-16.7 0.4l-8.5 -14.2l8.3 -14.8l16.7 -0.4l8.5 14.2l16.7 -0.4l8.5 14.3l-8.3 14.7l-16.8 0.5zM738.3 760.3l-16.8 0.5l-8.5 -14.3l8.3 -14.8l-8.4 -14.3l8.3 -14.7l16.8 -0.4l8.4 14.3l-8.3 14.7l8.5 14.3l16.7 -0.4l8.5 14.3l-8.3 14.7l-16.8 0.4zM697.2 921.2l-8.3 14.7l-16.8 0.5l-8.5 -14.3l8.3 -14.8l16.8 -0.4zM798.6 1092.8l-8.3 14.7l-16.8 0.4l-8.4 -14.3l-16.8 0.5l-8.4 -14.3l8.3 -14.8l-8.5 -14.3l8.3 -14.7l16.8 -0.4l8.4 14.3l16.8 -0.5l8.3 -14.7l16.7 -0.4l8.5 14.3l-8.3 14.7l-16.8 0.4l-8.3 14.8zM594.3 546.4l-8.3 14.7l-16.8 0.5l-8.5 -14.3l8.4 -14.8l16.8 -0.4l8.3 -14.8l16.8 -0.4l8.5 14.2l16.8 -0.4l8.4 14.3l-8.3 14.7l-16.8 0.5l-8.5 -14.3zM561.1 605.4l-16.8 0.4l-8.5 -14.3l8.3 -14.7l16.8 -0.5l8.5 14.3l16.8 -0.5l8.5 14.3l-8.3 14.8l-16.8 0.4zM636.9 646.9l-16.8 0.4l-8.4 -14.3l8.3 -14.7l16.8 -0.5l8.4 14.3l16.8 -0.4l8.5 14.3l-8.3 14.7l-16.8 0.4zM695.9 688.8l-8.3 14.8l8.5 14.3l-8.3 14.7l-16.8 0.5l-8.5 -14.3l8.3 -14.8l-8.5 -14.3l8.4 -14.7l16.7 -0.5zM846.5 568.8l-8.4 14.7l-16.8 0.4l-8.4 -14.3l8.3 -14.7l16.8 -0.4l8.3 -14.7l16.8 -0.5l8.5 14.3l-8.3 14.8zM316.4 452.6l-8.3 14.8l-16.8 0.5l-8.5 -14.2l8.3 -14.8l16.8 -0.5l8.3 -14.8l16.8 -0.5l8.5 14.3l-8.3 14.7zM212.4 78.2l-8.3 14.8l-16.8 0.5l-8.5 -14.3l8.3 -14.8l16.8 -0.5zM947.2 566.3l-8.3 14.7l-16.8 0.4l-8.4 -14.3l8.3 -14.7l16.8 -0.4zM466.3 244.9l-8.3 14.8l-16.8 0.5l-8.5 -14.3l8.3 -14.7l-8.5 -14.3l8.3 -14.8l16.8 -0.5l8.5 14.3l-8.3 14.8zM897.9 828.9l-8.3 14.7l-16.7 0.4l-8.5 -14.3l8.3 -14.7l16.8 -0.4zM493.9 607.2l-8.3 14.8l-16.8 0.5l-8.5 -14.3l8.3 -14.8l16.8 -0.4zM671.1 762.1l-8.3 14.8l-16.7 0.4l-8.5 -14.3l8.3 -14.7l16.8 -0.5zM569.9 677.7l-8.3 14.8l-16.7 0.4l-8.5 -14.2l8.3 -14.8l16.8 -0.5zM694.8 485.6l-8.3 14.7l-16.8 0.5l-8.5 -14.3l8.3 -14.8l16.8 -0.4zM773.7 1137l-8.3 14.7l-16.8 0.5l-8.4 -14.3l8.3 -14.8l16.7 -0.4zM749.1 1239.3l-8.3 14.7l-16.8 0.5l-8.4 -14.3l8.3 -14.8l16.7 -0.4zM496.6 1013.8l-8.3 14.8l-16.7 0.4l-8.5 -14.3l8.3 -14.7l16.7 -0.5zM495.1 781.5l-8.3 14.7l-16.8 0.5l-8.5 -14.3l8.3 -14.7l16.8 -0.5z"/>
<path fill="#00441b" d="M847 685l-8.5 -14.4l8.4 -14.7l-8.5 -14.3l8.3 -14.7l-8.4 -14.3l-16.8 0.4l-8.5 -14.3l8.3 -14.8l16.8 -0.4l8.4 -14.7l16.8 -0.4l8.3 -14.8l16.8 -0.4l8.3 -14.7l16.8 -0.4l8.5 14.3l-8.3 14.7l8.4 14.3l16.8 -0.4l8.3 -14.7l16.8 -0.4l8.5 14.3l16.8 -0.4l8.4 14.3l-8.3 14.8l8.4 14.3l-8.3 14.7l8.4 14.3l-8.3 14.7l8.4 14.4l-8.3 14.7l-16.8 0.4l-8.3 14.7l8.4 14.3l-8.3 14.7l-16.8 0.5l-8.3 14.7l-16.8 0.4l-8.3 14.7l8.4 14.3l-8.3 14.7l8.4 14.4l-8.3 14.7l-16.8 0.4l-8.4 -14.3l-16.8 0.4l-8.3 14.7l-16.8 0.5l-8.3 14.7l-16.8 0.4l-8.3 14.7l-16.7 0.5l-8.4 14.7l8.5 14.3l16.8 -0.4l8.4 14.3l-8.3 14.7l-16.8 0.4l-8.3 14.8l-16.7 0.4l-8.5 -14.3l-16.8 0.4l-8.4 -14.3l-16.8 0.5l-8.3 14.7l8.5 14.3l16.7 -0.4l8.5 14.3l-8.3 14.7l8.4 14.3l16.8 -0.4l8.4 14.3l16.8 -0.4l8.3 -14.8l-8.4 -14.3l8.3 -14.7l16.7 -0.4l8.5 14.3l16.7 -0.5l8.5 14.4l16.7 -0.5l8.5 14.3l-8.3 14.8l8.4 14.3l16.8 -0.4l8.4 14.3l16.7 -0.4l8.5 14.3l-8.3 14.7l8.4 14.3l-8.3 14.7l-16.8 0.5l-8.3 14.7l-16.7 0.4l-8.3 14.7l-16.8 0.5l-8.3 14.7l-16.7 0.4l-8.3 14.7l-16.8 0.5l-8.3 14.7l8.5 14.3l-8.3 14.7l-16.8 0.5l-8.4 -14.3l-16.7 0.4l-8.3 14.7l-16.8 0.5l-8.3 14.7l-16.7 0.5l-8.3 14.7l8.5 14.3l16.7 -0.4l8.4 14.3l-8.2 14.7l-16.8 0.4l-8.4 -14.3l-16.7 0.5l-8.5 -14.3l-16.7 0.4l-8.5 -14.2l-16.7 0.4l-8.3 14.8l8.5 14.2l-8.3 14.8l-16.7 0.5l-8.3 14.7l-16.7 0.5l-8.5 -14.3l8.3 -14.8l-8.5 -14.3l8.3 -14.7l-8.5 -14.3l8.3 -14.8l-8.4 -14.2l8.3 -14.8l-8.5 -14.3l-16.7 0.5l-8.5 -14.3l8.3 -14.8l-8.5 -14.2l-16.7 0.4l-8.5 -14.3l-16.7 0.5l-8.5 -14.3l-16.8 0.5l-8.4 -14.3l8.2 -14.7l16.8 -0.5l8.5 14.3l16.7 -0.5l8.5 14.3l16.7 -0.5l8.5 14.3l16.7 -0.5l8.5 14.3l-8.3 14.8l8.5 14.3l16.7 -0.5l8.5 14.3l16.7 -0.5l8.3 -14.7l-8.5 -14.3l8.3 -14.8l-8.4 -14.2l-16.8 0.4l-8.4 -14.3l8.3 -14.7l16.7 -0.5l8.3 -14.7l16.7 -0.5l8.5 14.3l16.7 -0.4l8.3 -14.8l16.8 -0.4l8.3 -14.8l-8.5 -14.3l8.3 -14.7l-8.4 -14.3l8.3 -14.8l-8.5 -14.3l-16.7 0.5l-8.3 14.7l-16.8 0.5l-8.3 14.7l8.5 14.3l-8.3 14.8l-16.8 0.4l-8.4 -14.3l-16.8 0.5l-8.5 -14.3l-16.7 0.5l-8.3 14.7l8.5 14.3l16.7 -0.5l8.5 14.3l-8.3 14.8l-16.8 0.4l-8.4 -14.2l-16.8 0.4l-8.3 14.8l-16.7 0.4l-8.5 -14.2l8.3 -14.8l-8.5 -14.3l-16.7 0.5l-8.5 -14.3l-16.7 0.5l-8.3 14.7l8.5 14.3l-8.3 14.8l-16.8 0.5l-8.5 -14.3l8.3 -14.8l-8.5 -14.2l8.3 -14.8l-8.5 -14.3l8.3 -14.7l-8.5 -14.3l-16.7 0.5l-8.5 -14.3l8.3 -14.8l-8.5 -14.3l8.3 -14.7l16.7 -0.5l8.3 -14.8l-8.5 -14.2l8.3 -14.8l-8.5 -14.3l8.3 -14.7l-8.4 -14.3l8.2 -14.8l-8.4 -14.3l-16.8 0.5l-8.5 -14.3l8.3 -14.7l-8.5 -14.3l8.3 -14.8l-8.5 -14.2l8.3 -14.8l-8.5 -14.3l-16.8 0.5l-8.5 -14.3l8.3 -14.7l-8.5 -14.3l8.3 -14.8l-8.5 -14.2l-16.8 0.4l-8.5 -14.2l8.3 -14.8l-8.5 -14.3l8.2 -14.7l-8.5 -14.3l-16.8 0.5l-8.5 -14.3l8.3 -14.7l-8.5 -14.3l-16.8 0.5l-8.5 -14.3l8.3 -14.8l16.8 -0.5l8.3 -14.7l-8.5 -14.3l-16.8 0.5l-8.3 14.8l-16.8 0.5l-8.6 -14.3l-16.8 0.5l-8.5 -14.2l8.3 -14.8l-8.5 -14.3l-16.8 0.5l-8.6 -14.2l8.3 -14.8l-8.5 -14.3l-16.8 0.5l-8.5 -14.2l-16.9 0.5l-8.5 -14.3l8.3 -14.7l-8.5 -14.3l-16.9 0.5l-8.5 -14.2l-16.8 0.5l-8.6 -14.3l8.3 -14.7l-8.5 -14.3l-16.9 0.5l-8.5 -14.2l-16.8 0.5l-8.6 -14.2l8.3 -14.8l-8.5 -14.3l8.2 -14.8l16.9 -0.5l8.3 -14.8l16.8 -0.5l8.3 -14.8l16.9 -0.5l8.3 -14.8l-8.6 -14.3l8.3 -14.8l16.9 -0.5l8.5 14.3l16.8 -0.5l8.6 14.2l16.8 -0.5l8.6 14.3l16.8 -0.5l8.5 14.2l16.9 -0.5l8.5 14.3l16.9 -0.5l8.5 14.2l16.8 -0.5l8.6 14.3l16.8 -0.5l8.5 14.3l16.8 -0.5l8.4 -14.8l16.8 -0.5l8.5 14.3l16.9 -0.5l8.5 14.3l-8.3 14.8l8.5 14.3l-8.3 14.7l8.5 14.3l16.8 -0.5l8.3 -14.8l16.8 -0.4l8.6 14.3l16.8 -0.5l8.3 -14.8l16.8 -0.4l8.5 14.2l-8.3 14.8l8.5 14.3l-8.3 14.7l8.5 14.3l16.8 -0.4l8.5 14.2l-8.3 14.8l-16.8 0.5l-8.3 14.7l8.5 14.3l16.8 -0.5l8.3 -14.7l16.8 -0.5l8.5 14.3l16.8 -0.4l8.3 -14.8l16.9 -0.4l8.5 14.2l16.8 -0.4l8.5 14.3l-8.4 14.7l8.5 14.3l-8.3 14.8l8.5 14.3l16.8 -0.5l8.5 14.3l16.8 -0.4l8.5 14.3l-8.4 14.7l-16.8 0.5l-8.5 -14.3l-16.8 0.4l-8.3 14.8l8.5 14.3l-8.3 14.7l8.5 14.3l-8.4 14.7l8.5 14.3l-8.3 14.8l8.5 14.3l16.8 -0.5l8.5 14.3l16.7 -0.4l8.5 14.3l16.8 -0.5l8.5 14.3l-8.3 14.8l-16.8 0.4l-8.3 14.8l8.4 14.3l16.8 -0.5l8.5 14.3l-8.3 14.8l-16.8 0.4l-8.3 14.7l8.4 14.3l-8.3 14.8l8.5 14.3l16.8 -0.5l8.4 14.3l16.8 -0.4l8.5 14.3l16.7 -0.4l8.3 -14.8l-8.4 -14.3l8.3 -14.7l16.8 -0.4l8.4 14.3l16.8 -0.4l8.3 -14.8l16.8 -0.4l8.3 -14.7l-8.4 -14.3l-16.8 0.4l-8.4 -14.3zM636.4 559.7l8.3 -14.7l-8.4 -14.3l-16.8 0.4l-8.5 -14.2l-16.8 0.4l-8.3 14.8l-16.8 0.4l-8.4 14.8l8.5 14.3l-8.3 14.7l-16.8 0.5l-8.3 14.7l-16.8 0.5l-8.5 -14.3l-16.8 0.5l-8.3 14.8l-16.8 0.4l-8.3 14.8l8.5 14.3l-8.3 14.7l8.5 14.3l16.8 -0.5l8.3 -14.7l16.8 -0.5l8.5 14.3l16.8 -0.5l8.5 14.3l-8.3 14.8l8.5 14.2l16.7 -0.4l8.3 -14.8l-8.4 -14.3l8.3 -14.7l16.8 -0.5l8.3 -14.7l-8.5 -14.3l8.3 -14.8l-8.5 -14.3l8.3 -14.7l-8.5 -14.3l8.3 -14.7l16.8 -0.5l8.5 14.3zM467.9 477.3l16.8 -0.5l8.3 -14.8l16.8 -0.4l8.5 14.2l16.8 -0.4l8.3 -14.8l16.8 -0.4l8.3 -14.8l-8.5 -14.3l-16.8 0.5l-8.5 -14.3l8.3 -14.8l-8.5 -14.2l-16.8 0.4l-8.3 14.8l8.5 14.3l-8.3 14.7l-16.8 0.5l-8.3 14.8l-16.8 0.4l-8.5 -14.3l-16.8 0.5l-8.3 14.8l8.5 14.3l16.8 -0.5zM815.2 1063.3l8.3 -14.7l-8.5 -14.3l-16.7 0.4l-8.3 14.7l-16.8 0.5l-8.4 -14.3l-16.8 0.4l-8.3 14.7l8.5 14.3l-8.3 14.8l8.4 14.3l-8.3 14.7l8.5 14.3l-8.3 14.8l8.4 14.3l16.8 -0.5l8.3 -14.7l-8.5 -14.3l8.3 -14.8l16.8 -0.4l8.3 -14.7l-8.5 -14.3l8.3 -14.8zM663.6 922.1l8.5 14.3l16.8 -0.5l8.3 -14.7l-8.5 -14.3l-16.8 0.4zM1049.1 883.4l-8.4 14.7l8.5 14.3l-8.4 14.7l-16.7 0.4l-8.4 14.7l-16.7 0.4l-8.4 -14.3l-16.8 0.4l-8.3 14.7l8.4 14.3l-8.3 14.8l-16.8 0.4l-8.4 -14.3l-16.8 0.4l-8.4 -14.4l-16.8 0.5l-8.3 14.7l-16.7 0.4l-8.5 -14.3l8.3 -14.7l16.8 -0.5l8.3 -14.7l-8.4 -14.3l8.3 -14.7l16.8 -0.4l8.3 -14.8l-8.5 -14.3l8.4 -14.7l16.7 -0.4l8.4 -14.7l16.7 -0.4l8.4 -14.8l16.7 -0.4l8.5 14.4l-8.4 14.7l8.5 14.3l16.7 -0.4l8.5 14.3l16.7 -0.4zM495.1 781.5l-8.5 -14.3l-16.8 0.5l-8.3 14.7l8.5 14.3l16.8 -0.5zM640.1 1198.6l8.3 -14.7l-8.5 -14.3l-16.7 0.4l-8.3 14.8l8.4 14.3zM662 631.7l-16.8 0.4l-8.4 -14.3l-16.8 0.5l-8.3 14.7l8.4 14.3l16.8 -0.4l8.5 14.2l16.8 -0.4l8.3 -14.7zM670.7 675l-8.4 14.7l8.5 14.3l-8.3 14.8l8.5 14.3l16.8 -0.5l8.3 -14.7l-8.5 -14.3l8.3 -14.8l-8.5 -14.3zM774.2 1253.1l-8.3 14.8l-16.7 0.4l-8.4 -14.3l8.3 -14.7l16.7 -0.5zM662.7 747.8l-16.8 0.5l-8.3 14.7l8.5 14.3l16.7 -0.4l8.3 -14.8zM849.4 1236.7l-8.3 14.7l-16.7 0.5l-8.4 -14.3l8.3 -14.8l16.7 -0.4zM923.7 988l-8.3 14.7l-16.7 0.4l-8.5 -14.3l8.3 -14.7l16.8 -0.4z"/>
</g>
<use href="#seams"/>
<text x="9.5" y="1341.4" font-size="33.6" textLength="719" lengthAdjust="spacingAndGlyphs" stroke="#fff" stroke-width="8.3" stroke-linejoin="round" paint-order="stroke">(C) OpenStreetMap contributors (C) CARTO</text>
<rect x="1191.1" y="21.3" width="520.4" height="315.1" rx="8" fill="#fff" fill-opacity="0.8" stroke="#ccc" stroke-opacity="0.8" stroke-width="4.2"/>
<circle cx="1249.3" cy="54.5" r="20.7" fill="#f7fcf5" fill-opacity="0.7"/>
<text x="1363.3" y="68.7" font-size="42.4" textLength="106.0" lengthAdjust="spacingAndGlyphs">0.00,</text>
<text x="1495.8" y="68.7" font-size="42.4" textLength="145.8" lengthAdjust="spacingAndGlyphs">659.51</text>
<circle cx="1249.3" cy="115.2" r="20.7" fill="#c7e9c0" fill-opacity="0.7"/>
<text x="1336.8" y="129.4" font-size="42.4" textLength="159.0" lengthAdjust="spacingAndGlyphs">659.51,</text>
<text x="1522.3" y="129.4" font-size="42.4" textLength="145.8" lengthAdjust="spacingAndGlyphs">837.09</text>
<circle cx="1249.3" cy="176.0" r="20.7" fill="#73c476" fill-opacity="0.7"/>
<text x="1336.8" y="190.2" font-size="42.4" textLength="159.0" lengthAdjust="spacingAndGlyphs">837.09,</text>
<text x="1509.1" y="190.2" font-size="42.4" textLength="172.2" lengthAdjust="spacingAndGlyphs">1036.88</text>
<circle cx="1249.3" cy="236.8" r="20.7" fill="#228a44" fill-opacity="0.7"/>
<text x="1323.6" y="250.9" font-size="42.4" textLength="185.5" lengthAdjust="spacingAndGlyphs">1036.88,</text>
<text x="1522.3" y="250.9" font-size="42.4" textLength="172.2" lengthAdjust="spacingAndGlyphs">1473.84</text>
<circle cx="1249.3" cy="297.5" r="20.7" fill="#00441b" fill-opacity="0.7"/>
<text x="1323.6" y="311.7" font-size="42.4" textLength="185.5" lengthAdjust="spacingAndGlyphs">1473.84,</text>
<text x="1522.3" y="311.7" font-size="42.4" textLength="172.2" lengthAdjust="spacingAndGlyphs">3394.99</text>
</g>
</svg></body></html>
